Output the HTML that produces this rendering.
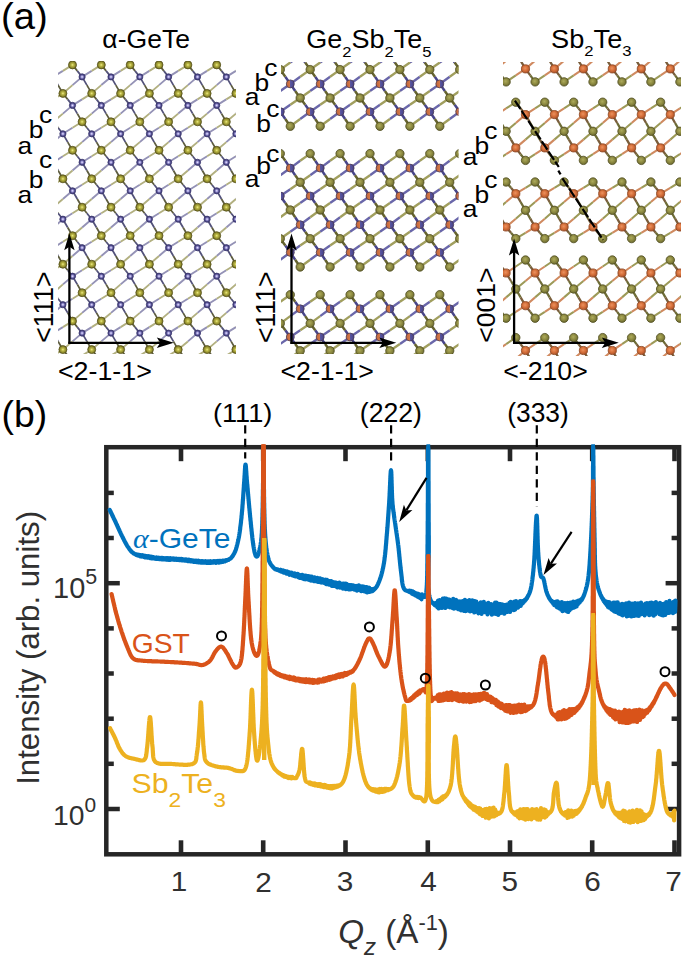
<!DOCTYPE html><html><head><meta charset="utf-8"><style>html,body{margin:0;padding:0;background:#fff;}svg{display:block;}text{font-family:"Liberation Sans",sans-serif;}</style></head><body>
<svg width="685" height="960" viewBox="0 0 685 960">
<defs>
<radialGradient id="gG" cx="0.5" cy="0.5" r="0.55"><stop offset="0" stop-color="#eeec8a"/><stop offset="0.3" stop-color="#bcb846"/><stop offset="0.72" stop-color="#88842a"/><stop offset="1" stop-color="#5a561a"/></radialGradient>
<radialGradient id="gG2" cx="0.45" cy="0.42" r="0.6"><stop offset="0" stop-color="#aeab5c"/><stop offset="0.5" stop-color="#8f8c42"/><stop offset="1" stop-color="#6a6830"/></radialGradient>
<linearGradient id="gM" x1="0" y1="0" x2="1" y2="0"><stop offset="0" stop-color="#c0643a"/><stop offset="0.5" stop-color="#d27848"/><stop offset="0.5" stop-color="#5c57a0"/><stop offset="1" stop-color="#45418a"/></linearGradient>
<radialGradient id="gP" cx="0.5" cy="0.5" r="0.55"><stop offset="0" stop-color="#f0ecff"/><stop offset="0.3" stop-color="#a29cdc"/><stop offset="0.6" stop-color="#55508f"/><stop offset="1" stop-color="#36326c"/></radialGradient>
<radialGradient id="gO" cx="0.45" cy="0.42" r="0.6"><stop offset="0" stop-color="#ec9260"/><stop offset="0.5" stop-color="#d6703a"/><stop offset="1" stop-color="#a8522a"/></radialGradient>
</defs>
<rect width="685" height="960" fill="#fff"/>
<clipPath id="clipA"><rect x="58" y="61" width="178" height="293"/></clipPath>
<g clip-path="url(#clipA)">
<path d="M24.4 76.9L34 70.9M24.4 76.9L14.8 85.1M53.3 76.9L62.9 70.9M53.3 76.9L43.7 85.1M82.1 76.9L91.7 70.9M82.1 76.9L72.5 85.1M111 76.9L120.6 70.9M111 76.9L101.3 85.1M139.8 76.9L149.4 70.9M139.8 76.9L130.2 85.1M168.6 76.9L178.2 70.9M168.6 76.9L159 85.1M197.5 76.9L207.1 70.9M197.5 76.9L187.9 85.1M226.3 76.9L235.9 70.9M226.3 76.9L216.7 85.1M255.2 76.9L264.8 70.9M255.2 76.9L245.5 85.1M14.8 105.4L24.4 99.4M14.8 105.4L5.2 113.6M43.7 105.4L53.3 99.4M43.7 105.4L34 113.6M72.5 105.4L82.1 99.4M72.5 105.4L62.9 113.6M101.3 105.4L111 99.4M101.3 105.4L91.7 113.6M130.2 105.4L139.8 99.4M130.2 105.4L120.6 113.6M159 105.4L168.6 99.4M159 105.4L149.4 113.6M187.9 105.4L197.5 99.4M187.9 105.4L178.2 113.6M216.7 105.4L226.3 99.4M216.7 105.4L207.1 113.6M245.5 105.4L255.2 99.4M245.5 105.4L235.9 113.6M274.4 105.4L284 99.4M274.4 105.4L264.8 113.6M34 133.8L43.7 127.8M34 133.8L24.4 142.1M62.9 133.8L72.5 127.8M62.9 133.8L53.3 142.1M91.7 133.8L101.3 127.8M91.7 133.8L82.1 142.1M120.6 133.8L130.2 127.8M120.6 133.8L111 142.1M149.4 133.8L159 127.8M149.4 133.8L139.8 142.1M178.2 133.8L187.9 127.8M178.2 133.8L168.6 142.1M207.1 133.8L216.7 127.8M207.1 133.8L197.5 142.1M235.9 133.8L245.5 127.8M235.9 133.8L226.3 142.1M264.8 133.8L274.4 127.8M264.8 133.8L255.2 142.1M24.4 162.3L34 156.3M24.4 162.3L14.8 170.5M53.3 162.3L62.9 156.3M53.3 162.3L43.7 170.5M82.1 162.3L91.7 156.3M82.1 162.3L72.5 170.5M111 162.3L120.6 156.3M111 162.3L101.3 170.5M139.8 162.3L149.4 156.3M139.8 162.3L130.2 170.5M168.6 162.3L178.2 156.3M168.6 162.3L159 170.5M197.5 162.3L207.1 156.3M197.5 162.3L187.9 170.5M226.3 162.3L235.9 156.3M226.3 162.3L216.7 170.5M255.2 162.3L264.8 156.3M255.2 162.3L245.5 170.5M14.8 190.8L24.4 184.8M14.8 190.8L5.2 199M43.7 190.8L53.3 184.8M43.7 190.8L34 199M72.5 190.8L82.1 184.8M72.5 190.8L62.9 199M101.3 190.8L111 184.8M101.3 190.8L91.7 199M130.2 190.8L139.8 184.8M130.2 190.8L120.6 199M159 190.8L168.6 184.8M159 190.8L149.4 199M187.9 190.8L197.5 184.8M187.9 190.8L178.2 199M216.7 190.8L226.3 184.8M216.7 190.8L207.1 199M245.5 190.8L255.2 184.8M245.5 190.8L235.9 199M274.4 190.8L284 184.8M274.4 190.8L264.8 199M34 219.2L43.7 213.2M34 219.2L24.4 227.5M62.9 219.2L72.5 213.2M62.9 219.2L53.3 227.5M91.7 219.2L101.3 213.2M91.7 219.2L82.1 227.5M120.6 219.2L130.2 213.2M120.6 219.2L111 227.5M149.4 219.2L159 213.2M149.4 219.2L139.8 227.5M178.2 219.2L187.9 213.2M178.2 219.2L168.6 227.5M207.1 219.2L216.7 213.2M207.1 219.2L197.5 227.5M235.9 219.2L245.5 213.2M235.9 219.2L226.3 227.5M264.8 219.2L274.4 213.2M264.8 219.2L255.2 227.5M24.4 247.7L34 241.7M24.4 247.7L14.8 256M53.3 247.7L62.9 241.7M53.3 247.7L43.7 256M82.1 247.7L91.7 241.7M82.1 247.7L72.5 256M111 247.7L120.6 241.7M111 247.7L101.3 256M139.8 247.7L149.4 241.7M139.8 247.7L130.2 256M168.6 247.7L178.2 241.7M168.6 247.7L159 256M197.5 247.7L207.1 241.7M197.5 247.7L187.9 256M226.3 247.7L235.9 241.7M226.3 247.7L216.7 256M255.2 247.7L264.8 241.7M255.2 247.7L245.5 256M14.8 276.2L24.4 270.2M14.8 276.2L5.2 284.4M43.7 276.2L53.3 270.2M43.7 276.2L34 284.4M72.5 276.2L82.1 270.2M72.5 276.2L62.9 284.4M101.3 276.2L111 270.2M101.3 276.2L91.7 284.4M130.2 276.2L139.8 270.2M130.2 276.2L120.6 284.4M159 276.2L168.6 270.2M159 276.2L149.4 284.4M187.9 276.2L197.5 270.2M187.9 276.2L178.2 284.4M216.7 276.2L226.3 270.2M216.7 276.2L207.1 284.4M245.5 276.2L255.2 270.2M245.5 276.2L235.9 284.4M274.4 276.2L284 270.2M274.4 276.2L264.8 284.4M34 304.7L43.7 298.7M34 304.7L24.4 312.9M62.9 304.7L72.5 298.7M62.9 304.7L53.3 312.9M91.7 304.7L101.3 298.7M91.7 304.7L82.1 312.9M120.6 304.7L130.2 298.7M120.6 304.7L111 312.9M149.4 304.7L159 298.7M149.4 304.7L139.8 312.9M178.2 304.7L187.9 298.7M178.2 304.7L168.6 312.9M207.1 304.7L216.7 298.7M207.1 304.7L197.5 312.9M235.9 304.7L245.5 298.7M235.9 304.7L226.3 312.9M264.8 304.7L274.4 298.7M264.8 304.7L255.2 312.9M24.4 333.1L34 327.1M24.4 333.1L14.8 341.4M53.3 333.1L62.9 327.1M53.3 333.1L43.7 341.4M82.1 333.1L91.7 327.1M82.1 333.1L72.5 341.4M111 333.1L120.6 327.1M111 333.1L101.3 341.4M139.8 333.1L149.4 327.1M139.8 333.1L130.2 341.4M168.6 333.1L178.2 327.1M168.6 333.1L159 341.4M197.5 333.1L207.1 327.1M197.5 333.1L187.9 341.4M226.3 333.1L235.9 327.1M226.3 333.1L216.7 341.4M255.2 333.1L264.8 327.1M255.2 333.1L245.5 341.4M14.8 361.6L24.4 355.6M43.7 361.6L53.3 355.6M72.5 361.6L82.1 355.6M101.3 361.6L111 355.6M130.2 361.6L139.8 355.6M159 361.6L168.6 355.6M187.9 361.6L197.5 355.6M216.7 361.6L226.3 355.6M245.5 361.6L255.2 355.6M274.4 361.6L284 355.6" stroke="#9492b6" stroke-width="1.9" fill="none"/>
<path d="M34 70.9L43.7 64.9M14.8 85.1L5.2 93.4M62.9 70.9L72.5 64.9M43.7 85.1L34 93.4M91.7 70.9L101.3 64.9M72.5 85.1L62.9 93.4M120.6 70.9L130.2 64.9M101.3 85.1L91.7 93.4M149.4 70.9L159 64.9M130.2 85.1L120.6 93.4M178.2 70.9L187.9 64.9M159 85.1L149.4 93.4M207.1 70.9L216.7 64.9M187.9 85.1L178.2 93.4M235.9 70.9L245.5 64.9M216.7 85.1L207.1 93.4M264.8 70.9L274.4 64.9M245.5 85.1L235.9 93.4M24.4 99.4L34 93.4M5.2 113.6L-4.4 121.8M53.3 99.4L62.9 93.4M34 113.6L24.4 121.8M82.1 99.4L91.7 93.4M62.9 113.6L53.3 121.8M111 99.4L120.6 93.4M91.7 113.6L82.1 121.8M139.8 99.4L149.4 93.4M120.6 113.6L111 121.8M168.6 99.4L178.2 93.4M149.4 113.6L139.8 121.8M197.5 99.4L207.1 93.4M178.2 113.6L168.6 121.8M226.3 99.4L235.9 93.4M207.1 113.6L197.5 121.8M255.2 99.4L264.8 93.4M235.9 113.6L226.3 121.8M284 99.4L293.6 93.4M264.8 113.6L255.2 121.8M43.7 127.8L53.3 121.8M24.4 142.1L14.8 150.3M72.5 127.8L82.1 121.8M53.3 142.1L43.7 150.3M101.3 127.8L111 121.8M82.1 142.1L72.5 150.3M130.2 127.8L139.8 121.8M111 142.1L101.3 150.3M159 127.8L168.6 121.8M139.8 142.1L130.2 150.3M187.9 127.8L197.5 121.8M168.6 142.1L159 150.3M216.7 127.8L226.3 121.8M197.5 142.1L187.9 150.3M245.5 127.8L255.2 121.8M226.3 142.1L216.7 150.3M274.4 127.8L284 121.8M255.2 142.1L245.5 150.3M34 156.3L43.7 150.3M14.8 170.5L5.2 178.8M62.9 156.3L72.5 150.3M43.7 170.5L34 178.8M91.7 156.3L101.3 150.3M72.5 170.5L62.9 178.8M120.6 156.3L130.2 150.3M101.3 170.5L91.7 178.8M149.4 156.3L159 150.3M130.2 170.5L120.6 178.8M178.2 156.3L187.9 150.3M159 170.5L149.4 178.8M207.1 156.3L216.7 150.3M187.9 170.5L178.2 178.8M235.9 156.3L245.5 150.3M216.7 170.5L207.1 178.8M264.8 156.3L274.4 150.3M245.5 170.5L235.9 178.8M24.4 184.8L34 178.8M5.2 199L-4.4 207.2M53.3 184.8L62.9 178.8M34 199L24.4 207.2M82.1 184.8L91.7 178.8M62.9 199L53.3 207.2M111 184.8L120.6 178.8M91.7 199L82.1 207.2M139.8 184.8L149.4 178.8M120.6 199L111 207.2M168.6 184.8L178.2 178.8M149.4 199L139.8 207.2M197.5 184.8L207.1 178.8M178.2 199L168.6 207.2M226.3 184.8L235.9 178.8M207.1 199L197.5 207.2M255.2 184.8L264.8 178.8M235.9 199L226.3 207.2M284 184.8L293.6 178.8M264.8 199L255.2 207.2M43.7 213.2L53.3 207.2M24.4 227.5L14.8 235.7M72.5 213.2L82.1 207.2M53.3 227.5L43.7 235.7M101.3 213.2L111 207.2M82.1 227.5L72.5 235.7M130.2 213.2L139.8 207.2M111 227.5L101.3 235.7M159 213.2L168.6 207.2M139.8 227.5L130.2 235.7M187.9 213.2L197.5 207.2M168.6 227.5L159 235.7M216.7 213.2L226.3 207.2M197.5 227.5L187.9 235.7M245.5 213.2L255.2 207.2M226.3 227.5L216.7 235.7M274.4 213.2L284 207.2M255.2 227.5L245.5 235.7M34 241.7L43.7 235.7M14.8 256L5.2 264.2M62.9 241.7L72.5 235.7M43.7 256L34 264.2M91.7 241.7L101.3 235.7M72.5 256L62.9 264.2M120.6 241.7L130.2 235.7M101.3 256L91.7 264.2M149.4 241.7L159 235.7M130.2 256L120.6 264.2M178.2 241.7L187.9 235.7M159 256L149.4 264.2M207.1 241.7L216.7 235.7M187.9 256L178.2 264.2M235.9 241.7L245.5 235.7M216.7 256L207.1 264.2M264.8 241.7L274.4 235.7M245.5 256L235.9 264.2M24.4 270.2L34 264.2M5.2 284.4L-4.4 292.7M53.3 270.2L62.9 264.2M34 284.4L24.4 292.7M82.1 270.2L91.7 264.2M62.9 284.4L53.3 292.7M111 270.2L120.6 264.2M91.7 284.4L82.1 292.7M139.8 270.2L149.4 264.2M120.6 284.4L111 292.7M168.6 270.2L178.2 264.2M149.4 284.4L139.8 292.7M197.5 270.2L207.1 264.2M178.2 284.4L168.6 292.7M226.3 270.2L235.9 264.2M207.1 284.4L197.5 292.7M255.2 270.2L264.8 264.2M235.9 284.4L226.3 292.7M284 270.2L293.6 264.2M264.8 284.4L255.2 292.7M43.7 298.7L53.3 292.7M24.4 312.9L14.8 321.1M72.5 298.7L82.1 292.7M53.3 312.9L43.7 321.1M101.3 298.7L111 292.7M82.1 312.9L72.5 321.1M130.2 298.7L139.8 292.7M111 312.9L101.3 321.1M159 298.7L168.6 292.7M139.8 312.9L130.2 321.1M187.9 298.7L197.5 292.7M168.6 312.9L159 321.1M216.7 298.7L226.3 292.7M197.5 312.9L187.9 321.1M245.5 298.7L255.2 292.7M226.3 312.9L216.7 321.1M274.4 298.7L284 292.7M255.2 312.9L245.5 321.1M34 327.1L43.7 321.1M14.8 341.4L5.2 349.6M62.9 327.1L72.5 321.1M43.7 341.4L34 349.6M91.7 327.1L101.3 321.1M72.5 341.4L62.9 349.6M120.6 327.1L130.2 321.1M101.3 341.4L91.7 349.6M149.4 327.1L159 321.1M130.2 341.4L120.6 349.6M178.2 327.1L187.9 321.1M159 341.4L149.4 349.6M207.1 327.1L216.7 321.1M187.9 341.4L178.2 349.6M235.9 327.1L245.5 321.1M216.7 341.4L207.1 349.6M264.8 327.1L274.4 321.1M245.5 341.4L235.9 349.6M24.4 355.6L34 349.6M53.3 355.6L62.9 349.6M82.1 355.6L91.7 349.6M111 355.6L120.6 349.6M139.8 355.6L149.4 349.6M168.6 355.6L178.2 349.6M197.5 355.6L207.1 349.6M226.3 355.6L235.9 349.6M255.2 355.6L264.8 349.6M284 355.6L293.6 349.6" stroke="#b2b080" stroke-width="1.9" fill="none"/>
<path d="M24.4 76.9L19.6 70.9M24.4 76.9L29.2 85.1M53.3 76.9L48.5 70.9M53.3 76.9L58.1 85.1M82.1 76.9L77.3 70.9M82.1 76.9L86.9 85.1M111 76.9L106.1 70.9M111 76.9L115.8 85.1M139.8 76.9L135 70.9M139.8 76.9L144.6 85.1M168.6 76.9L163.8 70.9M168.6 76.9L173.4 85.1M197.5 76.9L192.7 70.9M197.5 76.9L202.3 85.1M226.3 76.9L221.5 70.9M226.3 76.9L231.1 85.1M255.2 76.9L250.3 70.9M255.2 76.9L260 85.1M14.8 105.4L10 99.4M14.8 105.4L19.6 113.6M43.7 105.4L38.9 99.4M43.7 105.4L48.5 113.6M72.5 105.4L67.7 99.4M72.5 105.4L77.3 113.6M101.3 105.4L96.5 99.4M101.3 105.4L106.1 113.6M130.2 105.4L125.4 99.4M130.2 105.4L135 113.6M159 105.4L154.2 99.4M159 105.4L163.8 113.6M187.9 105.4L183.1 99.4M187.9 105.4L192.7 113.6M216.7 105.4L211.9 99.4M216.7 105.4L221.5 113.6M245.5 105.4L240.7 99.4M245.5 105.4L250.3 113.6M274.4 105.4L269.6 99.4M274.4 105.4L279.2 113.6M34 133.8L29.2 127.8M34 133.8L38.9 142.1M62.9 133.8L58.1 127.8M62.9 133.8L67.7 142.1M91.7 133.8L86.9 127.8M91.7 133.8L96.5 142.1M120.6 133.8L115.8 127.8M120.6 133.8L125.4 142.1M149.4 133.8L144.6 127.8M149.4 133.8L154.2 142.1M178.2 133.8L173.4 127.8M178.2 133.8L183.1 142.1M207.1 133.8L202.3 127.8M207.1 133.8L211.9 142.1M235.9 133.8L231.1 127.8M235.9 133.8L240.7 142.1M264.8 133.8L260 127.8M264.8 133.8L269.6 142.1M24.4 162.3L19.6 156.3M24.4 162.3L29.2 170.5M53.3 162.3L48.5 156.3M53.3 162.3L58.1 170.5M82.1 162.3L77.3 156.3M82.1 162.3L86.9 170.5M111 162.3L106.1 156.3M111 162.3L115.8 170.5M139.8 162.3L135 156.3M139.8 162.3L144.6 170.5M168.6 162.3L163.8 156.3M168.6 162.3L173.4 170.5M197.5 162.3L192.7 156.3M197.5 162.3L202.3 170.5M226.3 162.3L221.5 156.3M226.3 162.3L231.1 170.5M255.2 162.3L250.3 156.3M255.2 162.3L260 170.5M14.8 190.8L10 184.8M14.8 190.8L19.6 199M43.7 190.8L38.9 184.8M43.7 190.8L48.5 199M72.5 190.8L67.7 184.8M72.5 190.8L77.3 199M101.3 190.8L96.5 184.8M101.3 190.8L106.1 199M130.2 190.8L125.4 184.8M130.2 190.8L135 199M159 190.8L154.2 184.8M159 190.8L163.8 199M187.9 190.8L183.1 184.8M187.9 190.8L192.7 199M216.7 190.8L211.9 184.8M216.7 190.8L221.5 199M245.5 190.8L240.7 184.8M245.5 190.8L250.3 199M274.4 190.8L269.6 184.8M274.4 190.8L279.2 199M34 219.2L29.2 213.2M34 219.2L38.9 227.5M62.9 219.2L58.1 213.2M62.9 219.2L67.7 227.5M91.7 219.2L86.9 213.2M91.7 219.2L96.5 227.5M120.6 219.2L115.8 213.2M120.6 219.2L125.4 227.5M149.4 219.2L144.6 213.2M149.4 219.2L154.2 227.5M178.2 219.2L173.4 213.2M178.2 219.2L183.1 227.5M207.1 219.2L202.3 213.2M207.1 219.2L211.9 227.5M235.9 219.2L231.1 213.2M235.9 219.2L240.7 227.5M264.8 219.2L260 213.2M264.8 219.2L269.6 227.5M24.4 247.7L19.6 241.7M24.4 247.7L29.2 256M53.3 247.7L48.5 241.7M53.3 247.7L58.1 256M82.1 247.7L77.3 241.7M82.1 247.7L86.9 256M111 247.7L106.1 241.7M111 247.7L115.8 256M139.8 247.7L135 241.7M139.8 247.7L144.6 256M168.6 247.7L163.8 241.7M168.6 247.7L173.4 256M197.5 247.7L192.7 241.7M197.5 247.7L202.3 256M226.3 247.7L221.5 241.7M226.3 247.7L231.1 256M255.2 247.7L250.3 241.7M255.2 247.7L260 256M14.8 276.2L10 270.2M14.8 276.2L19.6 284.4M43.7 276.2L38.9 270.2M43.7 276.2L48.5 284.4M72.5 276.2L67.7 270.2M72.5 276.2L77.3 284.4M101.3 276.2L96.5 270.2M101.3 276.2L106.1 284.4M130.2 276.2L125.4 270.2M130.2 276.2L135 284.4M159 276.2L154.2 270.2M159 276.2L163.8 284.4M187.9 276.2L183.1 270.2M187.9 276.2L192.7 284.4M216.7 276.2L211.9 270.2M216.7 276.2L221.5 284.4M245.5 276.2L240.7 270.2M245.5 276.2L250.3 284.4M274.4 276.2L269.6 270.2M274.4 276.2L279.2 284.4M34 304.7L29.2 298.7M34 304.7L38.9 312.9M62.9 304.7L58.1 298.7M62.9 304.7L67.7 312.9M91.7 304.7L86.9 298.7M91.7 304.7L96.5 312.9M120.6 304.7L115.8 298.7M120.6 304.7L125.4 312.9M149.4 304.7L144.6 298.7M149.4 304.7L154.2 312.9M178.2 304.7L173.4 298.7M178.2 304.7L183.1 312.9M207.1 304.7L202.3 298.7M207.1 304.7L211.9 312.9M235.9 304.7L231.1 298.7M235.9 304.7L240.7 312.9M264.8 304.7L260 298.7M264.8 304.7L269.6 312.9M24.4 333.1L19.6 327.1M24.4 333.1L29.2 341.4M53.3 333.1L48.5 327.1M53.3 333.1L58.1 341.4M82.1 333.1L77.3 327.1M82.1 333.1L86.9 341.4M111 333.1L106.1 327.1M111 333.1L115.8 341.4M139.8 333.1L135 327.1M139.8 333.1L144.6 341.4M168.6 333.1L163.8 327.1M168.6 333.1L173.4 341.4M197.5 333.1L192.7 327.1M197.5 333.1L202.3 341.4M226.3 333.1L221.5 327.1M226.3 333.1L231.1 341.4M255.2 333.1L250.3 327.1M255.2 333.1L260 341.4M14.8 361.6L10 355.6M43.7 361.6L38.9 355.6M72.5 361.6L67.7 355.6M101.3 361.6L96.5 355.6M130.2 361.6L125.4 355.6M159 361.6L154.2 355.6M187.9 361.6L183.1 355.6M216.7 361.6L211.9 355.6M245.5 361.6L240.7 355.6M274.4 361.6L269.6 355.6" stroke="#53527a" stroke-width="1.75" fill="none"/>
<path d="M19.6 70.9L14.8 64.9M29.2 85.1L34 93.4M48.5 70.9L43.7 64.9M58.1 85.1L62.9 93.4M77.3 70.9L72.5 64.9M86.9 85.1L91.7 93.4M106.1 70.9L101.3 64.9M115.8 85.1L120.6 93.4M135 70.9L130.2 64.9M144.6 85.1L149.4 93.4M163.8 70.9L159 64.9M173.4 85.1L178.2 93.4M192.7 70.9L187.9 64.9M202.3 85.1L207.1 93.4M221.5 70.9L216.7 64.9M231.1 85.1L235.9 93.4M250.3 70.9L245.5 64.9M260 85.1L264.8 93.4M10 99.4L5.2 93.4M19.6 113.6L24.4 121.8M38.9 99.4L34 93.4M48.5 113.6L53.3 121.8M67.7 99.4L62.9 93.4M77.3 113.6L82.1 121.8M96.5 99.4L91.7 93.4M106.1 113.6L111 121.8M125.4 99.4L120.6 93.4M135 113.6L139.8 121.8M154.2 99.4L149.4 93.4M163.8 113.6L168.6 121.8M183.1 99.4L178.2 93.4M192.7 113.6L197.5 121.8M211.9 99.4L207.1 93.4M221.5 113.6L226.3 121.8M240.7 99.4L235.9 93.4M250.3 113.6L255.2 121.8M269.6 99.4L264.8 93.4M279.2 113.6L284 121.8M29.2 127.8L24.4 121.8M38.9 142.1L43.7 150.3M58.1 127.8L53.3 121.8M67.7 142.1L72.5 150.3M86.9 127.8L82.1 121.8M96.5 142.1L101.3 150.3M115.8 127.8L111 121.8M125.4 142.1L130.2 150.3M144.6 127.8L139.8 121.8M154.2 142.1L159 150.3M173.4 127.8L168.6 121.8M183.1 142.1L187.9 150.3M202.3 127.8L197.5 121.8M211.9 142.1L216.7 150.3M231.1 127.8L226.3 121.8M240.7 142.1L245.5 150.3M260 127.8L255.2 121.8M269.6 142.1L274.4 150.3M19.6 156.3L14.8 150.3M29.2 170.5L34 178.8M48.5 156.3L43.7 150.3M58.1 170.5L62.9 178.8M77.3 156.3L72.5 150.3M86.9 170.5L91.7 178.8M106.1 156.3L101.3 150.3M115.8 170.5L120.6 178.8M135 156.3L130.2 150.3M144.6 170.5L149.4 178.8M163.8 156.3L159 150.3M173.4 170.5L178.2 178.8M192.7 156.3L187.9 150.3M202.3 170.5L207.1 178.8M221.5 156.3L216.7 150.3M231.1 170.5L235.9 178.8M250.3 156.3L245.5 150.3M260 170.5L264.8 178.8M10 184.8L5.2 178.8M19.6 199L24.4 207.2M38.9 184.8L34 178.8M48.5 199L53.3 207.2M67.7 184.8L62.9 178.8M77.3 199L82.1 207.2M96.5 184.8L91.7 178.8M106.1 199L111 207.2M125.4 184.8L120.6 178.8M135 199L139.8 207.2M154.2 184.8L149.4 178.8M163.8 199L168.6 207.2M183.1 184.8L178.2 178.8M192.7 199L197.5 207.2M211.9 184.8L207.1 178.8M221.5 199L226.3 207.2M240.7 184.8L235.9 178.8M250.3 199L255.2 207.2M269.6 184.8L264.8 178.8M279.2 199L284 207.2M29.2 213.2L24.4 207.2M38.9 227.5L43.7 235.7M58.1 213.2L53.3 207.2M67.7 227.5L72.5 235.7M86.9 213.2L82.1 207.2M96.5 227.5L101.3 235.7M115.8 213.2L111 207.2M125.4 227.5L130.2 235.7M144.6 213.2L139.8 207.2M154.2 227.5L159 235.7M173.4 213.2L168.6 207.2M183.1 227.5L187.9 235.7M202.3 213.2L197.5 207.2M211.9 227.5L216.7 235.7M231.1 213.2L226.3 207.2M240.7 227.5L245.5 235.7M260 213.2L255.2 207.2M269.6 227.5L274.4 235.7M19.6 241.7L14.8 235.7M29.2 256L34 264.2M48.5 241.7L43.7 235.7M58.1 256L62.9 264.2M77.3 241.7L72.5 235.7M86.9 256L91.7 264.2M106.1 241.7L101.3 235.7M115.8 256L120.6 264.2M135 241.7L130.2 235.7M144.6 256L149.4 264.2M163.8 241.7L159 235.7M173.4 256L178.2 264.2M192.7 241.7L187.9 235.7M202.3 256L207.1 264.2M221.5 241.7L216.7 235.7M231.1 256L235.9 264.2M250.3 241.7L245.5 235.7M260 256L264.8 264.2M10 270.2L5.2 264.2M19.6 284.4L24.4 292.7M38.9 270.2L34 264.2M48.5 284.4L53.3 292.7M67.7 270.2L62.9 264.2M77.3 284.4L82.1 292.7M96.5 270.2L91.7 264.2M106.1 284.4L111 292.7M125.4 270.2L120.6 264.2M135 284.4L139.8 292.7M154.2 270.2L149.4 264.2M163.8 284.4L168.6 292.7M183.1 270.2L178.2 264.2M192.7 284.4L197.5 292.7M211.9 270.2L207.1 264.2M221.5 284.4L226.3 292.7M240.7 270.2L235.9 264.2M250.3 284.4L255.2 292.7M269.6 270.2L264.8 264.2M279.2 284.4L284 292.7M29.2 298.7L24.4 292.7M38.9 312.9L43.7 321.1M58.1 298.7L53.3 292.7M67.7 312.9L72.5 321.1M86.9 298.7L82.1 292.7M96.5 312.9L101.3 321.1M115.8 298.7L111 292.7M125.4 312.9L130.2 321.1M144.6 298.7L139.8 292.7M154.2 312.9L159 321.1M173.4 298.7L168.6 292.7M183.1 312.9L187.9 321.1M202.3 298.7L197.5 292.7M211.9 312.9L216.7 321.1M231.1 298.7L226.3 292.7M240.7 312.9L245.5 321.1M260 298.7L255.2 292.7M269.6 312.9L274.4 321.1M19.6 327.1L14.8 321.1M29.2 341.4L34 349.6M48.5 327.1L43.7 321.1M58.1 341.4L62.9 349.6M77.3 327.1L72.5 321.1M86.9 341.4L91.7 349.6M106.1 327.1L101.3 321.1M115.8 341.4L120.6 349.6M135 327.1L130.2 321.1M144.6 341.4L149.4 349.6M163.8 327.1L159 321.1M173.4 341.4L178.2 349.6M192.7 327.1L187.9 321.1M202.3 341.4L207.1 349.6M221.5 327.1L216.7 321.1M231.1 341.4L235.9 349.6M250.3 327.1L245.5 321.1M260 341.4L264.8 349.6M10 355.6L5.2 349.6M38.9 355.6L34 349.6M67.7 355.6L62.9 349.6M96.5 355.6L91.7 349.6M125.4 355.6L120.6 349.6M154.2 355.6L149.4 349.6M183.1 355.6L178.2 349.6M211.9 355.6L207.1 349.6M240.7 355.6L235.9 349.6M269.6 355.6L264.8 349.6" stroke="#5e5d40" stroke-width="1.75" fill="none"/>
<circle cx="14.8" cy="64.9" r="4" fill="url(#gG)" stroke="#5a561c" stroke-width="0.8"/>
<circle cx="43.7" cy="64.9" r="4" fill="url(#gG)" stroke="#5a561c" stroke-width="0.8"/>
<circle cx="72.5" cy="64.9" r="4" fill="url(#gG)" stroke="#5a561c" stroke-width="0.8"/>
<circle cx="101.3" cy="64.9" r="4" fill="url(#gG)" stroke="#5a561c" stroke-width="0.8"/>
<circle cx="130.2" cy="64.9" r="4" fill="url(#gG)" stroke="#5a561c" stroke-width="0.8"/>
<circle cx="159" cy="64.9" r="4" fill="url(#gG)" stroke="#5a561c" stroke-width="0.8"/>
<circle cx="187.9" cy="64.9" r="4" fill="url(#gG)" stroke="#5a561c" stroke-width="0.8"/>
<circle cx="216.7" cy="64.9" r="4" fill="url(#gG)" stroke="#5a561c" stroke-width="0.8"/>
<circle cx="245.5" cy="64.9" r="4" fill="url(#gG)" stroke="#5a561c" stroke-width="0.8"/>
<circle cx="274.4" cy="64.9" r="4" fill="url(#gG)" stroke="#5a561c" stroke-width="0.8"/>
<circle cx="24.4" cy="76.9" r="3.1" fill="url(#gP)" stroke="#3a3670" stroke-width="0.8"/>
<circle cx="53.3" cy="76.9" r="3.1" fill="url(#gP)" stroke="#3a3670" stroke-width="0.8"/>
<circle cx="82.1" cy="76.9" r="3.1" fill="url(#gP)" stroke="#3a3670" stroke-width="0.8"/>
<circle cx="111" cy="76.9" r="3.1" fill="url(#gP)" stroke="#3a3670" stroke-width="0.8"/>
<circle cx="139.8" cy="76.9" r="3.1" fill="url(#gP)" stroke="#3a3670" stroke-width="0.8"/>
<circle cx="168.6" cy="76.9" r="3.1" fill="url(#gP)" stroke="#3a3670" stroke-width="0.8"/>
<circle cx="197.5" cy="76.9" r="3.1" fill="url(#gP)" stroke="#3a3670" stroke-width="0.8"/>
<circle cx="226.3" cy="76.9" r="3.1" fill="url(#gP)" stroke="#3a3670" stroke-width="0.8"/>
<circle cx="255.2" cy="76.9" r="3.1" fill="url(#gP)" stroke="#3a3670" stroke-width="0.8"/>
<circle cx="34" cy="93.4" r="4" fill="url(#gG)" stroke="#5a561c" stroke-width="0.8"/>
<circle cx="62.9" cy="93.4" r="4" fill="url(#gG)" stroke="#5a561c" stroke-width="0.8"/>
<circle cx="91.7" cy="93.4" r="4" fill="url(#gG)" stroke="#5a561c" stroke-width="0.8"/>
<circle cx="120.6" cy="93.4" r="4" fill="url(#gG)" stroke="#5a561c" stroke-width="0.8"/>
<circle cx="149.4" cy="93.4" r="4" fill="url(#gG)" stroke="#5a561c" stroke-width="0.8"/>
<circle cx="178.2" cy="93.4" r="4" fill="url(#gG)" stroke="#5a561c" stroke-width="0.8"/>
<circle cx="207.1" cy="93.4" r="4" fill="url(#gG)" stroke="#5a561c" stroke-width="0.8"/>
<circle cx="235.9" cy="93.4" r="4" fill="url(#gG)" stroke="#5a561c" stroke-width="0.8"/>
<circle cx="264.8" cy="93.4" r="4" fill="url(#gG)" stroke="#5a561c" stroke-width="0.8"/>
<circle cx="14.8" cy="105.4" r="3.1" fill="url(#gP)" stroke="#3a3670" stroke-width="0.8"/>
<circle cx="43.7" cy="105.4" r="3.1" fill="url(#gP)" stroke="#3a3670" stroke-width="0.8"/>
<circle cx="72.5" cy="105.4" r="3.1" fill="url(#gP)" stroke="#3a3670" stroke-width="0.8"/>
<circle cx="101.3" cy="105.4" r="3.1" fill="url(#gP)" stroke="#3a3670" stroke-width="0.8"/>
<circle cx="130.2" cy="105.4" r="3.1" fill="url(#gP)" stroke="#3a3670" stroke-width="0.8"/>
<circle cx="159" cy="105.4" r="3.1" fill="url(#gP)" stroke="#3a3670" stroke-width="0.8"/>
<circle cx="187.9" cy="105.4" r="3.1" fill="url(#gP)" stroke="#3a3670" stroke-width="0.8"/>
<circle cx="216.7" cy="105.4" r="3.1" fill="url(#gP)" stroke="#3a3670" stroke-width="0.8"/>
<circle cx="245.5" cy="105.4" r="3.1" fill="url(#gP)" stroke="#3a3670" stroke-width="0.8"/>
<circle cx="274.4" cy="105.4" r="3.1" fill="url(#gP)" stroke="#3a3670" stroke-width="0.8"/>
<circle cx="24.4" cy="121.8" r="4" fill="url(#gG)" stroke="#5a561c" stroke-width="0.8"/>
<circle cx="53.3" cy="121.8" r="4" fill="url(#gG)" stroke="#5a561c" stroke-width="0.8"/>
<circle cx="82.1" cy="121.8" r="4" fill="url(#gG)" stroke="#5a561c" stroke-width="0.8"/>
<circle cx="111" cy="121.8" r="4" fill="url(#gG)" stroke="#5a561c" stroke-width="0.8"/>
<circle cx="139.8" cy="121.8" r="4" fill="url(#gG)" stroke="#5a561c" stroke-width="0.8"/>
<circle cx="168.6" cy="121.8" r="4" fill="url(#gG)" stroke="#5a561c" stroke-width="0.8"/>
<circle cx="197.5" cy="121.8" r="4" fill="url(#gG)" stroke="#5a561c" stroke-width="0.8"/>
<circle cx="226.3" cy="121.8" r="4" fill="url(#gG)" stroke="#5a561c" stroke-width="0.8"/>
<circle cx="255.2" cy="121.8" r="4" fill="url(#gG)" stroke="#5a561c" stroke-width="0.8"/>
<circle cx="34" cy="133.8" r="3.1" fill="url(#gP)" stroke="#3a3670" stroke-width="0.8"/>
<circle cx="62.9" cy="133.8" r="3.1" fill="url(#gP)" stroke="#3a3670" stroke-width="0.8"/>
<circle cx="91.7" cy="133.8" r="3.1" fill="url(#gP)" stroke="#3a3670" stroke-width="0.8"/>
<circle cx="120.6" cy="133.8" r="3.1" fill="url(#gP)" stroke="#3a3670" stroke-width="0.8"/>
<circle cx="149.4" cy="133.8" r="3.1" fill="url(#gP)" stroke="#3a3670" stroke-width="0.8"/>
<circle cx="178.2" cy="133.8" r="3.1" fill="url(#gP)" stroke="#3a3670" stroke-width="0.8"/>
<circle cx="207.1" cy="133.8" r="3.1" fill="url(#gP)" stroke="#3a3670" stroke-width="0.8"/>
<circle cx="235.9" cy="133.8" r="3.1" fill="url(#gP)" stroke="#3a3670" stroke-width="0.8"/>
<circle cx="264.8" cy="133.8" r="3.1" fill="url(#gP)" stroke="#3a3670" stroke-width="0.8"/>
<circle cx="14.8" cy="150.3" r="4" fill="url(#gG)" stroke="#5a561c" stroke-width="0.8"/>
<circle cx="43.7" cy="150.3" r="4" fill="url(#gG)" stroke="#5a561c" stroke-width="0.8"/>
<circle cx="72.5" cy="150.3" r="4" fill="url(#gG)" stroke="#5a561c" stroke-width="0.8"/>
<circle cx="101.3" cy="150.3" r="4" fill="url(#gG)" stroke="#5a561c" stroke-width="0.8"/>
<circle cx="130.2" cy="150.3" r="4" fill="url(#gG)" stroke="#5a561c" stroke-width="0.8"/>
<circle cx="159" cy="150.3" r="4" fill="url(#gG)" stroke="#5a561c" stroke-width="0.8"/>
<circle cx="187.9" cy="150.3" r="4" fill="url(#gG)" stroke="#5a561c" stroke-width="0.8"/>
<circle cx="216.7" cy="150.3" r="4" fill="url(#gG)" stroke="#5a561c" stroke-width="0.8"/>
<circle cx="245.5" cy="150.3" r="4" fill="url(#gG)" stroke="#5a561c" stroke-width="0.8"/>
<circle cx="274.4" cy="150.3" r="4" fill="url(#gG)" stroke="#5a561c" stroke-width="0.8"/>
<circle cx="24.4" cy="162.3" r="3.1" fill="url(#gP)" stroke="#3a3670" stroke-width="0.8"/>
<circle cx="53.3" cy="162.3" r="3.1" fill="url(#gP)" stroke="#3a3670" stroke-width="0.8"/>
<circle cx="82.1" cy="162.3" r="3.1" fill="url(#gP)" stroke="#3a3670" stroke-width="0.8"/>
<circle cx="111" cy="162.3" r="3.1" fill="url(#gP)" stroke="#3a3670" stroke-width="0.8"/>
<circle cx="139.8" cy="162.3" r="3.1" fill="url(#gP)" stroke="#3a3670" stroke-width="0.8"/>
<circle cx="168.6" cy="162.3" r="3.1" fill="url(#gP)" stroke="#3a3670" stroke-width="0.8"/>
<circle cx="197.5" cy="162.3" r="3.1" fill="url(#gP)" stroke="#3a3670" stroke-width="0.8"/>
<circle cx="226.3" cy="162.3" r="3.1" fill="url(#gP)" stroke="#3a3670" stroke-width="0.8"/>
<circle cx="255.2" cy="162.3" r="3.1" fill="url(#gP)" stroke="#3a3670" stroke-width="0.8"/>
<circle cx="34" cy="178.8" r="4" fill="url(#gG)" stroke="#5a561c" stroke-width="0.8"/>
<circle cx="62.9" cy="178.8" r="4" fill="url(#gG)" stroke="#5a561c" stroke-width="0.8"/>
<circle cx="91.7" cy="178.8" r="4" fill="url(#gG)" stroke="#5a561c" stroke-width="0.8"/>
<circle cx="120.6" cy="178.8" r="4" fill="url(#gG)" stroke="#5a561c" stroke-width="0.8"/>
<circle cx="149.4" cy="178.8" r="4" fill="url(#gG)" stroke="#5a561c" stroke-width="0.8"/>
<circle cx="178.2" cy="178.8" r="4" fill="url(#gG)" stroke="#5a561c" stroke-width="0.8"/>
<circle cx="207.1" cy="178.8" r="4" fill="url(#gG)" stroke="#5a561c" stroke-width="0.8"/>
<circle cx="235.9" cy="178.8" r="4" fill="url(#gG)" stroke="#5a561c" stroke-width="0.8"/>
<circle cx="264.8" cy="178.8" r="4" fill="url(#gG)" stroke="#5a561c" stroke-width="0.8"/>
<circle cx="14.8" cy="190.8" r="3.1" fill="url(#gP)" stroke="#3a3670" stroke-width="0.8"/>
<circle cx="43.7" cy="190.8" r="3.1" fill="url(#gP)" stroke="#3a3670" stroke-width="0.8"/>
<circle cx="72.5" cy="190.8" r="3.1" fill="url(#gP)" stroke="#3a3670" stroke-width="0.8"/>
<circle cx="101.3" cy="190.8" r="3.1" fill="url(#gP)" stroke="#3a3670" stroke-width="0.8"/>
<circle cx="130.2" cy="190.8" r="3.1" fill="url(#gP)" stroke="#3a3670" stroke-width="0.8"/>
<circle cx="159" cy="190.8" r="3.1" fill="url(#gP)" stroke="#3a3670" stroke-width="0.8"/>
<circle cx="187.9" cy="190.8" r="3.1" fill="url(#gP)" stroke="#3a3670" stroke-width="0.8"/>
<circle cx="216.7" cy="190.8" r="3.1" fill="url(#gP)" stroke="#3a3670" stroke-width="0.8"/>
<circle cx="245.5" cy="190.8" r="3.1" fill="url(#gP)" stroke="#3a3670" stroke-width="0.8"/>
<circle cx="274.4" cy="190.8" r="3.1" fill="url(#gP)" stroke="#3a3670" stroke-width="0.8"/>
<circle cx="24.4" cy="207.2" r="4" fill="url(#gG)" stroke="#5a561c" stroke-width="0.8"/>
<circle cx="53.3" cy="207.2" r="4" fill="url(#gG)" stroke="#5a561c" stroke-width="0.8"/>
<circle cx="82.1" cy="207.2" r="4" fill="url(#gG)" stroke="#5a561c" stroke-width="0.8"/>
<circle cx="111" cy="207.2" r="4" fill="url(#gG)" stroke="#5a561c" stroke-width="0.8"/>
<circle cx="139.8" cy="207.2" r="4" fill="url(#gG)" stroke="#5a561c" stroke-width="0.8"/>
<circle cx="168.6" cy="207.2" r="4" fill="url(#gG)" stroke="#5a561c" stroke-width="0.8"/>
<circle cx="197.5" cy="207.2" r="4" fill="url(#gG)" stroke="#5a561c" stroke-width="0.8"/>
<circle cx="226.3" cy="207.2" r="4" fill="url(#gG)" stroke="#5a561c" stroke-width="0.8"/>
<circle cx="255.2" cy="207.2" r="4" fill="url(#gG)" stroke="#5a561c" stroke-width="0.8"/>
<circle cx="34" cy="219.2" r="3.1" fill="url(#gP)" stroke="#3a3670" stroke-width="0.8"/>
<circle cx="62.9" cy="219.2" r="3.1" fill="url(#gP)" stroke="#3a3670" stroke-width="0.8"/>
<circle cx="91.7" cy="219.2" r="3.1" fill="url(#gP)" stroke="#3a3670" stroke-width="0.8"/>
<circle cx="120.6" cy="219.2" r="3.1" fill="url(#gP)" stroke="#3a3670" stroke-width="0.8"/>
<circle cx="149.4" cy="219.2" r="3.1" fill="url(#gP)" stroke="#3a3670" stroke-width="0.8"/>
<circle cx="178.2" cy="219.2" r="3.1" fill="url(#gP)" stroke="#3a3670" stroke-width="0.8"/>
<circle cx="207.1" cy="219.2" r="3.1" fill="url(#gP)" stroke="#3a3670" stroke-width="0.8"/>
<circle cx="235.9" cy="219.2" r="3.1" fill="url(#gP)" stroke="#3a3670" stroke-width="0.8"/>
<circle cx="264.8" cy="219.2" r="3.1" fill="url(#gP)" stroke="#3a3670" stroke-width="0.8"/>
<circle cx="14.8" cy="235.7" r="4" fill="url(#gG)" stroke="#5a561c" stroke-width="0.8"/>
<circle cx="43.7" cy="235.7" r="4" fill="url(#gG)" stroke="#5a561c" stroke-width="0.8"/>
<circle cx="72.5" cy="235.7" r="4" fill="url(#gG)" stroke="#5a561c" stroke-width="0.8"/>
<circle cx="101.3" cy="235.7" r="4" fill="url(#gG)" stroke="#5a561c" stroke-width="0.8"/>
<circle cx="130.2" cy="235.7" r="4" fill="url(#gG)" stroke="#5a561c" stroke-width="0.8"/>
<circle cx="159" cy="235.7" r="4" fill="url(#gG)" stroke="#5a561c" stroke-width="0.8"/>
<circle cx="187.9" cy="235.7" r="4" fill="url(#gG)" stroke="#5a561c" stroke-width="0.8"/>
<circle cx="216.7" cy="235.7" r="4" fill="url(#gG)" stroke="#5a561c" stroke-width="0.8"/>
<circle cx="245.5" cy="235.7" r="4" fill="url(#gG)" stroke="#5a561c" stroke-width="0.8"/>
<circle cx="274.4" cy="235.7" r="4" fill="url(#gG)" stroke="#5a561c" stroke-width="0.8"/>
<circle cx="24.4" cy="247.7" r="3.1" fill="url(#gP)" stroke="#3a3670" stroke-width="0.8"/>
<circle cx="53.3" cy="247.7" r="3.1" fill="url(#gP)" stroke="#3a3670" stroke-width="0.8"/>
<circle cx="82.1" cy="247.7" r="3.1" fill="url(#gP)" stroke="#3a3670" stroke-width="0.8"/>
<circle cx="111" cy="247.7" r="3.1" fill="url(#gP)" stroke="#3a3670" stroke-width="0.8"/>
<circle cx="139.8" cy="247.7" r="3.1" fill="url(#gP)" stroke="#3a3670" stroke-width="0.8"/>
<circle cx="168.6" cy="247.7" r="3.1" fill="url(#gP)" stroke="#3a3670" stroke-width="0.8"/>
<circle cx="197.5" cy="247.7" r="3.1" fill="url(#gP)" stroke="#3a3670" stroke-width="0.8"/>
<circle cx="226.3" cy="247.7" r="3.1" fill="url(#gP)" stroke="#3a3670" stroke-width="0.8"/>
<circle cx="255.2" cy="247.7" r="3.1" fill="url(#gP)" stroke="#3a3670" stroke-width="0.8"/>
<circle cx="34" cy="264.2" r="4" fill="url(#gG)" stroke="#5a561c" stroke-width="0.8"/>
<circle cx="62.9" cy="264.2" r="4" fill="url(#gG)" stroke="#5a561c" stroke-width="0.8"/>
<circle cx="91.7" cy="264.2" r="4" fill="url(#gG)" stroke="#5a561c" stroke-width="0.8"/>
<circle cx="120.6" cy="264.2" r="4" fill="url(#gG)" stroke="#5a561c" stroke-width="0.8"/>
<circle cx="149.4" cy="264.2" r="4" fill="url(#gG)" stroke="#5a561c" stroke-width="0.8"/>
<circle cx="178.2" cy="264.2" r="4" fill="url(#gG)" stroke="#5a561c" stroke-width="0.8"/>
<circle cx="207.1" cy="264.2" r="4" fill="url(#gG)" stroke="#5a561c" stroke-width="0.8"/>
<circle cx="235.9" cy="264.2" r="4" fill="url(#gG)" stroke="#5a561c" stroke-width="0.8"/>
<circle cx="264.8" cy="264.2" r="4" fill="url(#gG)" stroke="#5a561c" stroke-width="0.8"/>
<circle cx="14.8" cy="276.2" r="3.1" fill="url(#gP)" stroke="#3a3670" stroke-width="0.8"/>
<circle cx="43.7" cy="276.2" r="3.1" fill="url(#gP)" stroke="#3a3670" stroke-width="0.8"/>
<circle cx="72.5" cy="276.2" r="3.1" fill="url(#gP)" stroke="#3a3670" stroke-width="0.8"/>
<circle cx="101.3" cy="276.2" r="3.1" fill="url(#gP)" stroke="#3a3670" stroke-width="0.8"/>
<circle cx="130.2" cy="276.2" r="3.1" fill="url(#gP)" stroke="#3a3670" stroke-width="0.8"/>
<circle cx="159" cy="276.2" r="3.1" fill="url(#gP)" stroke="#3a3670" stroke-width="0.8"/>
<circle cx="187.9" cy="276.2" r="3.1" fill="url(#gP)" stroke="#3a3670" stroke-width="0.8"/>
<circle cx="216.7" cy="276.2" r="3.1" fill="url(#gP)" stroke="#3a3670" stroke-width="0.8"/>
<circle cx="245.5" cy="276.2" r="3.1" fill="url(#gP)" stroke="#3a3670" stroke-width="0.8"/>
<circle cx="274.4" cy="276.2" r="3.1" fill="url(#gP)" stroke="#3a3670" stroke-width="0.8"/>
<circle cx="24.4" cy="292.7" r="4" fill="url(#gG)" stroke="#5a561c" stroke-width="0.8"/>
<circle cx="53.3" cy="292.7" r="4" fill="url(#gG)" stroke="#5a561c" stroke-width="0.8"/>
<circle cx="82.1" cy="292.7" r="4" fill="url(#gG)" stroke="#5a561c" stroke-width="0.8"/>
<circle cx="111" cy="292.7" r="4" fill="url(#gG)" stroke="#5a561c" stroke-width="0.8"/>
<circle cx="139.8" cy="292.7" r="4" fill="url(#gG)" stroke="#5a561c" stroke-width="0.8"/>
<circle cx="168.6" cy="292.7" r="4" fill="url(#gG)" stroke="#5a561c" stroke-width="0.8"/>
<circle cx="197.5" cy="292.7" r="4" fill="url(#gG)" stroke="#5a561c" stroke-width="0.8"/>
<circle cx="226.3" cy="292.7" r="4" fill="url(#gG)" stroke="#5a561c" stroke-width="0.8"/>
<circle cx="255.2" cy="292.7" r="4" fill="url(#gG)" stroke="#5a561c" stroke-width="0.8"/>
<circle cx="34" cy="304.7" r="3.1" fill="url(#gP)" stroke="#3a3670" stroke-width="0.8"/>
<circle cx="62.9" cy="304.7" r="3.1" fill="url(#gP)" stroke="#3a3670" stroke-width="0.8"/>
<circle cx="91.7" cy="304.7" r="3.1" fill="url(#gP)" stroke="#3a3670" stroke-width="0.8"/>
<circle cx="120.6" cy="304.7" r="3.1" fill="url(#gP)" stroke="#3a3670" stroke-width="0.8"/>
<circle cx="149.4" cy="304.7" r="3.1" fill="url(#gP)" stroke="#3a3670" stroke-width="0.8"/>
<circle cx="178.2" cy="304.7" r="3.1" fill="url(#gP)" stroke="#3a3670" stroke-width="0.8"/>
<circle cx="207.1" cy="304.7" r="3.1" fill="url(#gP)" stroke="#3a3670" stroke-width="0.8"/>
<circle cx="235.9" cy="304.7" r="3.1" fill="url(#gP)" stroke="#3a3670" stroke-width="0.8"/>
<circle cx="264.8" cy="304.7" r="3.1" fill="url(#gP)" stroke="#3a3670" stroke-width="0.8"/>
<circle cx="14.8" cy="321.1" r="4" fill="url(#gG)" stroke="#5a561c" stroke-width="0.8"/>
<circle cx="43.7" cy="321.1" r="4" fill="url(#gG)" stroke="#5a561c" stroke-width="0.8"/>
<circle cx="72.5" cy="321.1" r="4" fill="url(#gG)" stroke="#5a561c" stroke-width="0.8"/>
<circle cx="101.3" cy="321.1" r="4" fill="url(#gG)" stroke="#5a561c" stroke-width="0.8"/>
<circle cx="130.2" cy="321.1" r="4" fill="url(#gG)" stroke="#5a561c" stroke-width="0.8"/>
<circle cx="159" cy="321.1" r="4" fill="url(#gG)" stroke="#5a561c" stroke-width="0.8"/>
<circle cx="187.9" cy="321.1" r="4" fill="url(#gG)" stroke="#5a561c" stroke-width="0.8"/>
<circle cx="216.7" cy="321.1" r="4" fill="url(#gG)" stroke="#5a561c" stroke-width="0.8"/>
<circle cx="245.5" cy="321.1" r="4" fill="url(#gG)" stroke="#5a561c" stroke-width="0.8"/>
<circle cx="274.4" cy="321.1" r="4" fill="url(#gG)" stroke="#5a561c" stroke-width="0.8"/>
<circle cx="24.4" cy="333.1" r="3.1" fill="url(#gP)" stroke="#3a3670" stroke-width="0.8"/>
<circle cx="53.3" cy="333.1" r="3.1" fill="url(#gP)" stroke="#3a3670" stroke-width="0.8"/>
<circle cx="82.1" cy="333.1" r="3.1" fill="url(#gP)" stroke="#3a3670" stroke-width="0.8"/>
<circle cx="111" cy="333.1" r="3.1" fill="url(#gP)" stroke="#3a3670" stroke-width="0.8"/>
<circle cx="139.8" cy="333.1" r="3.1" fill="url(#gP)" stroke="#3a3670" stroke-width="0.8"/>
<circle cx="168.6" cy="333.1" r="3.1" fill="url(#gP)" stroke="#3a3670" stroke-width="0.8"/>
<circle cx="197.5" cy="333.1" r="3.1" fill="url(#gP)" stroke="#3a3670" stroke-width="0.8"/>
<circle cx="226.3" cy="333.1" r="3.1" fill="url(#gP)" stroke="#3a3670" stroke-width="0.8"/>
<circle cx="255.2" cy="333.1" r="3.1" fill="url(#gP)" stroke="#3a3670" stroke-width="0.8"/>
<circle cx="34" cy="349.6" r="4" fill="url(#gG)" stroke="#5a561c" stroke-width="0.8"/>
<circle cx="62.9" cy="349.6" r="4" fill="url(#gG)" stroke="#5a561c" stroke-width="0.8"/>
<circle cx="91.7" cy="349.6" r="4" fill="url(#gG)" stroke="#5a561c" stroke-width="0.8"/>
<circle cx="120.6" cy="349.6" r="4" fill="url(#gG)" stroke="#5a561c" stroke-width="0.8"/>
<circle cx="149.4" cy="349.6" r="4" fill="url(#gG)" stroke="#5a561c" stroke-width="0.8"/>
<circle cx="178.2" cy="349.6" r="4" fill="url(#gG)" stroke="#5a561c" stroke-width="0.8"/>
<circle cx="207.1" cy="349.6" r="4" fill="url(#gG)" stroke="#5a561c" stroke-width="0.8"/>
<circle cx="235.9" cy="349.6" r="4" fill="url(#gG)" stroke="#5a561c" stroke-width="0.8"/>
<circle cx="264.8" cy="349.6" r="4" fill="url(#gG)" stroke="#5a561c" stroke-width="0.8"/>
<circle cx="14.8" cy="361.6" r="3.1" fill="url(#gP)" stroke="#3a3670" stroke-width="0.8"/>
<circle cx="43.7" cy="361.6" r="3.1" fill="url(#gP)" stroke="#3a3670" stroke-width="0.8"/>
<circle cx="72.5" cy="361.6" r="3.1" fill="url(#gP)" stroke="#3a3670" stroke-width="0.8"/>
<circle cx="101.3" cy="361.6" r="3.1" fill="url(#gP)" stroke="#3a3670" stroke-width="0.8"/>
<circle cx="130.2" cy="361.6" r="3.1" fill="url(#gP)" stroke="#3a3670" stroke-width="0.8"/>
<circle cx="159" cy="361.6" r="3.1" fill="url(#gP)" stroke="#3a3670" stroke-width="0.8"/>
<circle cx="187.9" cy="361.6" r="3.1" fill="url(#gP)" stroke="#3a3670" stroke-width="0.8"/>
<circle cx="216.7" cy="361.6" r="3.1" fill="url(#gP)" stroke="#3a3670" stroke-width="0.8"/>
<circle cx="245.5" cy="361.6" r="3.1" fill="url(#gP)" stroke="#3a3670" stroke-width="0.8"/>
<circle cx="274.4" cy="361.6" r="3.1" fill="url(#gP)" stroke="#3a3670" stroke-width="0.8"/>
</g>
<clipPath id="clipB"><rect x="281" y="62" width="177.5" height="292"/></clipPath>
<g clip-path="url(#clipB)">
<path d="M240.4 55.5L230.5 62.5M270.3 55.5L260.4 62.5M300.2 55.5L290.3 62.5M330.1 55.5L320.2 62.5M360 55.5L350.1 62.5M389.9 55.5L380 62.5M419.8 55.5L409.9 62.5M449.7 55.5L439.8 62.5M479.6 55.5L469.7 62.5M260.4 83.9L270.3 76.8M260.4 83.9L250.4 91M290.3 83.9L300.2 76.8M290.3 83.9L280.3 91M320.2 83.9L330.1 76.8M320.2 83.9L310.2 91M350.1 83.9L360 76.8M350.1 83.9L340.1 91M380 83.9L389.9 76.8M380 83.9L370 91M409.9 83.9L419.8 76.8M409.9 83.9L399.9 91M439.8 83.9L449.7 76.8M439.8 83.9L429.8 91M469.7 83.9L479.6 76.8M469.7 83.9L459.7 91M499.6 83.9L509.5 76.8M499.6 83.9L489.6 91M250.4 111.7L260.4 104.8M250.4 111.7L240.4 119M280.3 111.7L290.3 104.8M280.3 111.7L270.3 119M310.2 111.7L320.2 104.8M310.2 111.7L300.2 119M340.1 111.7L350.1 104.8M340.1 111.7L330.1 119M370 111.7L380 104.8M370 111.7L360 119M399.9 111.7L409.9 104.8M399.9 111.7L389.9 119M429.8 111.7L439.8 104.8M429.8 111.7L419.8 119M459.7 111.7L469.7 104.8M459.7 111.7L449.7 119M489.6 111.7L499.6 104.8M489.6 111.7L479.6 119M260.4 168.1L270.3 160.8M260.4 168.1L250.4 175.2M290.3 168.1L300.2 160.8M290.3 168.1L280.3 175.2M320.2 168.1L330.1 160.8M320.2 168.1L310.2 175.2M350.1 168.1L360 160.8M350.1 168.1L340.1 175.2M380 168.1L389.9 160.8M380 168.1L370 175.2M409.9 168.1L419.8 160.8M409.9 168.1L399.9 175.2M439.8 168.1L449.7 160.8M439.8 168.1L429.8 175.2M469.7 168.1L479.6 160.8M469.7 168.1L459.7 175.2M499.6 168.1L509.5 160.8M499.6 168.1L489.6 175.2M250.4 196L260.4 189.2M250.4 196L240.4 203M280.3 196L290.3 189.2M280.3 196L270.3 203M310.2 196L320.2 189.2M310.2 196L300.2 203M340.1 196L350.1 189.2M340.1 196L330.1 203M370 196L380 189.2M370 196L360 203M399.9 196L409.9 189.2M399.9 196L389.9 203M429.8 196L439.8 189.2M429.8 196L419.8 203M459.7 196L469.7 189.2M459.7 196L449.7 203M489.6 196L499.6 189.2M489.6 196L479.6 203M240.4 224.7L250.4 217.3M240.4 224.7L230.5 231.7M270.3 224.7L280.3 217.3M270.3 224.7L260.4 231.7M300.2 224.7L310.2 217.3M300.2 224.7L290.3 231.7M330.1 224.7L340.1 217.3M330.1 224.7L320.2 231.7M360 224.7L370 217.3M360 224.7L350.1 231.7M389.9 224.7L399.9 217.3M389.9 224.7L380 231.7M419.8 224.7L429.8 217.3M419.8 224.7L409.9 231.7M449.7 224.7L459.7 217.3M449.7 224.7L439.8 231.7M479.6 224.7L489.6 217.3M479.6 224.7L469.7 231.7M260.4 252.4L270.3 245.6M260.4 252.4L250.4 259.7M290.3 252.4L300.2 245.6M290.3 252.4L280.3 259.7M320.2 252.4L330.1 245.6M320.2 252.4L310.2 259.7M350.1 252.4L360 245.6M350.1 252.4L340.1 259.7M380 252.4L389.9 245.6M380 252.4L370 259.7M409.9 252.4L419.8 245.6M409.9 252.4L399.9 259.7M439.8 252.4L449.7 245.6M439.8 252.4L429.8 259.7M469.7 252.4L479.6 245.6M469.7 252.4L459.7 259.7M499.6 252.4L509.5 245.6M499.6 252.4L489.6 259.7M240.4 308.8L250.4 301.8M240.4 308.8L230.5 316.1M270.3 308.8L280.3 301.8M270.3 308.8L260.4 316.1M300.2 308.8L310.2 301.8M300.2 308.8L290.3 316.1M330.1 308.8L340.1 301.8M330.1 308.8L320.2 316.1M360 308.8L370 301.8M360 308.8L350.1 316.1M389.9 308.8L399.9 301.8M389.9 308.8L380 316.1M419.8 308.8L429.8 301.8M419.8 308.8L409.9 316.1M449.7 308.8L459.7 301.8M449.7 308.8L439.8 316.1M479.6 308.8L489.6 301.8M479.6 308.8L469.7 316.1M260.4 337L270.3 330.2M260.4 337L250.4 343.9M290.3 337L300.2 330.2M290.3 337L280.3 343.9M320.2 337L330.1 330.2M320.2 337L310.2 343.9M350.1 337L360 330.2M350.1 337L340.1 343.9M380 337L389.9 330.2M380 337L370 343.9M409.9 337L419.8 330.2M409.9 337L399.9 343.9M439.8 337L449.7 330.2M439.8 337L429.8 343.9M469.7 337L479.6 330.2M469.7 337L459.7 343.9M499.6 337L509.5 330.2M499.6 337L489.6 343.9M250.4 364.9L260.4 357.9M280.3 364.9L290.3 357.9M310.2 364.9L320.2 357.9M340.1 364.9L350.1 357.9M370 364.9L380 357.9M399.9 364.9L409.9 357.9M429.8 364.9L439.8 357.9M459.7 364.9L469.7 357.9M489.6 364.9L499.6 357.9" stroke="#6a67aa" stroke-width="2.4" fill="none"/>
<path d="M230.5 62.5L220.5 69.6M260.4 62.5L250.4 69.6M290.3 62.5L280.3 69.6M320.2 62.5L310.2 69.6M350.1 62.5L340.1 69.6M380 62.5L370 69.6M409.9 62.5L399.9 69.6M439.8 62.5L429.8 69.6M469.7 62.5L459.7 69.6M270.3 76.8L280.3 69.6M250.4 91L240.4 98M300.2 76.8L310.2 69.6M280.3 91L270.3 98M330.1 76.8L340.1 69.6M310.2 91L300.2 98M360 76.8L370 69.6M340.1 91L330.1 98M389.9 76.8L399.9 69.6M370 91L360 98M419.8 76.8L429.8 69.6M399.9 91L389.9 98M449.7 76.8L459.7 69.6M429.8 91L419.8 98M479.6 76.8L489.6 69.6M459.7 91L449.7 98M509.5 76.8L519.5 69.6M489.6 91L479.6 98M260.4 104.8L270.3 98M240.4 119L230.5 126.3M290.3 104.8L300.2 98M270.3 119L260.4 126.3M320.2 104.8L330.1 98M300.2 119L290.3 126.3M350.1 104.8L360 98M330.1 119L320.2 126.3M380 104.8L389.9 98M360 119L350.1 126.3M409.9 104.8L419.8 98M389.9 119L380 126.3M439.8 104.8L449.7 98M419.8 119L409.9 126.3M469.7 104.8L479.6 98M449.7 119L439.8 126.3M499.6 104.8L509.5 98M479.6 119L469.7 126.3M270.3 160.8L280.3 153.6M250.4 175.2L240.4 182.3M300.2 160.8L310.2 153.6M280.3 175.2L270.3 182.3M330.1 160.8L340.1 153.6M310.2 175.2L300.2 182.3M360 160.8L370 153.6M340.1 175.2L330.1 182.3M389.9 160.8L399.9 153.6M370 175.2L360 182.3M419.8 160.8L429.8 153.6M399.9 175.2L389.9 182.3M449.7 160.8L459.7 153.6M429.8 175.2L419.8 182.3M479.6 160.8L489.6 153.6M459.7 175.2L449.7 182.3M509.5 160.8L519.5 153.6M489.6 175.2L479.6 182.3M260.4 189.2L270.3 182.3M240.4 203L230.5 210M290.3 189.2L300.2 182.3M270.3 203L260.4 210M320.2 189.2L330.1 182.3M300.2 203L290.3 210M350.1 189.2L360 182.3M330.1 203L320.2 210M380 189.2L389.9 182.3M360 203L350.1 210M409.9 189.2L419.8 182.3M389.9 203L380 210M439.8 189.2L449.7 182.3M419.8 203L409.9 210M469.7 189.2L479.6 182.3M449.7 203L439.8 210M499.6 189.2L509.5 182.3M479.6 203L469.7 210M250.4 217.3L260.4 210M230.5 231.7L220.5 238.7M280.3 217.3L290.3 210M260.4 231.7L250.4 238.7M310.2 217.3L320.2 210M290.3 231.7L280.3 238.7M340.1 217.3L350.1 210M320.2 231.7L310.2 238.7M370 217.3L380 210M350.1 231.7L340.1 238.7M399.9 217.3L409.9 210M380 231.7L370 238.7M429.8 217.3L439.8 210M409.9 231.7L399.9 238.7M459.7 217.3L469.7 210M439.8 231.7L429.8 238.7M489.6 217.3L499.6 210M469.7 231.7L459.7 238.7M270.3 245.6L280.3 238.7M250.4 259.7L240.4 267M300.2 245.6L310.2 238.7M280.3 259.7L270.3 267M330.1 245.6L340.1 238.7M310.2 259.7L300.2 267M360 245.6L370 238.7M340.1 259.7L330.1 267M389.9 245.6L399.9 238.7M370 259.7L360 267M419.8 245.6L429.8 238.7M399.9 259.7L389.9 267M449.7 245.6L459.7 238.7M429.8 259.7L419.8 267M479.6 245.6L489.6 238.7M459.7 259.7L449.7 267M509.5 245.6L519.5 238.7M489.6 259.7L479.6 267M250.4 301.8L260.4 294.7M230.5 316.1L220.5 323.4M280.3 301.8L290.3 294.7M260.4 316.1L250.4 323.4M310.2 301.8L320.2 294.7M290.3 316.1L280.3 323.4M340.1 301.8L350.1 294.7M320.2 316.1L310.2 323.4M370 301.8L380 294.7M350.1 316.1L340.1 323.4M399.9 301.8L409.9 294.7M380 316.1L370 323.4M429.8 301.8L439.8 294.7M409.9 316.1L399.9 323.4M459.7 301.8L469.7 294.7M439.8 316.1L429.8 323.4M489.6 301.8L499.6 294.7M469.7 316.1L459.7 323.4M270.3 330.2L280.3 323.4M250.4 343.9L240.4 350.8M300.2 330.2L310.2 323.4M280.3 343.9L270.3 350.8M330.1 330.2L340.1 323.4M310.2 343.9L300.2 350.8M360 330.2L370 323.4M340.1 343.9L330.1 350.8M389.9 330.2L399.9 323.4M370 343.9L360 350.8M419.8 330.2L429.8 323.4M399.9 343.9L389.9 350.8M449.7 330.2L459.7 323.4M429.8 343.9L419.8 350.8M479.6 330.2L489.6 323.4M459.7 343.9L449.7 350.8M509.5 330.2L519.5 323.4M489.6 343.9L479.6 350.8M260.4 357.9L270.3 350.8M290.3 357.9L300.2 350.8M320.2 357.9L330.1 350.8M350.1 357.9L360 350.8M380 357.9L389.9 350.8M409.9 357.9L419.8 350.8M439.8 357.9L449.7 350.8M469.7 357.9L479.6 350.8M499.6 357.9L509.5 350.8" stroke="#a19f5e" stroke-width="2.4" fill="none"/>
<path d="M240.4 55.5L245.4 62.5M270.3 55.5L275.3 62.5M300.2 55.5L305.2 62.5M330.1 55.5L335.1 62.5M360 55.5L365 62.5M389.9 55.5L394.9 62.5M419.8 55.5L424.8 62.5M449.7 55.5L454.7 62.5M479.6 55.5L484.6 62.5M260.4 83.9L255.4 76.8M260.4 83.9L265.3 91M290.3 83.9L285.3 76.8M290.3 83.9L295.2 91M320.2 83.9L315.2 76.8M320.2 83.9L325.1 91M350.1 83.9L345.1 76.8M350.1 83.9L355 91M380 83.9L375 76.8M380 83.9L384.9 91M409.9 83.9L404.9 76.8M409.9 83.9L414.8 91M439.8 83.9L434.8 76.8M439.8 83.9L444.8 91M469.7 83.9L464.7 76.8M469.7 83.9L474.6 91M499.6 83.9L494.6 76.8M499.6 83.9L504.5 91M250.4 111.7L245.4 104.8M250.4 111.7L255.4 119M280.3 111.7L275.3 104.8M280.3 111.7L285.3 119M310.2 111.7L305.2 104.8M310.2 111.7L315.2 119M340.1 111.7L335.1 104.8M340.1 111.7L345.1 119M370 111.7L365 104.8M370 111.7L375 119M399.9 111.7L394.9 104.8M399.9 111.7L404.9 119M429.8 111.7L424.8 104.8M429.8 111.7L434.8 119M459.7 111.7L454.7 104.8M459.7 111.7L464.7 119M489.6 111.7L484.6 104.8M489.6 111.7L494.6 119M260.4 168.1L255.4 160.8M260.4 168.1L265.3 175.2M290.3 168.1L285.3 160.8M290.3 168.1L295.2 175.2M320.2 168.1L315.2 160.8M320.2 168.1L325.1 175.2M350.1 168.1L345.1 160.8M350.1 168.1L355 175.2M380 168.1L375 160.8M380 168.1L384.9 175.2M409.9 168.1L404.9 160.8M409.9 168.1L414.8 175.2M439.8 168.1L434.8 160.8M439.8 168.1L444.8 175.2M469.7 168.1L464.7 160.8M469.7 168.1L474.6 175.2M499.6 168.1L494.6 160.8M499.6 168.1L504.5 175.2M250.4 196L245.4 189.2M250.4 196L255.4 203M280.3 196L275.3 189.2M280.3 196L285.3 203M310.2 196L305.2 189.2M310.2 196L315.2 203M340.1 196L335.1 189.2M340.1 196L345.1 203M370 196L365 189.2M370 196L375 203M399.9 196L394.9 189.2M399.9 196L404.9 203M429.8 196L424.8 189.2M429.8 196L434.8 203M459.7 196L454.7 189.2M459.7 196L464.7 203M489.6 196L484.6 189.2M489.6 196L494.6 203M240.4 224.7L235.4 217.3M240.4 224.7L245.4 231.7M270.3 224.7L265.4 217.3M270.3 224.7L275.3 231.7M300.2 224.7L295.2 217.3M300.2 224.7L305.2 231.7M330.1 224.7L325.1 217.3M330.1 224.7L335.1 231.7M360 224.7L355 217.3M360 224.7L365 231.7M389.9 224.7L385 217.3M389.9 224.7L394.9 231.7M419.8 224.7L414.9 217.3M419.8 224.7L424.8 231.7M449.7 224.7L444.8 217.3M449.7 224.7L454.7 231.7M479.6 224.7L474.6 217.3M479.6 224.7L484.6 231.7M260.4 252.4L255.4 245.6M260.4 252.4L265.3 259.7M290.3 252.4L285.3 245.6M290.3 252.4L295.2 259.7M320.2 252.4L315.2 245.6M320.2 252.4L325.1 259.7M350.1 252.4L345.1 245.6M350.1 252.4L355 259.7M380 252.4L375 245.6M380 252.4L384.9 259.7M409.9 252.4L404.9 245.6M409.9 252.4L414.8 259.7M439.8 252.4L434.8 245.6M439.8 252.4L444.8 259.7M469.7 252.4L464.7 245.6M469.7 252.4L474.6 259.7M499.6 252.4L494.6 245.6M499.6 252.4L504.5 259.7M240.4 308.8L235.4 301.8M240.4 308.8L245.4 316.1M270.3 308.8L265.4 301.8M270.3 308.8L275.3 316.1M300.2 308.8L295.2 301.8M300.2 308.8L305.2 316.1M330.1 308.8L325.1 301.8M330.1 308.8L335.1 316.1M360 308.8L355 301.8M360 308.8L365 316.1M389.9 308.8L385 301.8M389.9 308.8L394.9 316.1M419.8 308.8L414.9 301.8M419.8 308.8L424.8 316.1M449.7 308.8L444.8 301.8M449.7 308.8L454.7 316.1M479.6 308.8L474.6 301.8M479.6 308.8L484.6 316.1M260.4 337L255.4 330.2M260.4 337L265.3 343.9M290.3 337L285.3 330.2M290.3 337L295.2 343.9M320.2 337L315.2 330.2M320.2 337L325.1 343.9M350.1 337L345.1 330.2M350.1 337L355 343.9M380 337L375 330.2M380 337L384.9 343.9M409.9 337L404.9 330.2M409.9 337L414.8 343.9M439.8 337L434.8 330.2M439.8 337L444.8 343.9M469.7 337L464.7 330.2M469.7 337L474.6 343.9M499.6 337L494.6 330.2M499.6 337L504.5 343.9M250.4 364.9L245.4 357.9M280.3 364.9L275.3 357.9M310.2 364.9L305.2 357.9M340.1 364.9L335.1 357.9M370 364.9L365 357.9M399.9 364.9L394.9 357.9M429.8 364.9L424.8 357.9M459.7 364.9L454.7 357.9M489.6 364.9L484.6 357.9" stroke="#48458a" stroke-width="2.5" fill="none"/>
<path d="M245.4 62.5L250.4 69.6M275.3 62.5L280.3 69.6M305.2 62.5L310.2 69.6M335.1 62.5L340.1 69.6M365 62.5L370 69.6M394.9 62.5L399.9 69.6M424.8 62.5L429.8 69.6M454.7 62.5L459.7 69.6M484.6 62.5L489.6 69.6M255.4 76.8L250.4 69.6M265.3 91L270.3 98M285.3 76.8L280.3 69.6M295.2 91L300.2 98M315.2 76.8L310.2 69.6M325.1 91L330.1 98M345.1 76.8L340.1 69.6M355 91L360 98M375 76.8L370 69.6M384.9 91L389.9 98M404.9 76.8L399.9 69.6M414.8 91L419.8 98M434.8 76.8L429.8 69.6M444.8 91L449.7 98M464.7 76.8L459.7 69.6M474.6 91L479.6 98M494.6 76.8L489.6 69.6M504.5 91L509.5 98M245.4 104.8L240.4 98M255.4 119L260.4 126.3M275.3 104.8L270.3 98M285.3 119L290.3 126.3M305.2 104.8L300.2 98M315.2 119L320.2 126.3M335.1 104.8L330.1 98M345.1 119L350.1 126.3M365 104.8L360 98M375 119L380 126.3M394.9 104.8L389.9 98M404.9 119L409.9 126.3M424.8 104.8L419.8 98M434.8 119L439.8 126.3M454.7 104.8L449.7 98M464.7 119L469.7 126.3M484.6 104.8L479.6 98M494.6 119L499.6 126.3M255.4 160.8L250.4 153.6M265.3 175.2L270.3 182.3M285.3 160.8L280.3 153.6M295.2 175.2L300.2 182.3M315.2 160.8L310.2 153.6M325.1 175.2L330.1 182.3M345.1 160.8L340.1 153.6M355 175.2L360 182.3M375 160.8L370 153.6M384.9 175.2L389.9 182.3M404.9 160.8L399.9 153.6M414.8 175.2L419.8 182.3M434.8 160.8L429.8 153.6M444.8 175.2L449.7 182.3M464.7 160.8L459.7 153.6M474.6 175.2L479.6 182.3M494.6 160.8L489.6 153.6M504.5 175.2L509.5 182.3M245.4 189.2L240.4 182.3M255.4 203L260.4 210M275.3 189.2L270.3 182.3M285.3 203L290.3 210M305.2 189.2L300.2 182.3M315.2 203L320.2 210M335.1 189.2L330.1 182.3M345.1 203L350.1 210M365 189.2L360 182.3M375 203L380 210M394.9 189.2L389.9 182.3M404.9 203L409.9 210M424.8 189.2L419.8 182.3M434.8 203L439.8 210M454.7 189.2L449.7 182.3M464.7 203L469.7 210M484.6 189.2L479.6 182.3M494.6 203L499.6 210M235.4 217.3L230.5 210M245.4 231.7L250.4 238.7M265.4 217.3L260.4 210M275.3 231.7L280.3 238.7M295.2 217.3L290.3 210M305.2 231.7L310.2 238.7M325.1 217.3L320.2 210M335.1 231.7L340.1 238.7M355 217.3L350.1 210M365 231.7L370 238.7M385 217.3L380 210M394.9 231.7L399.9 238.7M414.9 217.3L409.9 210M424.8 231.7L429.8 238.7M444.8 217.3L439.8 210M454.7 231.7L459.7 238.7M474.6 217.3L469.7 210M484.6 231.7L489.6 238.7M255.4 245.6L250.4 238.7M265.3 259.7L270.3 267M285.3 245.6L280.3 238.7M295.2 259.7L300.2 267M315.2 245.6L310.2 238.7M325.1 259.7L330.1 267M345.1 245.6L340.1 238.7M355 259.7L360 267M375 245.6L370 238.7M384.9 259.7L389.9 267M404.9 245.6L399.9 238.7M414.8 259.7L419.8 267M434.8 245.6L429.8 238.7M444.8 259.7L449.7 267M464.7 245.6L459.7 238.7M474.6 259.7L479.6 267M494.6 245.6L489.6 238.7M504.5 259.7L509.5 267M235.4 301.8L230.5 294.7M245.4 316.1L250.4 323.4M265.4 301.8L260.4 294.7M275.3 316.1L280.3 323.4M295.2 301.8L290.3 294.7M305.2 316.1L310.2 323.4M325.1 301.8L320.2 294.7M335.1 316.1L340.1 323.4M355 301.8L350.1 294.7M365 316.1L370 323.4M385 301.8L380 294.7M394.9 316.1L399.9 323.4M414.9 301.8L409.9 294.7M424.8 316.1L429.8 323.4M444.8 301.8L439.8 294.7M454.7 316.1L459.7 323.4M474.6 301.8L469.7 294.7M484.6 316.1L489.6 323.4M255.4 330.2L250.4 323.4M265.3 343.9L270.3 350.8M285.3 330.2L280.3 323.4M295.2 343.9L300.2 350.8M315.2 330.2L310.2 323.4M325.1 343.9L330.1 350.8M345.1 330.2L340.1 323.4M355 343.9L360 350.8M375 330.2L370 323.4M384.9 343.9L389.9 350.8M404.9 330.2L399.9 323.4M414.8 343.9L419.8 350.8M434.8 330.2L429.8 323.4M444.8 343.9L449.7 350.8M464.7 330.2L459.7 323.4M474.6 343.9L479.6 350.8M494.6 330.2L489.6 323.4M504.5 343.9L509.5 350.8M245.4 357.9L240.4 350.8M275.3 357.9L270.3 350.8M305.2 357.9L300.2 350.8M335.1 357.9L330.1 350.8M365 357.9L360 350.8M394.9 357.9L389.9 350.8M424.8 357.9L419.8 350.8M454.7 357.9L449.7 350.8M484.6 357.9L479.6 350.8" stroke="#65632f" stroke-width="2.5" fill="none"/>
<circle cx="240.4" cy="55.5" r="4" fill="url(#gM)" stroke="#4a3a50" stroke-width="0.8"/>
<circle cx="270.3" cy="55.5" r="4" fill="url(#gM)" stroke="#4a3a50" stroke-width="0.8"/>
<circle cx="300.2" cy="55.5" r="4" fill="url(#gM)" stroke="#4a3a50" stroke-width="0.8"/>
<circle cx="330.1" cy="55.5" r="4" fill="url(#gM)" stroke="#4a3a50" stroke-width="0.8"/>
<circle cx="360" cy="55.5" r="4" fill="url(#gM)" stroke="#4a3a50" stroke-width="0.8"/>
<circle cx="389.9" cy="55.5" r="4" fill="url(#gM)" stroke="#4a3a50" stroke-width="0.8"/>
<circle cx="419.8" cy="55.5" r="4" fill="url(#gM)" stroke="#4a3a50" stroke-width="0.8"/>
<circle cx="449.7" cy="55.5" r="4" fill="url(#gM)" stroke="#4a3a50" stroke-width="0.8"/>
<circle cx="479.6" cy="55.5" r="4" fill="url(#gM)" stroke="#4a3a50" stroke-width="0.8"/>
<circle cx="250.4" cy="69.6" r="4.2" fill="url(#gG2)" stroke="#4f4d1e" stroke-width="0.8"/>
<circle cx="280.3" cy="69.6" r="4.2" fill="url(#gG2)" stroke="#4f4d1e" stroke-width="0.8"/>
<circle cx="310.2" cy="69.6" r="4.2" fill="url(#gG2)" stroke="#4f4d1e" stroke-width="0.8"/>
<circle cx="340.1" cy="69.6" r="4.2" fill="url(#gG2)" stroke="#4f4d1e" stroke-width="0.8"/>
<circle cx="370" cy="69.6" r="4.2" fill="url(#gG2)" stroke="#4f4d1e" stroke-width="0.8"/>
<circle cx="399.9" cy="69.6" r="4.2" fill="url(#gG2)" stroke="#4f4d1e" stroke-width="0.8"/>
<circle cx="429.8" cy="69.6" r="4.2" fill="url(#gG2)" stroke="#4f4d1e" stroke-width="0.8"/>
<circle cx="459.7" cy="69.6" r="4.2" fill="url(#gG2)" stroke="#4f4d1e" stroke-width="0.8"/>
<circle cx="489.6" cy="69.6" r="4.2" fill="url(#gG2)" stroke="#4f4d1e" stroke-width="0.8"/>
<circle cx="260.4" cy="83.9" r="4" fill="url(#gM)" stroke="#4a3a50" stroke-width="0.8"/>
<circle cx="290.3" cy="83.9" r="4" fill="url(#gM)" stroke="#4a3a50" stroke-width="0.8"/>
<circle cx="320.2" cy="83.9" r="4" fill="url(#gM)" stroke="#4a3a50" stroke-width="0.8"/>
<circle cx="350.1" cy="83.9" r="4" fill="url(#gM)" stroke="#4a3a50" stroke-width="0.8"/>
<circle cx="380" cy="83.9" r="4" fill="url(#gM)" stroke="#4a3a50" stroke-width="0.8"/>
<circle cx="409.9" cy="83.9" r="4" fill="url(#gM)" stroke="#4a3a50" stroke-width="0.8"/>
<circle cx="439.8" cy="83.9" r="4" fill="url(#gM)" stroke="#4a3a50" stroke-width="0.8"/>
<circle cx="469.7" cy="83.9" r="4" fill="url(#gM)" stroke="#4a3a50" stroke-width="0.8"/>
<circle cx="499.6" cy="83.9" r="4" fill="url(#gM)" stroke="#4a3a50" stroke-width="0.8"/>
<circle cx="240.4" cy="98" r="4.2" fill="url(#gG2)" stroke="#4f4d1e" stroke-width="0.8"/>
<circle cx="270.3" cy="98" r="4.2" fill="url(#gG2)" stroke="#4f4d1e" stroke-width="0.8"/>
<circle cx="300.2" cy="98" r="4.2" fill="url(#gG2)" stroke="#4f4d1e" stroke-width="0.8"/>
<circle cx="330.1" cy="98" r="4.2" fill="url(#gG2)" stroke="#4f4d1e" stroke-width="0.8"/>
<circle cx="360" cy="98" r="4.2" fill="url(#gG2)" stroke="#4f4d1e" stroke-width="0.8"/>
<circle cx="389.9" cy="98" r="4.2" fill="url(#gG2)" stroke="#4f4d1e" stroke-width="0.8"/>
<circle cx="419.8" cy="98" r="4.2" fill="url(#gG2)" stroke="#4f4d1e" stroke-width="0.8"/>
<circle cx="449.7" cy="98" r="4.2" fill="url(#gG2)" stroke="#4f4d1e" stroke-width="0.8"/>
<circle cx="479.6" cy="98" r="4.2" fill="url(#gG2)" stroke="#4f4d1e" stroke-width="0.8"/>
<circle cx="250.4" cy="111.7" r="4" fill="url(#gM)" stroke="#4a3a50" stroke-width="0.8"/>
<circle cx="280.3" cy="111.7" r="4" fill="url(#gM)" stroke="#4a3a50" stroke-width="0.8"/>
<circle cx="310.2" cy="111.7" r="4" fill="url(#gM)" stroke="#4a3a50" stroke-width="0.8"/>
<circle cx="340.1" cy="111.7" r="4" fill="url(#gM)" stroke="#4a3a50" stroke-width="0.8"/>
<circle cx="370" cy="111.7" r="4" fill="url(#gM)" stroke="#4a3a50" stroke-width="0.8"/>
<circle cx="399.9" cy="111.7" r="4" fill="url(#gM)" stroke="#4a3a50" stroke-width="0.8"/>
<circle cx="429.8" cy="111.7" r="4" fill="url(#gM)" stroke="#4a3a50" stroke-width="0.8"/>
<circle cx="459.7" cy="111.7" r="4" fill="url(#gM)" stroke="#4a3a50" stroke-width="0.8"/>
<circle cx="489.6" cy="111.7" r="4" fill="url(#gM)" stroke="#4a3a50" stroke-width="0.8"/>
<circle cx="260.4" cy="126.3" r="4.2" fill="url(#gG2)" stroke="#4f4d1e" stroke-width="0.8"/>
<circle cx="290.3" cy="126.3" r="4.2" fill="url(#gG2)" stroke="#4f4d1e" stroke-width="0.8"/>
<circle cx="320.2" cy="126.3" r="4.2" fill="url(#gG2)" stroke="#4f4d1e" stroke-width="0.8"/>
<circle cx="350.1" cy="126.3" r="4.2" fill="url(#gG2)" stroke="#4f4d1e" stroke-width="0.8"/>
<circle cx="380" cy="126.3" r="4.2" fill="url(#gG2)" stroke="#4f4d1e" stroke-width="0.8"/>
<circle cx="409.9" cy="126.3" r="4.2" fill="url(#gG2)" stroke="#4f4d1e" stroke-width="0.8"/>
<circle cx="439.8" cy="126.3" r="4.2" fill="url(#gG2)" stroke="#4f4d1e" stroke-width="0.8"/>
<circle cx="469.7" cy="126.3" r="4.2" fill="url(#gG2)" stroke="#4f4d1e" stroke-width="0.8"/>
<circle cx="499.6" cy="126.3" r="4.2" fill="url(#gG2)" stroke="#4f4d1e" stroke-width="0.8"/>
<circle cx="250.4" cy="153.6" r="4.2" fill="url(#gG2)" stroke="#4f4d1e" stroke-width="0.8"/>
<circle cx="280.3" cy="153.6" r="4.2" fill="url(#gG2)" stroke="#4f4d1e" stroke-width="0.8"/>
<circle cx="310.2" cy="153.6" r="4.2" fill="url(#gG2)" stroke="#4f4d1e" stroke-width="0.8"/>
<circle cx="340.1" cy="153.6" r="4.2" fill="url(#gG2)" stroke="#4f4d1e" stroke-width="0.8"/>
<circle cx="370" cy="153.6" r="4.2" fill="url(#gG2)" stroke="#4f4d1e" stroke-width="0.8"/>
<circle cx="399.9" cy="153.6" r="4.2" fill="url(#gG2)" stroke="#4f4d1e" stroke-width="0.8"/>
<circle cx="429.8" cy="153.6" r="4.2" fill="url(#gG2)" stroke="#4f4d1e" stroke-width="0.8"/>
<circle cx="459.7" cy="153.6" r="4.2" fill="url(#gG2)" stroke="#4f4d1e" stroke-width="0.8"/>
<circle cx="489.6" cy="153.6" r="4.2" fill="url(#gG2)" stroke="#4f4d1e" stroke-width="0.8"/>
<circle cx="260.4" cy="168.1" r="4" fill="url(#gM)" stroke="#4a3a50" stroke-width="0.8"/>
<circle cx="290.3" cy="168.1" r="4" fill="url(#gM)" stroke="#4a3a50" stroke-width="0.8"/>
<circle cx="320.2" cy="168.1" r="4" fill="url(#gM)" stroke="#4a3a50" stroke-width="0.8"/>
<circle cx="350.1" cy="168.1" r="4" fill="url(#gM)" stroke="#4a3a50" stroke-width="0.8"/>
<circle cx="380" cy="168.1" r="4" fill="url(#gM)" stroke="#4a3a50" stroke-width="0.8"/>
<circle cx="409.9" cy="168.1" r="4" fill="url(#gM)" stroke="#4a3a50" stroke-width="0.8"/>
<circle cx="439.8" cy="168.1" r="4" fill="url(#gM)" stroke="#4a3a50" stroke-width="0.8"/>
<circle cx="469.7" cy="168.1" r="4" fill="url(#gM)" stroke="#4a3a50" stroke-width="0.8"/>
<circle cx="499.6" cy="168.1" r="4" fill="url(#gM)" stroke="#4a3a50" stroke-width="0.8"/>
<circle cx="240.4" cy="182.3" r="4.2" fill="url(#gG2)" stroke="#4f4d1e" stroke-width="0.8"/>
<circle cx="270.3" cy="182.3" r="4.2" fill="url(#gG2)" stroke="#4f4d1e" stroke-width="0.8"/>
<circle cx="300.2" cy="182.3" r="4.2" fill="url(#gG2)" stroke="#4f4d1e" stroke-width="0.8"/>
<circle cx="330.1" cy="182.3" r="4.2" fill="url(#gG2)" stroke="#4f4d1e" stroke-width="0.8"/>
<circle cx="360" cy="182.3" r="4.2" fill="url(#gG2)" stroke="#4f4d1e" stroke-width="0.8"/>
<circle cx="389.9" cy="182.3" r="4.2" fill="url(#gG2)" stroke="#4f4d1e" stroke-width="0.8"/>
<circle cx="419.8" cy="182.3" r="4.2" fill="url(#gG2)" stroke="#4f4d1e" stroke-width="0.8"/>
<circle cx="449.7" cy="182.3" r="4.2" fill="url(#gG2)" stroke="#4f4d1e" stroke-width="0.8"/>
<circle cx="479.6" cy="182.3" r="4.2" fill="url(#gG2)" stroke="#4f4d1e" stroke-width="0.8"/>
<circle cx="250.4" cy="196" r="4" fill="url(#gM)" stroke="#4a3a50" stroke-width="0.8"/>
<circle cx="280.3" cy="196" r="4" fill="url(#gM)" stroke="#4a3a50" stroke-width="0.8"/>
<circle cx="310.2" cy="196" r="4" fill="url(#gM)" stroke="#4a3a50" stroke-width="0.8"/>
<circle cx="340.1" cy="196" r="4" fill="url(#gM)" stroke="#4a3a50" stroke-width="0.8"/>
<circle cx="370" cy="196" r="4" fill="url(#gM)" stroke="#4a3a50" stroke-width="0.8"/>
<circle cx="399.9" cy="196" r="4" fill="url(#gM)" stroke="#4a3a50" stroke-width="0.8"/>
<circle cx="429.8" cy="196" r="4" fill="url(#gM)" stroke="#4a3a50" stroke-width="0.8"/>
<circle cx="459.7" cy="196" r="4" fill="url(#gM)" stroke="#4a3a50" stroke-width="0.8"/>
<circle cx="489.6" cy="196" r="4" fill="url(#gM)" stroke="#4a3a50" stroke-width="0.8"/>
<circle cx="260.4" cy="210" r="4.2" fill="url(#gG2)" stroke="#4f4d1e" stroke-width="0.8"/>
<circle cx="290.3" cy="210" r="4.2" fill="url(#gG2)" stroke="#4f4d1e" stroke-width="0.8"/>
<circle cx="320.2" cy="210" r="4.2" fill="url(#gG2)" stroke="#4f4d1e" stroke-width="0.8"/>
<circle cx="350.1" cy="210" r="4.2" fill="url(#gG2)" stroke="#4f4d1e" stroke-width="0.8"/>
<circle cx="380" cy="210" r="4.2" fill="url(#gG2)" stroke="#4f4d1e" stroke-width="0.8"/>
<circle cx="409.9" cy="210" r="4.2" fill="url(#gG2)" stroke="#4f4d1e" stroke-width="0.8"/>
<circle cx="439.8" cy="210" r="4.2" fill="url(#gG2)" stroke="#4f4d1e" stroke-width="0.8"/>
<circle cx="469.7" cy="210" r="4.2" fill="url(#gG2)" stroke="#4f4d1e" stroke-width="0.8"/>
<circle cx="499.6" cy="210" r="4.2" fill="url(#gG2)" stroke="#4f4d1e" stroke-width="0.8"/>
<circle cx="240.4" cy="224.7" r="4" fill="url(#gM)" stroke="#4a3a50" stroke-width="0.8"/>
<circle cx="270.3" cy="224.7" r="4" fill="url(#gM)" stroke="#4a3a50" stroke-width="0.8"/>
<circle cx="300.2" cy="224.7" r="4" fill="url(#gM)" stroke="#4a3a50" stroke-width="0.8"/>
<circle cx="330.1" cy="224.7" r="4" fill="url(#gM)" stroke="#4a3a50" stroke-width="0.8"/>
<circle cx="360" cy="224.7" r="4" fill="url(#gM)" stroke="#4a3a50" stroke-width="0.8"/>
<circle cx="389.9" cy="224.7" r="4" fill="url(#gM)" stroke="#4a3a50" stroke-width="0.8"/>
<circle cx="419.8" cy="224.7" r="4" fill="url(#gM)" stroke="#4a3a50" stroke-width="0.8"/>
<circle cx="449.7" cy="224.7" r="4" fill="url(#gM)" stroke="#4a3a50" stroke-width="0.8"/>
<circle cx="479.6" cy="224.7" r="4" fill="url(#gM)" stroke="#4a3a50" stroke-width="0.8"/>
<circle cx="250.4" cy="238.7" r="4.2" fill="url(#gG2)" stroke="#4f4d1e" stroke-width="0.8"/>
<circle cx="280.3" cy="238.7" r="4.2" fill="url(#gG2)" stroke="#4f4d1e" stroke-width="0.8"/>
<circle cx="310.2" cy="238.7" r="4.2" fill="url(#gG2)" stroke="#4f4d1e" stroke-width="0.8"/>
<circle cx="340.1" cy="238.7" r="4.2" fill="url(#gG2)" stroke="#4f4d1e" stroke-width="0.8"/>
<circle cx="370" cy="238.7" r="4.2" fill="url(#gG2)" stroke="#4f4d1e" stroke-width="0.8"/>
<circle cx="399.9" cy="238.7" r="4.2" fill="url(#gG2)" stroke="#4f4d1e" stroke-width="0.8"/>
<circle cx="429.8" cy="238.7" r="4.2" fill="url(#gG2)" stroke="#4f4d1e" stroke-width="0.8"/>
<circle cx="459.7" cy="238.7" r="4.2" fill="url(#gG2)" stroke="#4f4d1e" stroke-width="0.8"/>
<circle cx="489.6" cy="238.7" r="4.2" fill="url(#gG2)" stroke="#4f4d1e" stroke-width="0.8"/>
<circle cx="260.4" cy="252.4" r="4" fill="url(#gM)" stroke="#4a3a50" stroke-width="0.8"/>
<circle cx="290.3" cy="252.4" r="4" fill="url(#gM)" stroke="#4a3a50" stroke-width="0.8"/>
<circle cx="320.2" cy="252.4" r="4" fill="url(#gM)" stroke="#4a3a50" stroke-width="0.8"/>
<circle cx="350.1" cy="252.4" r="4" fill="url(#gM)" stroke="#4a3a50" stroke-width="0.8"/>
<circle cx="380" cy="252.4" r="4" fill="url(#gM)" stroke="#4a3a50" stroke-width="0.8"/>
<circle cx="409.9" cy="252.4" r="4" fill="url(#gM)" stroke="#4a3a50" stroke-width="0.8"/>
<circle cx="439.8" cy="252.4" r="4" fill="url(#gM)" stroke="#4a3a50" stroke-width="0.8"/>
<circle cx="469.7" cy="252.4" r="4" fill="url(#gM)" stroke="#4a3a50" stroke-width="0.8"/>
<circle cx="499.6" cy="252.4" r="4" fill="url(#gM)" stroke="#4a3a50" stroke-width="0.8"/>
<circle cx="240.4" cy="267" r="4.2" fill="url(#gG2)" stroke="#4f4d1e" stroke-width="0.8"/>
<circle cx="270.3" cy="267" r="4.2" fill="url(#gG2)" stroke="#4f4d1e" stroke-width="0.8"/>
<circle cx="300.2" cy="267" r="4.2" fill="url(#gG2)" stroke="#4f4d1e" stroke-width="0.8"/>
<circle cx="330.1" cy="267" r="4.2" fill="url(#gG2)" stroke="#4f4d1e" stroke-width="0.8"/>
<circle cx="360" cy="267" r="4.2" fill="url(#gG2)" stroke="#4f4d1e" stroke-width="0.8"/>
<circle cx="389.9" cy="267" r="4.2" fill="url(#gG2)" stroke="#4f4d1e" stroke-width="0.8"/>
<circle cx="419.8" cy="267" r="4.2" fill="url(#gG2)" stroke="#4f4d1e" stroke-width="0.8"/>
<circle cx="449.7" cy="267" r="4.2" fill="url(#gG2)" stroke="#4f4d1e" stroke-width="0.8"/>
<circle cx="479.6" cy="267" r="4.2" fill="url(#gG2)" stroke="#4f4d1e" stroke-width="0.8"/>
<circle cx="260.4" cy="294.7" r="4.2" fill="url(#gG2)" stroke="#4f4d1e" stroke-width="0.8"/>
<circle cx="290.3" cy="294.7" r="4.2" fill="url(#gG2)" stroke="#4f4d1e" stroke-width="0.8"/>
<circle cx="320.2" cy="294.7" r="4.2" fill="url(#gG2)" stroke="#4f4d1e" stroke-width="0.8"/>
<circle cx="350.1" cy="294.7" r="4.2" fill="url(#gG2)" stroke="#4f4d1e" stroke-width="0.8"/>
<circle cx="380" cy="294.7" r="4.2" fill="url(#gG2)" stroke="#4f4d1e" stroke-width="0.8"/>
<circle cx="409.9" cy="294.7" r="4.2" fill="url(#gG2)" stroke="#4f4d1e" stroke-width="0.8"/>
<circle cx="439.8" cy="294.7" r="4.2" fill="url(#gG2)" stroke="#4f4d1e" stroke-width="0.8"/>
<circle cx="469.7" cy="294.7" r="4.2" fill="url(#gG2)" stroke="#4f4d1e" stroke-width="0.8"/>
<circle cx="499.6" cy="294.7" r="4.2" fill="url(#gG2)" stroke="#4f4d1e" stroke-width="0.8"/>
<circle cx="240.4" cy="308.8" r="4" fill="url(#gM)" stroke="#4a3a50" stroke-width="0.8"/>
<circle cx="270.3" cy="308.8" r="4" fill="url(#gM)" stroke="#4a3a50" stroke-width="0.8"/>
<circle cx="300.2" cy="308.8" r="4" fill="url(#gM)" stroke="#4a3a50" stroke-width="0.8"/>
<circle cx="330.1" cy="308.8" r="4" fill="url(#gM)" stroke="#4a3a50" stroke-width="0.8"/>
<circle cx="360" cy="308.8" r="4" fill="url(#gM)" stroke="#4a3a50" stroke-width="0.8"/>
<circle cx="389.9" cy="308.8" r="4" fill="url(#gM)" stroke="#4a3a50" stroke-width="0.8"/>
<circle cx="419.8" cy="308.8" r="4" fill="url(#gM)" stroke="#4a3a50" stroke-width="0.8"/>
<circle cx="449.7" cy="308.8" r="4" fill="url(#gM)" stroke="#4a3a50" stroke-width="0.8"/>
<circle cx="479.6" cy="308.8" r="4" fill="url(#gM)" stroke="#4a3a50" stroke-width="0.8"/>
<circle cx="250.4" cy="323.4" r="4.2" fill="url(#gG2)" stroke="#4f4d1e" stroke-width="0.8"/>
<circle cx="280.3" cy="323.4" r="4.2" fill="url(#gG2)" stroke="#4f4d1e" stroke-width="0.8"/>
<circle cx="310.2" cy="323.4" r="4.2" fill="url(#gG2)" stroke="#4f4d1e" stroke-width="0.8"/>
<circle cx="340.1" cy="323.4" r="4.2" fill="url(#gG2)" stroke="#4f4d1e" stroke-width="0.8"/>
<circle cx="370" cy="323.4" r="4.2" fill="url(#gG2)" stroke="#4f4d1e" stroke-width="0.8"/>
<circle cx="399.9" cy="323.4" r="4.2" fill="url(#gG2)" stroke="#4f4d1e" stroke-width="0.8"/>
<circle cx="429.8" cy="323.4" r="4.2" fill="url(#gG2)" stroke="#4f4d1e" stroke-width="0.8"/>
<circle cx="459.7" cy="323.4" r="4.2" fill="url(#gG2)" stroke="#4f4d1e" stroke-width="0.8"/>
<circle cx="489.6" cy="323.4" r="4.2" fill="url(#gG2)" stroke="#4f4d1e" stroke-width="0.8"/>
<circle cx="260.4" cy="337" r="4" fill="url(#gM)" stroke="#4a3a50" stroke-width="0.8"/>
<circle cx="290.3" cy="337" r="4" fill="url(#gM)" stroke="#4a3a50" stroke-width="0.8"/>
<circle cx="320.2" cy="337" r="4" fill="url(#gM)" stroke="#4a3a50" stroke-width="0.8"/>
<circle cx="350.1" cy="337" r="4" fill="url(#gM)" stroke="#4a3a50" stroke-width="0.8"/>
<circle cx="380" cy="337" r="4" fill="url(#gM)" stroke="#4a3a50" stroke-width="0.8"/>
<circle cx="409.9" cy="337" r="4" fill="url(#gM)" stroke="#4a3a50" stroke-width="0.8"/>
<circle cx="439.8" cy="337" r="4" fill="url(#gM)" stroke="#4a3a50" stroke-width="0.8"/>
<circle cx="469.7" cy="337" r="4" fill="url(#gM)" stroke="#4a3a50" stroke-width="0.8"/>
<circle cx="499.6" cy="337" r="4" fill="url(#gM)" stroke="#4a3a50" stroke-width="0.8"/>
<circle cx="240.4" cy="350.8" r="4.2" fill="url(#gG2)" stroke="#4f4d1e" stroke-width="0.8"/>
<circle cx="270.3" cy="350.8" r="4.2" fill="url(#gG2)" stroke="#4f4d1e" stroke-width="0.8"/>
<circle cx="300.2" cy="350.8" r="4.2" fill="url(#gG2)" stroke="#4f4d1e" stroke-width="0.8"/>
<circle cx="330.1" cy="350.8" r="4.2" fill="url(#gG2)" stroke="#4f4d1e" stroke-width="0.8"/>
<circle cx="360" cy="350.8" r="4.2" fill="url(#gG2)" stroke="#4f4d1e" stroke-width="0.8"/>
<circle cx="389.9" cy="350.8" r="4.2" fill="url(#gG2)" stroke="#4f4d1e" stroke-width="0.8"/>
<circle cx="419.8" cy="350.8" r="4.2" fill="url(#gG2)" stroke="#4f4d1e" stroke-width="0.8"/>
<circle cx="449.7" cy="350.8" r="4.2" fill="url(#gG2)" stroke="#4f4d1e" stroke-width="0.8"/>
<circle cx="479.6" cy="350.8" r="4.2" fill="url(#gG2)" stroke="#4f4d1e" stroke-width="0.8"/>
<circle cx="250.4" cy="364.9" r="4" fill="url(#gM)" stroke="#4a3a50" stroke-width="0.8"/>
<circle cx="280.3" cy="364.9" r="4" fill="url(#gM)" stroke="#4a3a50" stroke-width="0.8"/>
<circle cx="310.2" cy="364.9" r="4" fill="url(#gM)" stroke="#4a3a50" stroke-width="0.8"/>
<circle cx="340.1" cy="364.9" r="4" fill="url(#gM)" stroke="#4a3a50" stroke-width="0.8"/>
<circle cx="370" cy="364.9" r="4" fill="url(#gM)" stroke="#4a3a50" stroke-width="0.8"/>
<circle cx="399.9" cy="364.9" r="4" fill="url(#gM)" stroke="#4a3a50" stroke-width="0.8"/>
<circle cx="429.8" cy="364.9" r="4" fill="url(#gM)" stroke="#4a3a50" stroke-width="0.8"/>
<circle cx="459.7" cy="364.9" r="4" fill="url(#gM)" stroke="#4a3a50" stroke-width="0.8"/>
<circle cx="489.6" cy="364.9" r="4" fill="url(#gM)" stroke="#4a3a50" stroke-width="0.8"/>
</g>
<clipPath id="clipC"><rect x="503" y="62" width="178" height="294"/></clipPath>
<g clip-path="url(#clipC)">
<path d="M467.5 68.9L477.2 60.7M467.5 68.9L457.9 75.4M496.5 68.9L506.1 60.7M496.5 68.9L486.8 75.4M525.5 68.9L535.1 60.7M525.5 68.9L515.8 75.4M554.4 68.9L564.1 60.7M554.4 68.9L544.8 75.4M583.4 68.9L593 60.7M583.4 68.9L573.7 75.4M612.3 68.9L622 60.7M612.3 68.9L602.7 75.4M641.3 68.9L650.9 60.7M641.3 68.9L631.6 75.4M670.3 68.9L679.9 60.7M670.3 68.9L660.6 75.4M699.2 68.9L708.9 60.7M699.2 68.9L689.6 75.4M467.5 114.6L477.2 108.4M467.5 114.6L457.9 123M496.5 114.6L506.1 108.4M496.5 114.6L486.8 123M525.5 114.6L535.1 108.4M525.5 114.6L515.8 123M554.4 114.6L564.1 108.4M554.4 114.6L544.8 123M583.4 114.6L593 108.4M583.4 114.6L573.7 123M612.3 114.6L622 108.4M612.3 114.6L602.7 123M641.3 114.6L650.9 108.4M641.3 114.6L631.6 123M670.3 114.6L679.9 108.4M670.3 114.6L660.6 123M699.2 114.6L708.9 108.4M699.2 114.6L689.6 123M486.8 147.9L496.5 139.6M486.8 147.9L477.2 154.2M515.8 147.9L525.5 139.6M515.8 147.9L506.1 154.2M544.8 147.9L554.4 139.6M544.8 147.9L535.1 154.2M573.7 147.9L583.4 139.6M573.7 147.9L564.1 154.2M602.7 147.9L612.3 139.6M602.7 147.9L593 154.2M631.6 147.9L641.3 139.6M631.6 147.9L622 154.2M660.6 147.9L670.3 139.6M660.6 147.9L650.9 154.2M689.6 147.9L699.2 139.6M689.6 147.9L679.9 154.2M718.5 147.9L728.2 139.6M718.5 147.9L708.9 154.2M486.8 193.7L496.5 187.8M486.8 193.7L477.2 202M515.8 193.7L525.5 187.8M515.8 193.7L506.1 202M544.8 193.7L554.4 187.8M544.8 193.7L535.1 202M573.7 193.7L583.4 187.8M573.7 193.7L564.1 202M602.7 193.7L612.3 187.8M602.7 193.7L593 202M631.6 193.7L641.3 187.8M631.6 193.7L622 202M660.6 193.7L670.3 187.8M660.6 193.7L650.9 202M689.6 193.7L699.2 187.8M689.6 193.7L679.9 202M718.5 193.7L728.2 187.8M718.5 193.7L708.9 202M477.2 227L486.8 218.7M477.2 227L467.5 232.8M506.1 227L515.8 218.7M506.1 227L496.5 232.8M535.1 227L544.8 218.7M535.1 227L525.5 232.8M564.1 227L573.7 218.7M564.1 227L554.4 232.8M593 227L602.7 218.7M593 227L583.4 232.8M622 227L631.6 218.7M622 227L612.3 232.8M650.9 227L660.6 218.7M650.9 227L641.3 232.8M679.9 227L689.6 218.7M679.9 227L670.3 232.8M708.9 227L718.5 218.7M708.9 227L699.2 232.8M477.2 273L486.8 266.5M477.2 273L467.5 281M506.1 273L515.8 266.5M506.1 273L496.5 281M535.1 273L544.8 266.5M535.1 273L525.5 281M564.1 273L573.7 266.5M564.1 273L554.4 281M593 273L602.7 266.5M593 273L583.4 281M622 273L631.6 266.5M622 273L612.3 281M650.9 273L660.6 266.5M650.9 273L641.3 281M679.9 273L689.6 266.5M679.9 273L670.3 281M708.9 273L718.5 266.5M708.9 273L699.2 281M467.5 305.7L477.2 297.4M467.5 305.7L457.9 311.9M496.5 305.7L506.1 297.4M496.5 305.7L486.8 311.9M525.5 305.7L535.1 297.4M525.5 305.7L515.8 311.9M554.4 305.7L564.1 297.4M554.4 305.7L544.8 311.9M583.4 305.7L593 297.4M583.4 305.7L573.7 311.9M612.3 305.7L622 297.4M612.3 305.7L602.7 311.9M641.3 305.7L650.9 297.4M641.3 305.7L631.6 311.9M670.3 305.7L679.9 297.4M670.3 305.7L660.6 311.9M699.2 305.7L708.9 297.4M699.2 305.7L689.6 311.9M467.5 350.5L477.2 344.1M467.5 350.5L457.9 358.8M496.5 350.5L506.1 344.1M496.5 350.5L486.8 358.8M525.5 350.5L535.1 344.1M525.5 350.5L515.8 358.8M554.4 350.5L564.1 344.1M554.4 350.5L544.8 358.8M583.4 350.5L593 344.1M583.4 350.5L573.7 358.8M612.3 350.5L622 344.1M612.3 350.5L602.7 358.8M641.3 350.5L650.9 344.1M641.3 350.5L631.6 358.8M670.3 350.5L679.9 344.1M670.3 350.5L660.6 358.8M699.2 350.5L708.9 344.1M699.2 350.5L689.6 358.8" stroke="#d08a60" stroke-width="2.1" fill="none"/>
<path d="M477.2 60.7L486.8 52.5M457.9 75.4L448.2 81.9M506.1 60.7L515.8 52.5M486.8 75.4L477.2 81.9M535.1 60.7L544.8 52.5M515.8 75.4L506.1 81.9M564.1 60.7L573.7 52.5M544.8 75.4L535.1 81.9M593 60.7L602.7 52.5M573.7 75.4L564.1 81.9M622 60.7L631.6 52.5M602.7 75.4L593 81.9M650.9 60.7L660.6 52.5M631.6 75.4L622 81.9M679.9 60.7L689.6 52.5M660.6 75.4L650.9 81.9M708.9 60.7L718.5 52.5M689.6 75.4L679.9 81.9M477.2 108.4L486.8 102.2M457.9 123L448.2 131.3M506.1 108.4L515.8 102.2M486.8 123L477.2 131.3M535.1 108.4L544.8 102.2M515.8 123L506.1 131.3M564.1 108.4L573.7 102.2M544.8 123L535.1 131.3M593 108.4L602.7 102.2M573.7 123L564.1 131.3M622 108.4L631.6 102.2M602.7 123L593 131.3M650.9 108.4L660.6 102.2M631.6 123L622 131.3M679.9 108.4L689.6 102.2M660.6 123L650.9 131.3M708.9 108.4L718.5 102.2M689.6 123L679.9 131.3M496.5 139.6L506.1 131.3M477.2 154.2L467.5 160.4M525.5 139.6L535.1 131.3M506.1 154.2L496.5 160.4M554.4 139.6L564.1 131.3M535.1 154.2L525.5 160.4M583.4 139.6L593 131.3M564.1 154.2L554.4 160.4M612.3 139.6L622 131.3M593 154.2L583.4 160.4M641.3 139.6L650.9 131.3M622 154.2L612.3 160.4M670.3 139.6L679.9 131.3M650.9 154.2L641.3 160.4M699.2 139.6L708.9 131.3M679.9 154.2L670.3 160.4M728.2 139.6L737.8 131.3M708.9 154.2L699.2 160.4M496.5 187.8L506.1 182M477.2 202L467.5 210.3M525.5 187.8L535.1 182M506.1 202L496.5 210.3M554.4 187.8L564.1 182M535.1 202L525.5 210.3M583.4 187.8L593 182M564.1 202L554.4 210.3M612.3 187.8L622 182M593 202L583.4 210.3M641.3 187.8L650.9 182M622 202L612.3 210.3M670.3 187.8L679.9 182M650.9 202L641.3 210.3M699.2 187.8L708.9 182M679.9 202L670.3 210.3M728.2 187.8L737.8 182M708.9 202L699.2 210.3M486.8 218.7L496.5 210.3M467.5 232.8L457.9 238.6M515.8 218.7L525.5 210.3M496.5 232.8L486.8 238.6M544.8 218.7L554.4 210.3M525.5 232.8L515.8 238.6M573.7 218.7L583.4 210.3M554.4 232.8L544.8 238.6M602.7 218.7L612.3 210.3M583.4 232.8L573.7 238.6M631.6 218.7L641.3 210.3M612.3 232.8L602.7 238.6M660.6 218.7L670.3 210.3M641.3 232.8L631.6 238.6M689.6 218.7L699.2 210.3M670.3 232.8L660.6 238.6M718.5 218.7L728.2 210.3M699.2 232.8L689.6 238.6M486.8 266.5L496.5 260M467.5 281L457.9 289M515.8 266.5L525.5 260M496.5 281L486.8 289M544.8 266.5L554.4 260M525.5 281L515.8 289M573.7 266.5L583.4 260M554.4 281L544.8 289M602.7 266.5L612.3 260M583.4 281L573.7 289M631.6 266.5L641.3 260M612.3 281L602.7 289M660.6 266.5L670.3 260M641.3 281L631.6 289M689.6 266.5L699.2 260M670.3 281L660.6 289M718.5 266.5L728.2 260M699.2 281L689.6 289M477.2 297.4L486.8 289M457.9 311.9L448.2 318.2M506.1 297.4L515.8 289M486.8 311.9L477.2 318.2M535.1 297.4L544.8 289M515.8 311.9L506.1 318.2M564.1 297.4L573.7 289M544.8 311.9L535.1 318.2M593 297.4L602.7 289M573.7 311.9L564.1 318.2M622 297.4L631.6 289M602.7 311.9L593 318.2M650.9 297.4L660.6 289M631.6 311.9L622 318.2M679.9 297.4L689.6 289M660.6 311.9L650.9 318.2M708.9 297.4L718.5 289M689.6 311.9L679.9 318.2M477.2 344.1L486.8 337.6M457.9 358.8L448.2 367M506.1 344.1L515.8 337.6M486.8 358.8L477.2 367M535.1 344.1L544.8 337.6M515.8 358.8L506.1 367M564.1 344.1L573.7 337.6M544.8 358.8L535.1 367M593 344.1L602.7 337.6M573.7 358.8L564.1 367M622 344.1L631.6 337.6M602.7 358.8L593 367M650.9 344.1L660.6 337.6M631.6 358.8L622 367M679.9 344.1L689.6 337.6M660.6 358.8L650.9 367M708.9 344.1L718.5 337.6M689.6 358.8L679.9 367" stroke="#9c9a58" stroke-width="2.1" fill="none"/>
<path d="M467.5 68.9L462.7 60.7M467.5 68.9L472.4 75.4M496.5 68.9L491.7 60.7M496.5 68.9L501.3 75.4M525.5 68.9L520.6 60.7M525.5 68.9L530.3 75.4M554.4 68.9L549.6 60.7M554.4 68.9L559.2 75.4M583.4 68.9L578.5 60.7M583.4 68.9L588.2 75.4M612.3 68.9L607.5 60.7M612.3 68.9L617.2 75.4M641.3 68.9L636.5 60.7M641.3 68.9L646.1 75.4M670.3 68.9L665.4 60.7M670.3 68.9L675.1 75.4M699.2 68.9L694.4 60.7M699.2 68.9L704 75.4M467.5 114.6L462.7 108.4M467.5 114.6L472.4 123M496.5 114.6L491.7 108.4M496.5 114.6L501.3 123M525.5 114.6L520.6 108.4M525.5 114.6L530.3 123M554.4 114.6L549.6 108.4M554.4 114.6L559.2 123M583.4 114.6L578.5 108.4M583.4 114.6L588.2 123M612.3 114.6L607.5 108.4M612.3 114.6L617.2 123M641.3 114.6L636.5 108.4M641.3 114.6L646.1 123M670.3 114.6L665.4 108.4M670.3 114.6L675.1 123M699.2 114.6L694.4 108.4M699.2 114.6L704 123M486.8 147.9L482 139.6M486.8 147.9L491.7 154.2M515.8 147.9L511 139.6M515.8 147.9L520.6 154.2M544.8 147.9L539.9 139.6M544.8 147.9L549.6 154.2M573.7 147.9L568.9 139.6M573.7 147.9L578.5 154.2M602.7 147.9L597.9 139.6M602.7 147.9L607.5 154.2M631.6 147.9L626.8 139.6M631.6 147.9L636.5 154.2M660.6 147.9L655.8 139.6M660.6 147.9L665.4 154.2M689.6 147.9L684.7 139.6M689.6 147.9L694.4 154.2M718.5 147.9L713.7 139.6M718.5 147.9L723.3 154.2M486.8 193.7L482 187.8M486.8 193.7L491.7 202M515.8 193.7L511 187.8M515.8 193.7L520.6 202M544.8 193.7L539.9 187.8M544.8 193.7L549.6 202M573.7 193.7L568.9 187.8M573.7 193.7L578.5 202M602.7 193.7L597.9 187.8M602.7 193.7L607.5 202M631.6 193.7L626.8 187.8M631.6 193.7L636.5 202M660.6 193.7L655.8 187.8M660.6 193.7L665.4 202M689.6 193.7L684.7 187.8M689.6 193.7L694.4 202M718.5 193.7L713.7 187.8M718.5 193.7L723.3 202M477.2 227L472.4 218.7M477.2 227L482 232.8M506.1 227L501.3 218.7M506.1 227L511 232.8M535.1 227L530.3 218.7M535.1 227L539.9 232.8M564.1 227L559.2 218.7M564.1 227L568.9 232.8M593 227L588.2 218.7M593 227L597.9 232.8M622 227L617.2 218.7M622 227L626.8 232.8M650.9 227L646.1 218.7M650.9 227L655.8 232.8M679.9 227L675.1 218.7M679.9 227L684.7 232.8M708.9 227L704 218.7M708.9 227L713.7 232.8M477.2 273L472.4 266.5M477.2 273L482 281M506.1 273L501.3 266.5M506.1 273L511 281M535.1 273L530.3 266.5M535.1 273L539.9 281M564.1 273L559.2 266.5M564.1 273L568.9 281M593 273L588.2 266.5M593 273L597.9 281M622 273L617.2 266.5M622 273L626.8 281M650.9 273L646.1 266.5M650.9 273L655.8 281M679.9 273L675.1 266.5M679.9 273L684.7 281M708.9 273L704 266.5M708.9 273L713.7 281M467.5 305.7L462.7 297.4M467.5 305.7L472.4 311.9M496.5 305.7L491.7 297.4M496.5 305.7L501.3 311.9M525.5 305.7L520.6 297.4M525.5 305.7L530.3 311.9M554.4 305.7L549.6 297.4M554.4 305.7L559.2 311.9M583.4 305.7L578.5 297.4M583.4 305.7L588.2 311.9M612.3 305.7L607.5 297.4M612.3 305.7L617.2 311.9M641.3 305.7L636.5 297.4M641.3 305.7L646.1 311.9M670.3 305.7L665.4 297.4M670.3 305.7L675.1 311.9M699.2 305.7L694.4 297.4M699.2 305.7L704 311.9M467.5 350.5L462.7 344.1M467.5 350.5L472.4 358.8M496.5 350.5L491.7 344.1M496.5 350.5L501.3 358.8M525.5 350.5L520.6 344.1M525.5 350.5L530.3 358.8M554.4 350.5L549.6 344.1M554.4 350.5L559.2 358.8M583.4 350.5L578.5 344.1M583.4 350.5L588.2 358.8M612.3 350.5L607.5 344.1M612.3 350.5L617.2 358.8M641.3 350.5L636.5 344.1M641.3 350.5L646.1 358.8M670.3 350.5L665.4 344.1M670.3 350.5L675.1 358.8M699.2 350.5L694.4 344.1M699.2 350.5L704 358.8" stroke="#7a5e3c" stroke-width="2.3" fill="none"/>
<path d="M462.7 60.7L457.9 52.5M472.4 75.4L477.2 81.9M491.7 60.7L486.8 52.5M501.3 75.4L506.1 81.9M520.6 60.7L515.8 52.5M530.3 75.4L535.1 81.9M549.6 60.7L544.8 52.5M559.2 75.4L564.1 81.9M578.5 60.7L573.7 52.5M588.2 75.4L593 81.9M607.5 60.7L602.7 52.5M617.2 75.4L622 81.9M636.5 60.7L631.6 52.5M646.1 75.4L650.9 81.9M665.4 60.7L660.6 52.5M675.1 75.4L679.9 81.9M694.4 60.7L689.6 52.5M704 75.4L708.9 81.9M462.7 108.4L457.9 102.2M472.4 123L477.2 131.3M491.7 108.4L486.8 102.2M501.3 123L506.1 131.3M520.6 108.4L515.8 102.2M530.3 123L535.1 131.3M549.6 108.4L544.8 102.2M559.2 123L564.1 131.3M578.5 108.4L573.7 102.2M588.2 123L593 131.3M607.5 108.4L602.7 102.2M617.2 123L622 131.3M636.5 108.4L631.6 102.2M646.1 123L650.9 131.3M665.4 108.4L660.6 102.2M675.1 123L679.9 131.3M694.4 108.4L689.6 102.2M704 123L708.9 131.3M482 139.6L477.2 131.3M491.7 154.2L496.5 160.4M511 139.6L506.1 131.3M520.6 154.2L525.5 160.4M539.9 139.6L535.1 131.3M549.6 154.2L554.4 160.4M568.9 139.6L564.1 131.3M578.5 154.2L583.4 160.4M597.9 139.6L593 131.3M607.5 154.2L612.3 160.4M626.8 139.6L622 131.3M636.5 154.2L641.3 160.4M655.8 139.6L650.9 131.3M665.4 154.2L670.3 160.4M684.7 139.6L679.9 131.3M694.4 154.2L699.2 160.4M713.7 139.6L708.9 131.3M723.3 154.2L728.2 160.4M482 187.8L477.2 182M491.7 202L496.5 210.3M511 187.8L506.1 182M520.6 202L525.5 210.3M539.9 187.8L535.1 182M549.6 202L554.4 210.3M568.9 187.8L564.1 182M578.5 202L583.4 210.3M597.9 187.8L593 182M607.5 202L612.3 210.3M626.8 187.8L622 182M636.5 202L641.3 210.3M655.8 187.8L650.9 182M665.4 202L670.3 210.3M684.7 187.8L679.9 182M694.4 202L699.2 210.3M713.7 187.8L708.9 182M723.3 202L728.2 210.3M472.4 218.7L467.5 210.3M482 232.8L486.8 238.6M501.3 218.7L496.5 210.3M511 232.8L515.8 238.6M530.3 218.7L525.5 210.3M539.9 232.8L544.8 238.6M559.2 218.7L554.4 210.3M568.9 232.8L573.7 238.6M588.2 218.7L583.4 210.3M597.9 232.8L602.7 238.6M617.2 218.7L612.3 210.3M626.8 232.8L631.6 238.6M646.1 218.7L641.3 210.3M655.8 232.8L660.6 238.6M675.1 218.7L670.3 210.3M684.7 232.8L689.6 238.6M704 218.7L699.2 210.3M713.7 232.8L718.5 238.6M472.4 266.5L467.5 260M482 281L486.8 289M501.3 266.5L496.5 260M511 281L515.8 289M530.3 266.5L525.5 260M539.9 281L544.8 289M559.2 266.5L554.4 260M568.9 281L573.7 289M588.2 266.5L583.4 260M597.9 281L602.7 289M617.2 266.5L612.3 260M626.8 281L631.6 289M646.1 266.5L641.3 260M655.8 281L660.6 289M675.1 266.5L670.3 260M684.7 281L689.6 289M704 266.5L699.2 260M713.7 281L718.5 289M462.7 297.4L457.9 289M472.4 311.9L477.2 318.2M491.7 297.4L486.8 289M501.3 311.9L506.1 318.2M520.6 297.4L515.8 289M530.3 311.9L535.1 318.2M549.6 297.4L544.8 289M559.2 311.9L564.1 318.2M578.5 297.4L573.7 289M588.2 311.9L593 318.2M607.5 297.4L602.7 289M617.2 311.9L622 318.2M636.5 297.4L631.6 289M646.1 311.9L650.9 318.2M665.4 297.4L660.6 289M675.1 311.9L679.9 318.2M694.4 297.4L689.6 289M704 311.9L708.9 318.2M462.7 344.1L457.9 337.6M472.4 358.8L477.2 367M491.7 344.1L486.8 337.6M501.3 358.8L506.1 367M520.6 344.1L515.8 337.6M530.3 358.8L535.1 367M549.6 344.1L544.8 337.6M559.2 358.8L564.1 367M578.5 344.1L573.7 337.6M588.2 358.8L593 367M607.5 344.1L602.7 337.6M617.2 358.8L622 367M636.5 344.1L631.6 337.6M646.1 358.8L650.9 367M665.4 344.1L660.6 337.6M675.1 358.8L679.9 367M694.4 344.1L689.6 337.6M704 358.8L708.9 367" stroke="#6e6c36" stroke-width="2.3" fill="none"/>
<circle cx="486.8" cy="52.5" r="4.2" fill="url(#gG2)" stroke="#4f4d1e" stroke-width="0.8"/>
<circle cx="515.8" cy="52.5" r="4.2" fill="url(#gG2)" stroke="#4f4d1e" stroke-width="0.8"/>
<circle cx="544.8" cy="52.5" r="4.2" fill="url(#gG2)" stroke="#4f4d1e" stroke-width="0.8"/>
<circle cx="573.7" cy="52.5" r="4.2" fill="url(#gG2)" stroke="#4f4d1e" stroke-width="0.8"/>
<circle cx="602.7" cy="52.5" r="4.2" fill="url(#gG2)" stroke="#4f4d1e" stroke-width="0.8"/>
<circle cx="631.6" cy="52.5" r="4.2" fill="url(#gG2)" stroke="#4f4d1e" stroke-width="0.8"/>
<circle cx="660.6" cy="52.5" r="4.2" fill="url(#gG2)" stroke="#4f4d1e" stroke-width="0.8"/>
<circle cx="689.6" cy="52.5" r="4.2" fill="url(#gG2)" stroke="#4f4d1e" stroke-width="0.8"/>
<circle cx="718.5" cy="52.5" r="4.2" fill="url(#gG2)" stroke="#4f4d1e" stroke-width="0.8"/>
<circle cx="467.5" cy="68.9" r="4.1" fill="url(#gO)" stroke="#8a4420" stroke-width="0.8"/>
<circle cx="496.5" cy="68.9" r="4.1" fill="url(#gO)" stroke="#8a4420" stroke-width="0.8"/>
<circle cx="525.5" cy="68.9" r="4.1" fill="url(#gO)" stroke="#8a4420" stroke-width="0.8"/>
<circle cx="554.4" cy="68.9" r="4.1" fill="url(#gO)" stroke="#8a4420" stroke-width="0.8"/>
<circle cx="583.4" cy="68.9" r="4.1" fill="url(#gO)" stroke="#8a4420" stroke-width="0.8"/>
<circle cx="612.3" cy="68.9" r="4.1" fill="url(#gO)" stroke="#8a4420" stroke-width="0.8"/>
<circle cx="641.3" cy="68.9" r="4.1" fill="url(#gO)" stroke="#8a4420" stroke-width="0.8"/>
<circle cx="670.3" cy="68.9" r="4.1" fill="url(#gO)" stroke="#8a4420" stroke-width="0.8"/>
<circle cx="699.2" cy="68.9" r="4.1" fill="url(#gO)" stroke="#8a4420" stroke-width="0.8"/>
<circle cx="477.2" cy="81.9" r="4.2" fill="url(#gG2)" stroke="#4f4d1e" stroke-width="0.8"/>
<circle cx="506.1" cy="81.9" r="4.2" fill="url(#gG2)" stroke="#4f4d1e" stroke-width="0.8"/>
<circle cx="535.1" cy="81.9" r="4.2" fill="url(#gG2)" stroke="#4f4d1e" stroke-width="0.8"/>
<circle cx="564.1" cy="81.9" r="4.2" fill="url(#gG2)" stroke="#4f4d1e" stroke-width="0.8"/>
<circle cx="593" cy="81.9" r="4.2" fill="url(#gG2)" stroke="#4f4d1e" stroke-width="0.8"/>
<circle cx="622" cy="81.9" r="4.2" fill="url(#gG2)" stroke="#4f4d1e" stroke-width="0.8"/>
<circle cx="650.9" cy="81.9" r="4.2" fill="url(#gG2)" stroke="#4f4d1e" stroke-width="0.8"/>
<circle cx="679.9" cy="81.9" r="4.2" fill="url(#gG2)" stroke="#4f4d1e" stroke-width="0.8"/>
<circle cx="708.9" cy="81.9" r="4.2" fill="url(#gG2)" stroke="#4f4d1e" stroke-width="0.8"/>
<circle cx="486.8" cy="102.2" r="4.2" fill="url(#gG2)" stroke="#4f4d1e" stroke-width="0.8"/>
<circle cx="515.8" cy="102.2" r="4.2" fill="url(#gG2)" stroke="#4f4d1e" stroke-width="0.8"/>
<circle cx="544.8" cy="102.2" r="4.2" fill="url(#gG2)" stroke="#4f4d1e" stroke-width="0.8"/>
<circle cx="573.7" cy="102.2" r="4.2" fill="url(#gG2)" stroke="#4f4d1e" stroke-width="0.8"/>
<circle cx="602.7" cy="102.2" r="4.2" fill="url(#gG2)" stroke="#4f4d1e" stroke-width="0.8"/>
<circle cx="631.6" cy="102.2" r="4.2" fill="url(#gG2)" stroke="#4f4d1e" stroke-width="0.8"/>
<circle cx="660.6" cy="102.2" r="4.2" fill="url(#gG2)" stroke="#4f4d1e" stroke-width="0.8"/>
<circle cx="689.6" cy="102.2" r="4.2" fill="url(#gG2)" stroke="#4f4d1e" stroke-width="0.8"/>
<circle cx="718.5" cy="102.2" r="4.2" fill="url(#gG2)" stroke="#4f4d1e" stroke-width="0.8"/>
<circle cx="467.5" cy="114.6" r="4.1" fill="url(#gO)" stroke="#8a4420" stroke-width="0.8"/>
<circle cx="496.5" cy="114.6" r="4.1" fill="url(#gO)" stroke="#8a4420" stroke-width="0.8"/>
<circle cx="525.5" cy="114.6" r="4.1" fill="url(#gO)" stroke="#8a4420" stroke-width="0.8"/>
<circle cx="554.4" cy="114.6" r="4.1" fill="url(#gO)" stroke="#8a4420" stroke-width="0.8"/>
<circle cx="583.4" cy="114.6" r="4.1" fill="url(#gO)" stroke="#8a4420" stroke-width="0.8"/>
<circle cx="612.3" cy="114.6" r="4.1" fill="url(#gO)" stroke="#8a4420" stroke-width="0.8"/>
<circle cx="641.3" cy="114.6" r="4.1" fill="url(#gO)" stroke="#8a4420" stroke-width="0.8"/>
<circle cx="670.3" cy="114.6" r="4.1" fill="url(#gO)" stroke="#8a4420" stroke-width="0.8"/>
<circle cx="699.2" cy="114.6" r="4.1" fill="url(#gO)" stroke="#8a4420" stroke-width="0.8"/>
<circle cx="477.2" cy="131.3" r="4.2" fill="url(#gG2)" stroke="#4f4d1e" stroke-width="0.8"/>
<circle cx="506.1" cy="131.3" r="4.2" fill="url(#gG2)" stroke="#4f4d1e" stroke-width="0.8"/>
<circle cx="535.1" cy="131.3" r="4.2" fill="url(#gG2)" stroke="#4f4d1e" stroke-width="0.8"/>
<circle cx="564.1" cy="131.3" r="4.2" fill="url(#gG2)" stroke="#4f4d1e" stroke-width="0.8"/>
<circle cx="593" cy="131.3" r="4.2" fill="url(#gG2)" stroke="#4f4d1e" stroke-width="0.8"/>
<circle cx="622" cy="131.3" r="4.2" fill="url(#gG2)" stroke="#4f4d1e" stroke-width="0.8"/>
<circle cx="650.9" cy="131.3" r="4.2" fill="url(#gG2)" stroke="#4f4d1e" stroke-width="0.8"/>
<circle cx="679.9" cy="131.3" r="4.2" fill="url(#gG2)" stroke="#4f4d1e" stroke-width="0.8"/>
<circle cx="708.9" cy="131.3" r="4.2" fill="url(#gG2)" stroke="#4f4d1e" stroke-width="0.8"/>
<circle cx="486.8" cy="147.9" r="4.1" fill="url(#gO)" stroke="#8a4420" stroke-width="0.8"/>
<circle cx="515.8" cy="147.9" r="4.1" fill="url(#gO)" stroke="#8a4420" stroke-width="0.8"/>
<circle cx="544.8" cy="147.9" r="4.1" fill="url(#gO)" stroke="#8a4420" stroke-width="0.8"/>
<circle cx="573.7" cy="147.9" r="4.1" fill="url(#gO)" stroke="#8a4420" stroke-width="0.8"/>
<circle cx="602.7" cy="147.9" r="4.1" fill="url(#gO)" stroke="#8a4420" stroke-width="0.8"/>
<circle cx="631.6" cy="147.9" r="4.1" fill="url(#gO)" stroke="#8a4420" stroke-width="0.8"/>
<circle cx="660.6" cy="147.9" r="4.1" fill="url(#gO)" stroke="#8a4420" stroke-width="0.8"/>
<circle cx="689.6" cy="147.9" r="4.1" fill="url(#gO)" stroke="#8a4420" stroke-width="0.8"/>
<circle cx="718.5" cy="147.9" r="4.1" fill="url(#gO)" stroke="#8a4420" stroke-width="0.8"/>
<circle cx="467.5" cy="160.4" r="4.2" fill="url(#gG2)" stroke="#4f4d1e" stroke-width="0.8"/>
<circle cx="496.5" cy="160.4" r="4.2" fill="url(#gG2)" stroke="#4f4d1e" stroke-width="0.8"/>
<circle cx="525.5" cy="160.4" r="4.2" fill="url(#gG2)" stroke="#4f4d1e" stroke-width="0.8"/>
<circle cx="554.4" cy="160.4" r="4.2" fill="url(#gG2)" stroke="#4f4d1e" stroke-width="0.8"/>
<circle cx="583.4" cy="160.4" r="4.2" fill="url(#gG2)" stroke="#4f4d1e" stroke-width="0.8"/>
<circle cx="612.3" cy="160.4" r="4.2" fill="url(#gG2)" stroke="#4f4d1e" stroke-width="0.8"/>
<circle cx="641.3" cy="160.4" r="4.2" fill="url(#gG2)" stroke="#4f4d1e" stroke-width="0.8"/>
<circle cx="670.3" cy="160.4" r="4.2" fill="url(#gG2)" stroke="#4f4d1e" stroke-width="0.8"/>
<circle cx="699.2" cy="160.4" r="4.2" fill="url(#gG2)" stroke="#4f4d1e" stroke-width="0.8"/>
<circle cx="477.2" cy="182" r="4.2" fill="url(#gG2)" stroke="#4f4d1e" stroke-width="0.8"/>
<circle cx="506.1" cy="182" r="4.2" fill="url(#gG2)" stroke="#4f4d1e" stroke-width="0.8"/>
<circle cx="535.1" cy="182" r="4.2" fill="url(#gG2)" stroke="#4f4d1e" stroke-width="0.8"/>
<circle cx="564.1" cy="182" r="4.2" fill="url(#gG2)" stroke="#4f4d1e" stroke-width="0.8"/>
<circle cx="593" cy="182" r="4.2" fill="url(#gG2)" stroke="#4f4d1e" stroke-width="0.8"/>
<circle cx="622" cy="182" r="4.2" fill="url(#gG2)" stroke="#4f4d1e" stroke-width="0.8"/>
<circle cx="650.9" cy="182" r="4.2" fill="url(#gG2)" stroke="#4f4d1e" stroke-width="0.8"/>
<circle cx="679.9" cy="182" r="4.2" fill="url(#gG2)" stroke="#4f4d1e" stroke-width="0.8"/>
<circle cx="708.9" cy="182" r="4.2" fill="url(#gG2)" stroke="#4f4d1e" stroke-width="0.8"/>
<circle cx="486.8" cy="193.7" r="4.1" fill="url(#gO)" stroke="#8a4420" stroke-width="0.8"/>
<circle cx="515.8" cy="193.7" r="4.1" fill="url(#gO)" stroke="#8a4420" stroke-width="0.8"/>
<circle cx="544.8" cy="193.7" r="4.1" fill="url(#gO)" stroke="#8a4420" stroke-width="0.8"/>
<circle cx="573.7" cy="193.7" r="4.1" fill="url(#gO)" stroke="#8a4420" stroke-width="0.8"/>
<circle cx="602.7" cy="193.7" r="4.1" fill="url(#gO)" stroke="#8a4420" stroke-width="0.8"/>
<circle cx="631.6" cy="193.7" r="4.1" fill="url(#gO)" stroke="#8a4420" stroke-width="0.8"/>
<circle cx="660.6" cy="193.7" r="4.1" fill="url(#gO)" stroke="#8a4420" stroke-width="0.8"/>
<circle cx="689.6" cy="193.7" r="4.1" fill="url(#gO)" stroke="#8a4420" stroke-width="0.8"/>
<circle cx="718.5" cy="193.7" r="4.1" fill="url(#gO)" stroke="#8a4420" stroke-width="0.8"/>
<circle cx="467.5" cy="210.3" r="4.2" fill="url(#gG2)" stroke="#4f4d1e" stroke-width="0.8"/>
<circle cx="496.5" cy="210.3" r="4.2" fill="url(#gG2)" stroke="#4f4d1e" stroke-width="0.8"/>
<circle cx="525.5" cy="210.3" r="4.2" fill="url(#gG2)" stroke="#4f4d1e" stroke-width="0.8"/>
<circle cx="554.4" cy="210.3" r="4.2" fill="url(#gG2)" stroke="#4f4d1e" stroke-width="0.8"/>
<circle cx="583.4" cy="210.3" r="4.2" fill="url(#gG2)" stroke="#4f4d1e" stroke-width="0.8"/>
<circle cx="612.3" cy="210.3" r="4.2" fill="url(#gG2)" stroke="#4f4d1e" stroke-width="0.8"/>
<circle cx="641.3" cy="210.3" r="4.2" fill="url(#gG2)" stroke="#4f4d1e" stroke-width="0.8"/>
<circle cx="670.3" cy="210.3" r="4.2" fill="url(#gG2)" stroke="#4f4d1e" stroke-width="0.8"/>
<circle cx="699.2" cy="210.3" r="4.2" fill="url(#gG2)" stroke="#4f4d1e" stroke-width="0.8"/>
<circle cx="477.2" cy="227" r="4.1" fill="url(#gO)" stroke="#8a4420" stroke-width="0.8"/>
<circle cx="506.1" cy="227" r="4.1" fill="url(#gO)" stroke="#8a4420" stroke-width="0.8"/>
<circle cx="535.1" cy="227" r="4.1" fill="url(#gO)" stroke="#8a4420" stroke-width="0.8"/>
<circle cx="564.1" cy="227" r="4.1" fill="url(#gO)" stroke="#8a4420" stroke-width="0.8"/>
<circle cx="593" cy="227" r="4.1" fill="url(#gO)" stroke="#8a4420" stroke-width="0.8"/>
<circle cx="622" cy="227" r="4.1" fill="url(#gO)" stroke="#8a4420" stroke-width="0.8"/>
<circle cx="650.9" cy="227" r="4.1" fill="url(#gO)" stroke="#8a4420" stroke-width="0.8"/>
<circle cx="679.9" cy="227" r="4.1" fill="url(#gO)" stroke="#8a4420" stroke-width="0.8"/>
<circle cx="708.9" cy="227" r="4.1" fill="url(#gO)" stroke="#8a4420" stroke-width="0.8"/>
<circle cx="486.8" cy="238.6" r="4.2" fill="url(#gG2)" stroke="#4f4d1e" stroke-width="0.8"/>
<circle cx="515.8" cy="238.6" r="4.2" fill="url(#gG2)" stroke="#4f4d1e" stroke-width="0.8"/>
<circle cx="544.8" cy="238.6" r="4.2" fill="url(#gG2)" stroke="#4f4d1e" stroke-width="0.8"/>
<circle cx="573.7" cy="238.6" r="4.2" fill="url(#gG2)" stroke="#4f4d1e" stroke-width="0.8"/>
<circle cx="602.7" cy="238.6" r="4.2" fill="url(#gG2)" stroke="#4f4d1e" stroke-width="0.8"/>
<circle cx="631.6" cy="238.6" r="4.2" fill="url(#gG2)" stroke="#4f4d1e" stroke-width="0.8"/>
<circle cx="660.6" cy="238.6" r="4.2" fill="url(#gG2)" stroke="#4f4d1e" stroke-width="0.8"/>
<circle cx="689.6" cy="238.6" r="4.2" fill="url(#gG2)" stroke="#4f4d1e" stroke-width="0.8"/>
<circle cx="718.5" cy="238.6" r="4.2" fill="url(#gG2)" stroke="#4f4d1e" stroke-width="0.8"/>
<circle cx="467.5" cy="260" r="4.2" fill="url(#gG2)" stroke="#4f4d1e" stroke-width="0.8"/>
<circle cx="496.5" cy="260" r="4.2" fill="url(#gG2)" stroke="#4f4d1e" stroke-width="0.8"/>
<circle cx="525.5" cy="260" r="4.2" fill="url(#gG2)" stroke="#4f4d1e" stroke-width="0.8"/>
<circle cx="554.4" cy="260" r="4.2" fill="url(#gG2)" stroke="#4f4d1e" stroke-width="0.8"/>
<circle cx="583.4" cy="260" r="4.2" fill="url(#gG2)" stroke="#4f4d1e" stroke-width="0.8"/>
<circle cx="612.3" cy="260" r="4.2" fill="url(#gG2)" stroke="#4f4d1e" stroke-width="0.8"/>
<circle cx="641.3" cy="260" r="4.2" fill="url(#gG2)" stroke="#4f4d1e" stroke-width="0.8"/>
<circle cx="670.3" cy="260" r="4.2" fill="url(#gG2)" stroke="#4f4d1e" stroke-width="0.8"/>
<circle cx="699.2" cy="260" r="4.2" fill="url(#gG2)" stroke="#4f4d1e" stroke-width="0.8"/>
<circle cx="477.2" cy="273" r="4.1" fill="url(#gO)" stroke="#8a4420" stroke-width="0.8"/>
<circle cx="506.1" cy="273" r="4.1" fill="url(#gO)" stroke="#8a4420" stroke-width="0.8"/>
<circle cx="535.1" cy="273" r="4.1" fill="url(#gO)" stroke="#8a4420" stroke-width="0.8"/>
<circle cx="564.1" cy="273" r="4.1" fill="url(#gO)" stroke="#8a4420" stroke-width="0.8"/>
<circle cx="593" cy="273" r="4.1" fill="url(#gO)" stroke="#8a4420" stroke-width="0.8"/>
<circle cx="622" cy="273" r="4.1" fill="url(#gO)" stroke="#8a4420" stroke-width="0.8"/>
<circle cx="650.9" cy="273" r="4.1" fill="url(#gO)" stroke="#8a4420" stroke-width="0.8"/>
<circle cx="679.9" cy="273" r="4.1" fill="url(#gO)" stroke="#8a4420" stroke-width="0.8"/>
<circle cx="708.9" cy="273" r="4.1" fill="url(#gO)" stroke="#8a4420" stroke-width="0.8"/>
<circle cx="486.8" cy="289" r="4.2" fill="url(#gG2)" stroke="#4f4d1e" stroke-width="0.8"/>
<circle cx="515.8" cy="289" r="4.2" fill="url(#gG2)" stroke="#4f4d1e" stroke-width="0.8"/>
<circle cx="544.8" cy="289" r="4.2" fill="url(#gG2)" stroke="#4f4d1e" stroke-width="0.8"/>
<circle cx="573.7" cy="289" r="4.2" fill="url(#gG2)" stroke="#4f4d1e" stroke-width="0.8"/>
<circle cx="602.7" cy="289" r="4.2" fill="url(#gG2)" stroke="#4f4d1e" stroke-width="0.8"/>
<circle cx="631.6" cy="289" r="4.2" fill="url(#gG2)" stroke="#4f4d1e" stroke-width="0.8"/>
<circle cx="660.6" cy="289" r="4.2" fill="url(#gG2)" stroke="#4f4d1e" stroke-width="0.8"/>
<circle cx="689.6" cy="289" r="4.2" fill="url(#gG2)" stroke="#4f4d1e" stroke-width="0.8"/>
<circle cx="718.5" cy="289" r="4.2" fill="url(#gG2)" stroke="#4f4d1e" stroke-width="0.8"/>
<circle cx="467.5" cy="305.7" r="4.1" fill="url(#gO)" stroke="#8a4420" stroke-width="0.8"/>
<circle cx="496.5" cy="305.7" r="4.1" fill="url(#gO)" stroke="#8a4420" stroke-width="0.8"/>
<circle cx="525.5" cy="305.7" r="4.1" fill="url(#gO)" stroke="#8a4420" stroke-width="0.8"/>
<circle cx="554.4" cy="305.7" r="4.1" fill="url(#gO)" stroke="#8a4420" stroke-width="0.8"/>
<circle cx="583.4" cy="305.7" r="4.1" fill="url(#gO)" stroke="#8a4420" stroke-width="0.8"/>
<circle cx="612.3" cy="305.7" r="4.1" fill="url(#gO)" stroke="#8a4420" stroke-width="0.8"/>
<circle cx="641.3" cy="305.7" r="4.1" fill="url(#gO)" stroke="#8a4420" stroke-width="0.8"/>
<circle cx="670.3" cy="305.7" r="4.1" fill="url(#gO)" stroke="#8a4420" stroke-width="0.8"/>
<circle cx="699.2" cy="305.7" r="4.1" fill="url(#gO)" stroke="#8a4420" stroke-width="0.8"/>
<circle cx="477.2" cy="318.2" r="4.2" fill="url(#gG2)" stroke="#4f4d1e" stroke-width="0.8"/>
<circle cx="506.1" cy="318.2" r="4.2" fill="url(#gG2)" stroke="#4f4d1e" stroke-width="0.8"/>
<circle cx="535.1" cy="318.2" r="4.2" fill="url(#gG2)" stroke="#4f4d1e" stroke-width="0.8"/>
<circle cx="564.1" cy="318.2" r="4.2" fill="url(#gG2)" stroke="#4f4d1e" stroke-width="0.8"/>
<circle cx="593" cy="318.2" r="4.2" fill="url(#gG2)" stroke="#4f4d1e" stroke-width="0.8"/>
<circle cx="622" cy="318.2" r="4.2" fill="url(#gG2)" stroke="#4f4d1e" stroke-width="0.8"/>
<circle cx="650.9" cy="318.2" r="4.2" fill="url(#gG2)" stroke="#4f4d1e" stroke-width="0.8"/>
<circle cx="679.9" cy="318.2" r="4.2" fill="url(#gG2)" stroke="#4f4d1e" stroke-width="0.8"/>
<circle cx="708.9" cy="318.2" r="4.2" fill="url(#gG2)" stroke="#4f4d1e" stroke-width="0.8"/>
<circle cx="486.8" cy="337.6" r="4.2" fill="url(#gG2)" stroke="#4f4d1e" stroke-width="0.8"/>
<circle cx="515.8" cy="337.6" r="4.2" fill="url(#gG2)" stroke="#4f4d1e" stroke-width="0.8"/>
<circle cx="544.8" cy="337.6" r="4.2" fill="url(#gG2)" stroke="#4f4d1e" stroke-width="0.8"/>
<circle cx="573.7" cy="337.6" r="4.2" fill="url(#gG2)" stroke="#4f4d1e" stroke-width="0.8"/>
<circle cx="602.7" cy="337.6" r="4.2" fill="url(#gG2)" stroke="#4f4d1e" stroke-width="0.8"/>
<circle cx="631.6" cy="337.6" r="4.2" fill="url(#gG2)" stroke="#4f4d1e" stroke-width="0.8"/>
<circle cx="660.6" cy="337.6" r="4.2" fill="url(#gG2)" stroke="#4f4d1e" stroke-width="0.8"/>
<circle cx="689.6" cy="337.6" r="4.2" fill="url(#gG2)" stroke="#4f4d1e" stroke-width="0.8"/>
<circle cx="718.5" cy="337.6" r="4.2" fill="url(#gG2)" stroke="#4f4d1e" stroke-width="0.8"/>
<circle cx="467.5" cy="350.5" r="4.1" fill="url(#gO)" stroke="#8a4420" stroke-width="0.8"/>
<circle cx="496.5" cy="350.5" r="4.1" fill="url(#gO)" stroke="#8a4420" stroke-width="0.8"/>
<circle cx="525.5" cy="350.5" r="4.1" fill="url(#gO)" stroke="#8a4420" stroke-width="0.8"/>
<circle cx="554.4" cy="350.5" r="4.1" fill="url(#gO)" stroke="#8a4420" stroke-width="0.8"/>
<circle cx="583.4" cy="350.5" r="4.1" fill="url(#gO)" stroke="#8a4420" stroke-width="0.8"/>
<circle cx="612.3" cy="350.5" r="4.1" fill="url(#gO)" stroke="#8a4420" stroke-width="0.8"/>
<circle cx="641.3" cy="350.5" r="4.1" fill="url(#gO)" stroke="#8a4420" stroke-width="0.8"/>
<circle cx="670.3" cy="350.5" r="4.1" fill="url(#gO)" stroke="#8a4420" stroke-width="0.8"/>
<circle cx="699.2" cy="350.5" r="4.1" fill="url(#gO)" stroke="#8a4420" stroke-width="0.8"/>
<circle cx="477.2" cy="367" r="4.2" fill="url(#gG2)" stroke="#4f4d1e" stroke-width="0.8"/>
<circle cx="506.1" cy="367" r="4.2" fill="url(#gG2)" stroke="#4f4d1e" stroke-width="0.8"/>
<circle cx="535.1" cy="367" r="4.2" fill="url(#gG2)" stroke="#4f4d1e" stroke-width="0.8"/>
<circle cx="564.1" cy="367" r="4.2" fill="url(#gG2)" stroke="#4f4d1e" stroke-width="0.8"/>
<circle cx="593" cy="367" r="4.2" fill="url(#gG2)" stroke="#4f4d1e" stroke-width="0.8"/>
<circle cx="622" cy="367" r="4.2" fill="url(#gG2)" stroke="#4f4d1e" stroke-width="0.8"/>
<circle cx="650.9" cy="367" r="4.2" fill="url(#gG2)" stroke="#4f4d1e" stroke-width="0.8"/>
<circle cx="679.9" cy="367" r="4.2" fill="url(#gG2)" stroke="#4f4d1e" stroke-width="0.8"/>
<circle cx="708.9" cy="367" r="4.2" fill="url(#gG2)" stroke="#4f4d1e" stroke-width="0.8"/>
</g>
<line x1="514.9" y1="100.6" x2="558.8" y2="167" stroke="#000" stroke-width="2.2" stroke-dasharray="10 2.2"/>
<line x1="558.3" y1="170.6" x2="560.6" y2="174.4" stroke="#000" stroke-width="2.2" stroke-dasharray="10 2.2"/>
<line x1="562.4" y1="178.3" x2="603" y2="239.8" stroke="#000" stroke-width="2.2" stroke-dasharray="10 2.2"/>
<line x1="69.4" y1="343.8" x2="69.4" y2="243.2" stroke="#000" stroke-width="2.3"/>
<path d="M69.4 233.2L74.6 250.2L69.4 246.7L64.2 250.2Z" fill="#000"/>
<line x1="68.3" y1="342.8" x2="163.8" y2="342.8" stroke="#000" stroke-width="2.3"/>
<path d="M173.8 342.8L156.8 337.6L160.3 342.8L156.8 348Z" fill="#000"/>
<line x1="291.5" y1="343.8" x2="291.5" y2="243.4" stroke="#000" stroke-width="2.3"/>
<path d="M291.5 233.4L296.7 250.4L291.5 246.9L286.3 250.4Z" fill="#000"/>
<line x1="290.4" y1="342.8" x2="386.3" y2="342.8" stroke="#000" stroke-width="2.3"/>
<path d="M396.3 342.8L379.3 337.6L382.8 342.8L379.3 348Z" fill="#000"/>
<line x1="514.1" y1="343.8" x2="514.1" y2="248.6" stroke="#000" stroke-width="2.3"/>
<path d="M514.1 238.6L519.3 255.6L514.1 252.1L508.9 255.6Z" fill="#000"/>
<line x1="513" y1="342.8" x2="608.8" y2="342.8" stroke="#000" stroke-width="2.3"/>
<path d="M618.8 342.8L601.8 337.6L605.3 342.8L601.8 348Z" fill="#000"/>
<rect x="106.3" y="447.2" width="572.8" height="407.1" fill="none" stroke="#262626" stroke-width="4.5" stroke-linejoin="miter"/>
<line x1="181" y1="854.3" x2="181" y2="840.3" stroke="#262626" stroke-width="4.6"/>
<line x1="181" y1="447.2" x2="181" y2="461.2" stroke="#262626" stroke-width="4.6"/>
<line x1="263.2" y1="854.3" x2="263.2" y2="840.3" stroke="#262626" stroke-width="4.6"/>
<line x1="263.2" y1="447.2" x2="263.2" y2="461.2" stroke="#262626" stroke-width="4.6"/>
<line x1="345.5" y1="854.3" x2="345.5" y2="840.3" stroke="#262626" stroke-width="4.6"/>
<line x1="345.5" y1="447.2" x2="345.5" y2="461.2" stroke="#262626" stroke-width="4.6"/>
<line x1="427.8" y1="854.3" x2="427.8" y2="840.3" stroke="#262626" stroke-width="4.6"/>
<line x1="427.8" y1="447.2" x2="427.8" y2="461.2" stroke="#262626" stroke-width="4.6"/>
<line x1="510" y1="854.3" x2="510" y2="840.3" stroke="#262626" stroke-width="4.6"/>
<line x1="510" y1="447.2" x2="510" y2="461.2" stroke="#262626" stroke-width="4.6"/>
<line x1="592.2" y1="854.3" x2="592.2" y2="840.3" stroke="#262626" stroke-width="4.6"/>
<line x1="592.2" y1="447.2" x2="592.2" y2="461.2" stroke="#262626" stroke-width="4.6"/>
<line x1="674.5" y1="854.3" x2="674.5" y2="840.3" stroke="#262626" stroke-width="4.6"/>
<line x1="674.5" y1="447.2" x2="674.5" y2="461.2" stroke="#262626" stroke-width="4.6"/>
<line x1="106.3" y1="809" x2="119.8" y2="809" stroke="#262626" stroke-width="4.5"/>
<line x1="679.1" y1="809" x2="665.6" y2="809" stroke="#262626" stroke-width="4.5"/>
<line x1="106.3" y1="763.8" x2="113.8" y2="763.8" stroke="#262626" stroke-width="4.5"/>
<line x1="679.1" y1="763.8" x2="671.6" y2="763.8" stroke="#262626" stroke-width="4.5"/>
<line x1="106.3" y1="718.7" x2="113.8" y2="718.7" stroke="#262626" stroke-width="4.5"/>
<line x1="679.1" y1="718.7" x2="671.6" y2="718.7" stroke="#262626" stroke-width="4.5"/>
<line x1="106.3" y1="673.5" x2="113.8" y2="673.5" stroke="#262626" stroke-width="4.5"/>
<line x1="679.1" y1="673.5" x2="671.6" y2="673.5" stroke="#262626" stroke-width="4.5"/>
<line x1="106.3" y1="628.4" x2="113.8" y2="628.4" stroke="#262626" stroke-width="4.5"/>
<line x1="679.1" y1="628.4" x2="671.6" y2="628.4" stroke="#262626" stroke-width="4.5"/>
<line x1="106.3" y1="583.2" x2="119.8" y2="583.2" stroke="#262626" stroke-width="4.5"/>
<line x1="679.1" y1="583.2" x2="665.6" y2="583.2" stroke="#262626" stroke-width="4.5"/>
<line x1="106.3" y1="538" x2="113.8" y2="538" stroke="#262626" stroke-width="4.5"/>
<line x1="679.1" y1="538" x2="671.6" y2="538" stroke="#262626" stroke-width="4.5"/>
<line x1="106.3" y1="492.9" x2="113.8" y2="492.9" stroke="#262626" stroke-width="4.5"/>
<line x1="679.1" y1="492.9" x2="671.6" y2="492.9" stroke="#262626" stroke-width="4.5"/>
<clipPath id="clipAx"><rect x="106.3" y="444.3" width="572.8" height="410"/></clipPath>
<g clip-path="url(#clipAx)">
<path d="M109.7 509.9 L109.9 510.3 L110.1 510.7 L110.3 511.2 L110.6 511.7 L110.8 512.3 L111.1 512.9 L111.5 513.5 L111.8 514.2 L112.1 514.9 L112.5 515.6 L112.8 516.4 L113.2 517.1 L113.6 517.9 L113.9 518.7 L114.3 519.4 L114.7 520.2 L115 520.9 L115.4 521.6 L115.7 522.3 L116 523 L116.3 523.7 L116.6 524.3 L116.9 525 L117.2 525.6 L117.5 526.3 L117.8 527 L118.1 527.6 L118.4 528.3 L118.7 529 L119 529.6 L119.3 530.3 L119.6 530.9 L119.9 531.6 L120.2 532.2 L120.5 532.9 L120.8 533.5 L121.1 534.2 L121.4 534.8 L121.7 535.4 L122 536 L122.4 536.7 L122.7 537.4 L123.1 538.1 L123.4 538.8 L123.8 539.5 L124.1 540.2 L124.5 540.9 L124.8 541.5 L125.2 542.2 L125.5 542.9 L125.9 543.5 L126.2 544.1 L126.6 544.8 L126.9 545.3 L127.3 545.9 L127.6 546.5 L128 547 L128.5 547.6 L128.9 548.3 L129.3 548.9 L129.7 549.5 L130.2 550 L130.6 550.6 L131 551.1 L131.5 551.7 L131.9 552 L132.5 552.6 L133 552.8 L133.6 553.4 L134.2 553.6 L134.8 554.1 L135.4 554.1 L136 554.8 L136.6 554.4 L137.3 555.3 L138 554.8 L138.7 555.6 L139.4 555 L140.2 556.3 L140.9 555.1 L141.7 556.5 L142.5 555.3 L143.3 556.7 L144.1 555.7 L145 557.3 L145.6 556 L146.2 557.3 L146.9 556.3 L147.5 557.6 L148.2 556.2 L148.8 557.6 L149.5 556.5 L150.2 558.1 L150.9 556.7 L151.6 558.3 L152.3 556.9 L153 558.4 L153.7 557.2 L154.5 558.5 L155.2 557.6 L156 558.9 L156.8 557.5 L157.6 558.8 L158.4 557.7 L159.2 559.1 L160 557.9 L160.6 559.1 L161.3 557.9 L161.9 559.3 L162.6 558 L163.2 559.3 L163.9 558.3 L164.5 559.3 L165.2 558.3 L165.9 559.5 L166.6 558.1 L167.3 559.7 L168 558.1 L168.7 559.7 L169.4 558.4 L170.1 559.8 L170.8 558.3 L171.5 559.5 L172.3 558.6 L173 559.5 L173.8 558.4 L174.5 559.7 L175.3 558.7 L176.1 559.9 L176.8 558.7 L177.6 559.8 L178.4 558.9 L179.2 560.1 L180 559 L180.6 560.1 L181.3 558.9 L182 560.3 L182.7 559.2 L183.4 560.4 L184.1 559.5 L184.8 560.6 L185.5 559.4 L186.2 560.6 L186.9 559.7 L187.7 561.1 L188.4 559.7 L189.1 561 L189.9 559.9 L190.6 561.4 L191.4 560.3 L192.1 561.3 L192.9 560.4 L193.6 561.7 L194.4 560.6 L195.1 561.9 L195.9 560.6 L196.6 562 L197.3 560.9 L198.1 562.3 L198.8 560.8 L199.5 562.3 L200.2 561.2 L200.9 562.5 L201.6 561.2 L202.3 562.5 L203 561.3 L203.7 562.6 L204.4 561.5 L205 562.6 L205.8 561.2 L206.6 562.8 L207.4 561.5 L208.2 562.9 L209 561.5 L209.8 562.9 L210.6 561.3 L211.4 562.7 L212.2 561.5 L213 562.5 L213.8 561.2 L214.5 562.4 L215.3 561.2 L216 562.8 L216.8 561.2 L217.5 562.3 L218.2 561 L218.9 562.5 L219.6 561 L220.3 562.2 L220.9 561 L221.6 562 L222.2 560.9 L222.8 561.9 L223.4 560.6 L223.9 561.4 L224.5 560.6 L225 561.3 L226 560.2 L226.8 560.6 L227.6 559.8 L228.3 560 L229 559.2 L229.5 559.2 L230.1 558.7 L230.6 558.4 L231.1 557.9 L231.5 557.5 L232 556.9 L232.4 556.4 L232.8 555.7 L233.3 555 L233.6 554.5 L233.9 554 L234.2 553.5 L234.4 553 L234.7 552.4 L234.9 551.8 L235.2 551.3 L235.4 550.6 L235.7 550 L235.9 549.4 L236.1 548.7 L236.3 548 L236.5 547.3 L236.7 546.6 L236.9 545.8 L237.1 545.1 L237.3 544.3 L237.5 543.5 L237.7 542.6 L237.9 541.8 L238.1 540.9 L238.3 540 L238.4 539.4 L238.5 538.9 L238.6 538.3 L238.8 537.7 L238.9 537.1 L239 536.5 L239.1 535.9 L239.2 535.3 L239.3 534.6 L239.4 534 L239.5 533.4 L239.6 532.7 L239.7 532.1 L239.8 531.4 L239.9 530.7 L240 530 L240.1 529.3 L240.2 528.6 L240.2 527.9 L240.3 527.2 L240.4 526.5 L240.5 525.8 L240.6 525.1 L240.7 524.3 L240.8 523.6 L240.9 522.8 L241 522.1 L241 521.3 L241.1 520.5 L241.2 519.8 L241.3 519 L241.4 518.2 L241.5 517.4 L241.5 516.6 L241.6 515.8 L241.7 515 L241.8 514.4 L241.8 513.7 L241.9 513.1 L241.9 512.4 L242 511.7 L242.1 511 L242.1 510.3 L242.2 509.6 L242.3 508.9 L242.3 508.2 L242.4 507.4 L242.4 506.7 L242.5 505.9 L242.5 505.2 L242.6 504.4 L242.7 503.7 L242.7 502.9 L242.8 502.1 L242.8 501.3 L242.9 500.6 L242.9 499.8 L243 499 L243.1 498.2 L243.1 497.5 L243.2 496.7 L243.2 495.9 L243.3 495.2 L243.3 494.4 L243.4 493.6 L243.4 492.9 L243.5 492.1 L243.5 491.4 L243.6 490.7 L243.6 490 L243.7 489.2 L243.7 488.5 L243.8 487.9 L243.8 487.2 L243.9 486.5 L243.9 485.9 L243.9 485.2 L244 484.6 L244 484 L244.1 483.4 L244.1 482.8 L244.2 482.2 L244.2 481.7 L244.3 480.7 L244.3 479.6 L244.4 478.6 L244.5 477.5 L244.5 476.5 L244.6 475.5 L244.7 474.5 L244.7 473.6 L244.8 472.6 L244.8 471.7 L244.9 470.9 L244.9 470.1 L245 469.3 L245 468.5 L245.1 467.9 L245.1 467.2 L245.1 466.7 L245.2 466.2 L245.2 465.7 L245.3 465.4 L245.3 465.1 L245.4 464.9 L245.4 464.7 L245.5 464.7 L245.6 464.7 L245.6 464.9 L245.7 465.1 L245.7 465.4 L245.8 465.7 L245.8 466.2 L245.9 466.7 L245.9 467.2 L246 467.9 L246 468.5 L246.1 469.3 L246.1 470.1 L246.2 470.9 L246.3 471.7 L246.3 472.6 L246.4 473.6 L246.4 474.5 L246.5 475.5 L246.6 476.5 L246.7 477.5 L246.7 478.6 L246.8 479.6 L246.9 480.7 L247 481.7 L247 482.2 L247.1 482.8 L247.1 483.4 L247.2 484 L247.3 484.6 L247.3 485.2 L247.4 485.8 L247.4 486.5 L247.5 487.1 L247.5 487.8 L247.6 488.4 L247.7 489.1 L247.7 489.8 L247.8 490.5 L247.8 491.2 L247.9 492 L248 492.7 L248 493.4 L248.1 494.2 L248.2 494.9 L248.2 495.6 L248.3 496.4 L248.4 497.2 L248.4 497.9 L248.5 498.7 L248.6 499.4 L248.6 500.2 L248.7 501 L248.8 501.7 L248.8 502.5 L248.9 503.3 L249 504.1 L249 504.8 L249.1 505.6 L249.2 506.3 L249.2 507.1 L249.3 507.8 L249.4 508.6 L249.5 509.3 L249.5 510.1 L249.6 510.8 L249.7 511.5 L249.7 512.2 L249.8 512.9 L249.9 513.6 L249.9 514.3 L250 515 L250.1 515.7 L250.1 516.5 L250.2 517.2 L250.3 518 L250.4 518.7 L250.4 519.5 L250.5 520.3 L250.6 521 L250.7 521.8 L250.8 522.6 L250.8 523.4 L250.9 524.1 L251 524.9 L251.1 525.7 L251.1 526.4 L251.2 527.2 L251.3 528 L251.4 528.7 L251.5 529.5 L251.5 530.2 L251.6 531 L251.7 531.7 L251.8 532.5 L251.8 533.2 L251.9 533.9 L252 534.6 L252.1 535.3 L252.2 536 L252.2 536.7 L252.3 537.4 L252.4 538.1 L252.5 538.7 L252.5 539.4 L252.6 540 L252.7 540.6 L252.8 541.2 L252.9 541.8 L252.9 542.4 L253 542.9 L253.1 543.5 L253.2 544 L253.2 544.5 L253.3 545 L253.5 546.3 L253.7 547.4 L253.9 548.6 L254.1 549.6 L254.3 550.6 L254.4 551.5 L254.6 552.3 L254.8 553 L255 553.7 L255.2 554.3 L255.4 554.9 L255.5 555.3 L255.7 555.7 L255.9 556.1 L256.1 556.3 L256.3 556.5 L256.6 556.6 L256.9 556.6 L257.3 556.3 L257.6 555.8 L257.9 555.2 L258.3 554.4 L258.6 553.5 L258.9 552.5 L259.2 551.3 L259.5 550 L259.6 549.5 L259.7 549.1 L259.8 548.6 L259.9 548.1 L260 547.6 L260.1 547.1 L260.2 546.7 L260.3 546.1 L260.4 545.6 L260.5 545.1 L260.6 544.5 L260.7 543.9 L260.8 543.3 L260.9 542.7 L261 542.1 L261.1 541.4 L261.2 540.7 L261.2 539.9 L261.3 539.1 L261.4 538.3 L261.5 537.4 L261.6 536.5 L261.6 535.6 L261.7 534.5 L261.8 533.5 L261.9 532.4 L261.9 531.2 L262 530 L262 529.5 L262 529 L262.1 528.5 L262.1 527.9 L262.1 527.4 L262.1 526.8 L262.2 526.2 L262.2 525.6 L262.2 525 L262.2 524.4 L262.3 523.7 L262.3 523.1 L262.3 522.4 L262.3 521.8 L262.3 521.1 L262.4 520.4 L262.4 519.7 L262.4 519 L262.4 518.3 L262.4 517.6 L262.5 516.9 L262.5 516.1 L262.5 515.4 L262.5 514.7 L262.5 513.9 L262.5 513.2 L262.6 512.4 L262.6 511.6 L262.6 510.9 L262.6 510.1 L262.6 509.3 L262.6 508.5 L262.7 507.7 L262.7 507 L262.7 506.2 L262.7 505.4 L262.7 504.6 L262.7 503.8 L262.7 503 L262.8 502.2 L262.8 501.4 L262.8 500.7 L262.8 499.9 L262.8 499.1 L262.8 498.3 L262.8 497.5 L262.8 496.7 L262.9 496 L262.9 495.2 L262.9 494.4 L262.9 493.7 L262.9 492.9 L262.9 492.2 L262.9 491.4 L262.9 490.7 L262.9 489.9 L263 489.2 L263 488.5 L263 487.8 L263 487.1 L263 486.4 L263 485.7 L263 485 L263 484.4 L263 483.7 L263.1 483.1 L263.1 482.4 L263.1 481.8 L263.1 481.2 L263.1 480.6 L263.1 480 L263.1 479.1 L263.1 478.2 L263.1 477.3 L263.2 476.3 L263.2 475.4 L263.2 474.4 L263.2 473.5 L263.2 472.5 L263.2 471.5 L263.2 470.6 L263.2 469.6 L263.2 468.6 L263.2 467.7 L263.2 466.7 L263.3 465.8 L263.3 464.8 L263.3 463.9 L263.3 463 L263.3 462.1 L263.3 461.2 L263.3 460.3 L263.3 459.4 L263.3 458.6 L263.3 457.8 L263.3 457 L263.3 456.2 L263.3 455.4 L263.3 454.7 L263.3 454 L263.3 453.3 L263.3 452.7 L263.3 452 L263.3 451.5 L263.3 450.9 L263.3 450.4 L263.3 449.9 L263.3 449.5 L263.4 449.1 L263.4 448.7 L263.4 448.4 L263.4 448.1 L263.4 447.9 L263.4 447.7 L263.4 447.6 L263.4 447.5 L263.4 447.5 L263.4 447.5 L263.4 447.6 L263.4 447.7 L263.4 447.9 L263.4 448.1 L263.4 448.4 L263.4 448.7 L263.5 449.1 L263.5 449.5 L263.5 449.9 L263.5 450.4 L263.5 450.9 L263.5 451.5 L263.5 452 L263.5 452.7 L263.5 453.3 L263.5 454 L263.5 454.7 L263.5 455.4 L263.5 456.2 L263.5 457 L263.5 457.8 L263.5 458.6 L263.6 459.4 L263.6 460.3 L263.6 461.2 L263.6 462.1 L263.6 463 L263.6 463.9 L263.6 464.8 L263.6 465.8 L263.6 466.7 L263.6 467.7 L263.6 468.6 L263.7 469.6 L263.7 470.6 L263.7 471.5 L263.7 472.5 L263.7 473.5 L263.7 474.4 L263.7 475.4 L263.7 476.3 L263.8 477.3 L263.8 478.2 L263.8 479.1 L263.8 480 L263.8 480.6 L263.8 481.2 L263.8 481.8 L263.8 482.4 L263.9 483 L263.9 483.7 L263.9 484.3 L263.9 485 L263.9 485.7 L263.9 486.3 L263.9 487 L263.9 487.7 L263.9 488.4 L263.9 489.1 L264 489.8 L264 490.5 L264 491.3 L264 492 L264 492.7 L264 493.5 L264 494.2 L264 495 L264 495.7 L264 496.5 L264.1 497.2 L264.1 498 L264.1 498.8 L264.1 499.5 L264.1 500.3 L264.1 501.1 L264.1 501.9 L264.1 502.6 L264.2 503.4 L264.2 504.2 L264.2 505 L264.2 505.7 L264.2 506.5 L264.2 507.3 L264.2 508.1 L264.3 508.8 L264.3 509.6 L264.3 510.4 L264.3 511.1 L264.3 511.9 L264.3 512.7 L264.3 513.4 L264.4 514.2 L264.4 514.9 L264.4 515.6 L264.4 516.4 L264.4 517.1 L264.5 517.8 L264.5 518.5 L264.5 519.3 L264.5 520 L264.5 520.7 L264.6 521.3 L264.6 522 L264.6 522.7 L264.6 523.4 L264.6 524 L264.7 524.7 L264.7 525.3 L264.7 525.9 L264.7 526.5 L264.8 527.1 L264.8 527.7 L264.8 528.3 L264.8 528.9 L264.9 529.5 L264.9 530 L265 531 L265 532 L265.1 532.9 L265.1 533.9 L265.2 534.8 L265.2 535.7 L265.3 536.6 L265.4 537.4 L265.4 538.3 L265.5 539.1 L265.6 539.9 L265.6 540.7 L265.7 541.5 L265.8 542.3 L265.8 543 L265.9 543.8 L266 544.5 L266.1 545.2 L266.1 545.9 L266.2 546.5 L266.3 547.2 L266.4 547.9 L266.5 548.5 L266.5 549.1 L266.6 549.7 L266.7 550.3 L266.8 550.9 L266.9 551.5 L267 552.1 L267.1 552.6 L267.2 553.2 L267.3 553.7 L267.4 554.3 L267.5 554.8 L267.6 555.3 L267.7 555.8 L267.8 556.3 L267.9 556.8 L268.2 557.9 L268.4 558.9 L268.7 559.9 L269 560.7 L269.3 561.5 L269.7 562.2 L270 562.9 L270.3 563.5 L270.7 564.1 L271 564.6 L271.4 565.2 L271.7 565.5 L272.1 566.1 L272.4 566.3 L272.8 567 L273.2 567.2 L273.8 568.1 L274.3 568.2 L274.7 568.9 L275.2 568.9 L275.7 569.4 L276.3 569.2 L276.9 569.9 L277.8 569.5 L278.8 570.5 L280 570 L280.5 571.2 L281 570 L281.5 571.7 L282.1 570.5 L282.7 572.1 L283.3 570.5 L283.9 572.6 L284.6 571.3 L285.2 572.8 L285.9 571.3 L286.6 573.6 L287.3 571.4 L288.1 573.8 L288.8 572.1 L289.5 574.8 L290.3 572.7 L291.1 574.7 L291.8 572.7 L292.6 575.3 L293.4 573.5 L294.1 575.8 L294.9 573.4 L295.6 576.4 L296.4 574.3 L297.1 576.4 L297.9 574 L298.6 577.3 L299.3 574.9 L300 577.9 L300.7 575.4 L301.4 577.8 L302.1 574.9 L302.8 578.5 L303.4 575.8 L304.1 579 L304.8 575.7 L305.5 579.3 L306.2 575.7 L306.9 579.2 L307.6 576.2 L308.3 579.6 L309 576.2 L309.7 580.2 L310.3 576.6 L311 580.6 L311.7 576.6 L312.4 580.2 L313.1 577.7 L313.8 581.1 L314.5 577.4 L315.2 581.1 L315.9 578 L316.6 581.3 L317.2 577.8 L317.9 582 L318.6 578.4 L319.3 581.5 L320 578.4 L320.7 582.3 L321.4 579.5 L322.1 582.5 L322.8 579.2 L323.5 582.5 L324.2 580.2 L324.9 583.2 L325.6 579.7 L326.2 584.1 L326.9 579.9 L327.6 584.2 L328.3 580.7 L329 584.6 L329.7 581.1 L330.4 585 L331.1 581.1 L331.8 585.9 L332.5 581.9 L333.2 585.9 L333.9 582.4 L334.6 585.8 L335.3 582.5 L335.9 586.5 L336.6 582.7 L337.3 587.4 L338 583.5 L338.7 587.2 L339.3 582.7 L340 587.7 L340.7 583.5 L341.4 587.5 L342.2 583.9 L342.9 588.6 L343.6 583.5 L344.4 588.5 L345.1 583.7 L345.8 589.1 L346.5 583.9 L347.3 588.6 L348 584.7 L348.7 589.4 L349.4 585 L350.1 589.5 L350.8 585 L351.5 589.2 L352.2 585.2 L352.9 589 L353.6 585.5 L354.3 589.7 L355 586.2 L355.6 589.5 L356.3 586 L356.9 590.6 L357.6 585.8 L358.2 589.9 L358.8 585.4 L359.6 590.1 L360.4 586.3 L361.2 591.1 L362 586.4 L362.8 591 L363.6 586.6 L364.3 591.5 L365.1 587.1 L365.8 591.8 L366.6 587 L367.3 592.5 L368 588.5 L368.6 591.9 L369.3 587.7 L369.9 591.8 L370.6 589.3 L371.1 591.4 L371.7 589.2 L372.3 591.2 L372.8 589.4 L373.4 590.2 L374 589 L374.5 589.2 L375 588.5 L375.5 588.4 L375.9 587.6 L376.3 587.3 L376.7 586.6 L377 586.1 L377.4 585.3 L377.7 584.7 L378.1 583.9 L378.4 583.2 L378.7 582.4 L379.1 581.6 L379.4 580.7 L379.6 580.2 L379.8 579.6 L380 579.1 L380.2 578.5 L380.4 577.9 L380.6 577.4 L380.8 576.8 L381 576.1 L381.2 575.5 L381.4 574.9 L381.5 574.2 L381.7 573.6 L381.9 572.9 L382.1 572.2 L382.2 571.5 L382.4 570.8 L382.6 570 L382.7 569.3 L382.9 568.5 L383.1 567.8 L383.2 567 L383.4 566.2 L383.5 565.4 L383.7 564.5 L383.8 563.7 L384 562.9 L384.1 562 L384.2 561.4 L384.3 560.8 L384.4 560.2 L384.5 559.6 L384.5 559 L384.6 558.3 L384.7 557.7 L384.8 557 L384.9 556.4 L384.9 555.7 L385 555 L385.1 554.4 L385.2 553.7 L385.2 553 L385.3 552.3 L385.4 551.6 L385.4 550.9 L385.5 550.2 L385.6 549.4 L385.7 548.7 L385.7 548 L385.8 547.3 L385.8 546.5 L385.9 545.8 L386 545.1 L386 544.3 L386.1 543.6 L386.2 542.8 L386.2 542.1 L386.3 541.3 L386.3 540.6 L386.4 539.8 L386.5 539.1 L386.5 538.3 L386.6 537.6 L386.6 536.8 L386.7 536.1 L386.8 535.3 L386.8 534.6 L386.9 533.8 L387 533.1 L387 532.5 L387.1 531.8 L387.1 531.1 L387.2 530.4 L387.2 529.7 L387.3 529 L387.3 528.3 L387.4 527.7 L387.5 527 L387.5 526.3 L387.6 525.6 L387.6 524.8 L387.7 524.1 L387.7 523.4 L387.8 522.7 L387.8 522 L387.9 521.3 L387.9 520.6 L388 519.9 L388 519.1 L388.1 518.4 L388.1 517.7 L388.2 517 L388.2 516.3 L388.3 515.5 L388.3 514.8 L388.4 514.1 L388.4 513.4 L388.5 512.6 L388.5 511.9 L388.6 511.2 L388.6 510.5 L388.7 509.8 L388.7 509 L388.8 508.3 L388.8 507.6 L388.9 506.9 L388.9 506.2 L389 505.5 L389 504.7 L389.1 504 L389.1 503.3 L389.2 502.6 L389.2 501.9 L389.2 501.2 L389.3 500.4 L389.3 499.7 L389.4 498.9 L389.4 498 L389.5 497.2 L389.5 496.3 L389.6 495.4 L389.6 494.5 L389.6 493.6 L389.7 492.7 L389.7 491.8 L389.8 490.9 L389.8 489.9 L389.9 489 L389.9 488.1 L389.9 487.1 L390 486.2 L390 485.3 L390.1 484.4 L390.1 483.5 L390.1 482.6 L390.2 481.7 L390.2 480.8 L390.3 480 L390.3 479.2 L390.3 478.4 L390.4 477.6 L390.4 476.9 L390.4 476.1 L390.5 475.5 L390.5 474.8 L390.6 474.2 L390.6 473.6 L390.6 473.1 L390.7 472.6 L390.7 472.1 L390.7 471.7 L390.8 471.3 L390.8 471 L390.9 470.8 L390.9 470.6 L390.9 470.4 L391 470.3 L391 470.3 L391 470.3 L391.1 470.4 L391.1 470.6 L391.1 470.8 L391.2 471.1 L391.2 471.4 L391.2 471.8 L391.3 472.2 L391.3 472.7 L391.3 473.2 L391.3 473.8 L391.4 474.4 L391.4 475.1 L391.4 475.8 L391.4 476.5 L391.5 477.2 L391.5 478 L391.5 478.8 L391.5 479.7 L391.6 480.5 L391.6 481.4 L391.6 482.3 L391.6 483.2 L391.7 484.1 L391.7 485 L391.7 485.9 L391.8 486.9 L391.8 487.8 L391.8 488.8 L391.8 489.7 L391.9 490.6 L391.9 491.6 L391.9 492.5 L392 493.4 L392 494.3 L392 495.2 L392.1 496 L392.1 496.8 L392.1 497.7 L392.2 498.4 L392.2 499.2 L392.3 499.9 L392.3 500.6 L392.4 501.3 L392.4 501.9 L392.5 502.7 L392.5 503.6 L392.6 504.4 L392.7 505.2 L392.8 505.9 L392.9 506.7 L392.9 507.5 L393 508.2 L393.1 508.9 L393.2 509.7 L393.3 510.4 L393.4 511.1 L393.5 511.8 L393.6 512.5 L393.7 513.2 L393.8 513.8 L393.9 514.5 L394 515.2 L394 515.8 L394.1 516.5 L394.2 517.2 L394.3 517.8 L394.4 518.5 L394.5 519.1 L394.6 519.8 L394.7 520.4 L394.8 521.1 L394.9 521.7 L395 522.4 L395.1 523.1 L395.2 523.7 L395.3 524.4 L395.4 525.1 L395.5 525.9 L395.6 526.6 L395.7 527.3 L395.8 528 L395.9 528.7 L396 529.4 L396.1 530.1 L396.2 530.7 L396.3 531.4 L396.4 532.1 L396.5 532.8 L396.6 533.4 L396.7 534.1 L396.8 534.8 L396.9 535.5 L397 536.2 L397.1 536.9 L397.2 537.5 L397.3 538.2 L397.4 539 L397.5 539.7 L397.6 540.4 L397.7 541.1 L397.8 541.9 L397.9 542.6 L398 543.4 L398.1 544.2 L398.2 545 L398.3 545.6 L398.4 546.3 L398.4 547 L398.5 547.6 L398.6 548.3 L398.7 549 L398.7 549.8 L398.8 550.5 L398.9 551.2 L399 551.9 L399 552.7 L399.1 553.4 L399.2 554.2 L399.3 555 L399.3 555.7 L399.4 556.5 L399.5 557.2 L399.6 558 L399.6 558.8 L399.7 559.5 L399.8 560.3 L399.9 561 L399.9 561.8 L400 562.5 L400.1 563.3 L400.2 564 L400.2 564.7 L400.3 565.4 L400.4 566.1 L400.5 566.8 L400.5 567.5 L400.6 568.2 L400.7 568.8 L400.8 569.5 L400.8 570.1 L400.9 570.7 L401 571.3 L401.1 572.2 L401.2 573.1 L401.3 574 L401.4 574.8 L401.5 575.7 L401.6 576.5 L401.7 577.3 L401.8 578.1 L401.8 578.9 L401.9 579.7 L402 580.4 L402.1 581.2 L402.2 581.9 L402.3 582.6 L402.4 583.2 L402.5 583.9 L402.6 584.5 L402.8 585.1 L402.9 585.7 L403.1 586.3 L403.2 586.8 L403.4 587.3 L403.6 587.8 L403.8 588.2 L404.2 589 L404.7 589.6 L405.3 590.1 L405.8 590.4 L406.4 590.7 L407 590.8 L407.7 591.2 L408.4 590.9 L409.1 591.9 L409.8 590.8 L410.5 592.3 L411.3 591 L411.9 593.5 L412.5 591.3 L413.1 594.2 L413.8 591.9 L414.5 594.8 L415.3 593 L416 595.7 L416.7 593.4 L417.5 596.6 L418.2 593.8 L418.9 597.3 L419.6 594.6 L420.3 598.1 L420.9 594.9 L421.5 599.3 L422 594.4 L422.5 597.4 L423.1 596.4 L423.7 596.9 L424.2 596.8 L424.6 597 L425 596.8 L425.3 596.6 L425.6 596.1 L425.8 595.3 L426 594 L426.3 592.3 L426.5 590 L426.5 589.6 L426.6 589.2 L426.6 588.8 L426.6 588.3 L426.7 587.9 L426.7 587.4 L426.7 587 L426.8 586.5 L426.8 586.1 L426.8 585.6 L426.8 585.1 L426.9 584.6 L426.9 584.1 L426.9 583.6 L426.9 583 L427 582.5 L427 582 L427 581.4 L427 580.8 L427 580.3 L427.1 579.7 L427.1 579.1 L427.1 578.5 L427.1 577.9 L427.1 577.3 L427.1 576.7 L427.2 576.1 L427.2 575.4 L427.2 574.8 L427.2 574.1 L427.2 573.5 L427.2 572.8 L427.2 572.1 L427.2 571.4 L427.3 570.7 L427.3 570 L427.3 569.3 L427.3 568.6 L427.3 567.8 L427.3 567.1 L427.3 566.4 L427.3 565.6 L427.3 564.8 L427.3 564.1 L427.4 563.3 L427.4 562.5 L427.4 561.7 L427.4 560.9 L427.4 560.1 L427.4 559.2 L427.4 558.4 L427.4 557.6 L427.4 556.7 L427.4 555.9 L427.4 555 L427.5 554.1 L427.5 553.2 L427.5 552.3 L427.5 551.4 L427.5 550.5 L427.5 549.6 L427.5 548.7 L427.5 547.8 L427.5 546.8 L427.5 545.9 L427.5 544.9 L427.6 543.9 L427.6 543 L427.6 542 L427.6 541 L427.6 540 L427.6 539.5 L427.6 538.9 L427.6 538.3 L427.6 537.7 L427.6 537.1 L427.6 536.5 L427.6 535.9 L427.6 535.2 L427.7 534.6 L427.7 533.9 L427.7 533.2 L427.7 532.5 L427.7 531.8 L427.7 531.1 L427.7 530.3 L427.7 529.6 L427.7 528.8 L427.7 528.1 L427.7 527.3 L427.7 526.5 L427.7 525.7 L427.7 524.9 L427.7 524.1 L427.7 523.3 L427.7 522.4 L427.7 521.6 L427.8 520.8 L427.8 519.9 L427.8 519 L427.8 518.2 L427.8 517.3 L427.8 516.4 L427.8 515.5 L427.8 514.6 L427.8 513.7 L427.8 512.8 L427.8 511.9 L427.8 511 L427.8 510.1 L427.8 509.2 L427.8 508.3 L427.8 507.3 L427.8 506.4 L427.8 505.5 L427.8 504.5 L427.8 503.6 L427.9 502.7 L427.9 501.7 L427.9 500.8 L427.9 499.8 L427.9 498.9 L427.9 497.9 L427.9 497 L427.9 496 L427.9 495.1 L427.9 494.2 L427.9 493.2 L427.9 492.3 L427.9 491.3 L427.9 490.4 L427.9 489.5 L427.9 488.5 L427.9 487.6 L427.9 486.7 L427.9 485.8 L427.9 484.8 L427.9 483.9 L427.9 483 L427.9 482.1 L427.9 481.2 L428 480.3 L428 479.4 L428 478.5 L428 477.7 L428 476.8 L428 475.9 L428 475.1 L428 474.2 L428 473.4 L428 472.6 L428 471.7 L428 470.9 L428 470.1 L428 469.3 L428 468.5 L428 467.7 L428 467 L428 466.2 L428 465.5 L428 464.7 L428 464 L428 463.3 L428 462.6 L428 461.9 L428 461.2 L428 460.5 L428.1 459.9 L428.1 459.2 L428.1 458.6 L428.1 458 L428.1 457.4 L428.1 456.8 L428.1 456.2 L428.1 455.7 L428.1 455.2 L428.1 454.6 L428.1 454.1 L428.1 453.6 L428.1 453.2 L428.1 452.7 L428.1 452.3 L428.1 451.8 L428.1 451.4 L428.1 451 L428.1 450.7 L428.1 450.3 L428.1 450 L428.1 449.7 L428.1 449.4 L428.1 449.1 L428.2 448.9 L428.2 448.6 L428.2 448.4 L428.2 448.2 L428.2 448.1 L428.2 447.9 L428.2 447.8 L428.2 447.7 L428.2 447.6 L428.2 447.5 L428.2 447.5 L428.2 447.5 L428.2 447.5 L428.2 447.5 L428.2 447.6 L428.2 447.7 L428.2 447.8 L428.2 447.9 L428.2 448.1 L428.2 448.2 L428.2 448.4 L428.2 448.6 L428.2 448.8 L428.3 449.1 L428.3 449.4 L428.3 449.6 L428.3 449.9 L428.3 450.3 L428.3 450.6 L428.3 451 L428.3 451.4 L428.3 451.8 L428.3 452.2 L428.3 452.6 L428.3 453.1 L428.3 453.5 L428.3 454 L428.3 454.5 L428.3 455 L428.3 455.5 L428.3 456.1 L428.3 456.6 L428.3 457.2 L428.3 457.8 L428.3 458.4 L428.3 459 L428.3 459.7 L428.3 460.3 L428.4 461 L428.4 461.6 L428.4 462.3 L428.4 463 L428.4 463.7 L428.4 464.4 L428.4 465.2 L428.4 465.9 L428.4 466.6 L428.4 467.4 L428.4 468.2 L428.4 468.9 L428.4 469.7 L428.4 470.5 L428.4 471.3 L428.4 472.2 L428.4 473 L428.4 473.8 L428.4 474.6 L428.4 475.5 L428.4 476.3 L428.4 477.2 L428.4 478.1 L428.4 479 L428.4 479.8 L428.4 480.7 L428.5 481.6 L428.5 482.5 L428.5 483.4 L428.5 484.3 L428.5 485.2 L428.5 486.1 L428.5 487.1 L428.5 488 L428.5 488.9 L428.5 489.8 L428.5 490.8 L428.5 491.7 L428.5 492.6 L428.5 493.6 L428.5 494.5 L428.5 495.4 L428.5 496.4 L428.5 497.3 L428.5 498.3 L428.5 499.2 L428.5 500.1 L428.5 501.1 L428.5 502 L428.5 503 L428.6 503.9 L428.6 504.8 L428.6 505.8 L428.6 506.7 L428.6 507.6 L428.6 508.6 L428.6 509.5 L428.6 510.4 L428.6 511.3 L428.6 512.2 L428.6 513.1 L428.6 514 L428.6 514.9 L428.6 515.8 L428.6 516.7 L428.6 517.6 L428.6 518.5 L428.6 519.3 L428.6 520.2 L428.6 521.1 L428.6 521.9 L428.7 522.7 L428.7 523.6 L428.7 524.4 L428.7 525.2 L428.7 526 L428.7 526.8 L428.7 527.6 L428.7 528.4 L428.7 529.2 L428.7 529.9 L428.7 530.7 L428.7 531.4 L428.7 532.2 L428.7 532.9 L428.7 533.6 L428.7 534.3 L428.7 535 L428.8 535.7 L428.8 536.3 L428.8 537 L428.8 537.6 L428.8 538.2 L428.8 538.8 L428.8 539.4 L428.8 540 L428.8 540.9 L428.8 541.8 L428.8 542.7 L428.8 543.6 L428.8 544.5 L428.8 545.4 L428.8 546.3 L428.8 547.2 L428.8 548.1 L428.8 549 L428.8 549.9 L428.8 550.7 L428.8 551.6 L428.8 552.5 L428.7 553.4 L428.7 554.2 L428.7 555.1 L428.7 555.9 L428.7 556.8 L428.7 557.6 L428.6 558.5 L428.6 559.3 L428.6 560.2 L428.6 561 L428.6 561.8 L428.5 562.7 L428.5 563.5 L428.5 564.3 L428.5 565.1 L428.5 565.9 L428.4 566.7 L428.4 567.5 L428.4 568.3 L428.4 569.1 L428.4 569.8 L428.3 570.6 L428.3 571.4 L428.3 572.1 L428.3 572.9 L428.3 573.6 L428.3 574.4 L428.3 575.1 L428.2 575.8 L428.2 576.6 L428.2 577.3 L428.2 578 L428.2 578.7 L428.2 579.4 L428.2 580.1 L428.2 580.7 L428.2 581.4 L428.2 582.1 L428.2 582.7 L428.3 583.4 L428.3 584 L428.3 584.7 L428.3 585.3 L428.3 585.9 L428.3 586.5 L428.4 587.1 L428.4 587.7 L428.4 588.3 L428.5 588.9 L428.5 589.5 L428.6 590 L428.6 590.6 L428.7 591.1 L428.7 591.7 L428.8 592.2 L428.8 592.7 L428.9 593.2 L429 593.7 L429 594.2 L429.1 594.7 L429.2 595.1 L429.3 595.6 L429.4 596 L429.5 596.5 L429.6 596.9 L429.7 597.4 L429.8 597.7 L429.9 598.2 L430 598.4 L430.4 599.7 L430.8 600.5 L431.3 601.5 L431.8 602 L432.3 602.9 L432.8 602.9 L433.4 603.9 L434 603.4 L434.6 605 L435.3 603.3 L435.9 605.7 L436.6 602.7 L437.4 607.3 L438.1 600.5 L438.8 608.5 L439.6 600.1 L440.4 606.6 L441.2 601 L442 608 L442.8 598.7 L443.7 607.1 L444.5 598.3 L445.4 608 L446.2 598.5 L447.1 606.5 L447.9 599.3 L448.8 606.7 L449.4 599.6 L450 607.3 L450.6 600.8 L451.3 606.6 L451.9 600.6 L452.6 608 L453.2 598.9 L453.9 608.7 L454.6 601 L455.3 608.2 L456 599.9 L456.7 607.6 L457.4 601.6 L458.2 609.2 L458.9 601.3 L459.6 609.5 L460.4 601.6 L461.1 610.4 L461.9 601.4 L462.6 609.4 L463.4 600.9 L464.1 611 L464.9 599.9 L465.6 611.1 L466.4 600.8 L467.1 609 L467.9 602.4 L468.6 610.6 L469.3 600.1 L470.1 611.4 L470.8 602.7 L471.5 610.5 L472.2 600.4 L472.9 611.2 L473.6 600.8 L474.3 612.5 L474.9 601.2 L475.6 611.9 L476.3 601.7 L476.9 611.2 L477.7 603.5 L478.5 613.4 L479.3 604 L480 611.4 L480.8 602.3 L481.6 613.8 L482.3 603.8 L483.1 611.7 L483.8 601.9 L484.6 612.1 L485.3 603.5 L486.1 612.4 L486.8 604.8 L487.5 614.4 L488.3 602.9 L489 611.6 L489.7 604.9 L490.4 612.1 L491.1 604.2 L491.8 614.7 L492.4 605 L493.1 612.7 L493.8 604.5 L494.4 613.7 L495.1 602.7 L495.7 613.8 L496.4 602.7 L497 613.9 L497.6 604.3 L498.2 614.9 L498.8 603.9 L499.4 613.6 L500.3 604.1 L501.1 613 L502 604.3 L502.8 611.9 L503.6 604.9 L504.4 613.7 L505.2 605 L505.9 611.8 L506.6 604.7 L507.4 611.9 L508.1 604.8 L508.8 611.5 L509.4 602.9 L510.1 612 L510.7 601.8 L511.4 609.9 L512 602.3 L512.6 609.7 L513.2 602.9 L513.8 610.1 L514.4 601.6 L515.2 609.6 L516 601 L516.7 607.4 L517.4 602.1 L518.1 607.6 L518.8 602.2 L519.5 606 L520.1 601.1 L520.7 605.9 L521.3 601.4 L521.8 603.9 L522.3 601.1 L522.9 603.2 L523.3 600.8 L523.8 602.1 L524.5 600.2 L525.1 600.7 L525.6 599.4 L526.1 599.5 L526.5 598.4 L526.9 598.3 L527.2 597.3 L527.6 597 L528 595.8 L528.3 595.6 L528.5 594.9 L528.8 594.5 L529 593.9 L529.3 593.5 L529.5 592.9 L529.7 592.4 L530 591.7 L530.2 591 L530.4 590.3 L530.6 589.4 L530.9 588.5 L531.1 587.5 L531.3 586.3 L531.4 585.8 L531.5 585.3 L531.6 584.7 L531.7 584.2 L531.7 583.6 L531.8 583.1 L531.9 582.5 L532 581.9 L532.1 581.3 L532.2 580.6 L532.3 580 L532.4 579.3 L532.5 578.7 L532.5 578 L532.6 577.3 L532.7 576.6 L532.8 575.9 L532.9 575.2 L533 574.4 L533 573.7 L533.1 572.9 L533.2 572.1 L533.3 571.4 L533.4 570.6 L533.4 569.8 L533.5 568.9 L533.6 568.1 L533.7 567.3 L533.7 566.4 L533.8 565.6 L533.9 564.7 L534 563.8 L534 562.9 L534.1 562 L534.1 561.4 L534.2 560.8 L534.2 560.2 L534.3 559.5 L534.3 558.8 L534.4 558.2 L534.4 557.5 L534.4 556.8 L534.5 556 L534.5 555.3 L534.6 554.5 L534.6 553.8 L534.6 553 L534.7 552.2 L534.7 551.4 L534.7 550.7 L534.8 549.9 L534.8 549 L534.9 548.2 L534.9 547.4 L534.9 546.6 L535 545.8 L535 545 L535 544.2 L535.1 543.3 L535.1 542.5 L535.1 541.7 L535.2 540.9 L535.2 540.1 L535.2 539.3 L535.3 538.5 L535.3 537.7 L535.3 536.9 L535.4 536.2 L535.4 535.4 L535.4 534.7 L535.4 533.9 L535.5 533.2 L535.5 532.5 L535.5 531.8 L535.6 531.1 L535.6 530.4 L535.6 529.8 L535.7 529.1 L535.7 528.5 L535.7 527.9 L535.7 527.4 L535.8 526.8 L535.8 526.3 L535.8 525.8 L535.8 525.3 L535.9 524.8 L535.9 524.4 L536 522.1 L536.2 520 L536.3 518.3 L536.4 516.9 L536.5 516 L536.6 515.6 L536.7 515.6 L536.8 516.3 L536.9 517.5 L536.9 517.8 L536.9 518.1 L537 518.5 L537 518.9 L537 519.4 L537 519.8 L537.1 520.3 L537.1 520.9 L537.1 521.4 L537.1 522 L537.1 522.7 L537.2 523.3 L537.2 524 L537.2 524.6 L537.2 525.3 L537.3 526.1 L537.3 526.8 L537.3 527.6 L537.3 528.3 L537.3 529.1 L537.4 529.9 L537.4 530.7 L537.4 531.6 L537.4 532.4 L537.5 533.2 L537.5 534.1 L537.5 534.9 L537.5 535.8 L537.6 536.6 L537.6 537.5 L537.6 538.3 L537.6 539.2 L537.7 540 L537.7 540.8 L537.7 541.7 L537.7 542.5 L537.8 543.3 L537.8 544.1 L537.8 544.9 L537.9 545.7 L537.9 546.5 L537.9 547.2 L538 548 L538 548.7 L538 549.4 L538.1 550.1 L538.1 550.8 L538.1 551.4 L538.2 552 L538.2 552.6 L538.3 553.5 L538.3 554.4 L538.4 555.3 L538.4 556.1 L538.5 557 L538.6 557.9 L538.6 558.7 L538.7 559.5 L538.8 560.4 L538.9 561.2 L538.9 562 L539 562.7 L539.1 563.5 L539.1 564.3 L539.2 565 L539.3 565.8 L539.4 566.5 L539.5 567.2 L539.5 567.9 L539.6 568.5 L539.7 569.2 L539.8 569.8 L539.9 570.4 L539.9 571 L540 571.6 L540.1 572.1 L540.2 572.7 L540.3 573.2 L540.4 573.7 L540.4 574.1 L540.5 574.6 L540.6 575 L541 576.6 L541.5 577.2 L542 577.4 L542.5 577.4 L543 577.7 L543.5 578.8 L543.6 579.3 L543.8 579.8 L543.9 580.3 L544.1 580.9 L544.2 581.6 L544.4 582.2 L544.5 582.9 L544.7 583.7 L544.8 584.4 L545 585.2 L545.1 586 L545.3 586.7 L545.4 587.5 L545.6 588.3 L545.8 589.1 L546 589.8 L546.1 590.5 L546.3 591.3 L546.5 591.9 L546.8 592.6 L547 593.2 L547.2 593.8 L547.5 594.6 L547.8 595.3 L548.2 596 L548.5 596.7 L548.8 597.4 L549.2 597.9 L549.5 598.7 L549.9 599 L550.3 600 L550.7 600.1 L551.2 601.1 L551.6 601 L552.1 602.4 L552.6 601.7 L553.2 603.7 L553.8 601.9 L554.3 605.2 L554.9 602.6 L555.5 605.7 L556.1 601.5 L556.8 606.9 L557.5 601.4 L558.1 607.7 L558.9 602.3 L559.6 608.5 L560.3 603.5 L561.1 609.6 L561.8 602 L562.5 611.2 L563.3 603.2 L564 610.1 L564.8 603.1 L565.5 610.5 L566.2 603.4 L566.9 611.3 L567.6 602.8 L568.2 612 L568.9 603.9 L569.6 610.4 L570.3 602.6 L571.1 608.8 L571.8 602.9 L572.5 608.1 L573.2 601.5 L573.9 607.7 L574.6 602.8 L575.3 606.9 L576 601.7 L576.6 606.4 L577.2 601.1 L577.9 604.3 L578.4 600.7 L579 603 L579.5 600.5 L580 601.9 L580.5 599.9 L581 600.9 L581.4 599.1 L581.8 599.9 L582.2 598.3 L582.5 598.5 L582.9 597.4 L583.2 597.3 L583.5 596.2 L583.7 596.1 L584 595 L584.3 594.7 L584.5 593.7 L584.7 593.2 L585 592.3 L585.2 591.7 L585.5 590.7 L585.7 590.1 L585.9 589.4 L586 589 L586.2 588.3 L586.3 587.8 L586.5 587.2 L586.6 586.7 L586.8 586.1 L586.9 585.6 L587 585 L587.1 584.4 L587.3 583.8 L587.4 583.2 L587.5 582.6 L587.6 582 L587.7 581.3 L587.8 580.6 L588 579.9 L588.1 579.2 L588.2 578.4 L588.3 577.7 L588.4 576.9 L588.5 576 L588.6 575.2 L588.7 574.2 L588.8 573.3 L588.9 572.3 L589 571.3 L589.1 570.8 L589.1 570.2 L589.2 569.7 L589.2 569.1 L589.3 568.5 L589.3 567.9 L589.4 567.3 L589.4 566.7 L589.5 566.1 L589.5 565.5 L589.6 564.8 L589.6 564.2 L589.7 563.6 L589.7 562.9 L589.7 562.2 L589.8 561.6 L589.8 560.9 L589.9 560.2 L589.9 559.5 L590 558.8 L590 558.1 L590.1 557.4 L590.1 556.7 L590.2 555.9 L590.2 555.2 L590.2 554.5 L590.3 553.7 L590.3 553 L590.4 552.3 L590.4 551.5 L590.5 550.8 L590.5 550 L590.5 549.2 L590.6 548.5 L590.6 547.7 L590.7 547 L590.7 546.2 L590.7 545.4 L590.8 544.6 L590.8 543.9 L590.9 543.1 L590.9 542.3 L590.9 541.5 L591 540.8 L591 540 L591 539.2 L591.1 538.4 L591.1 537.7 L591.2 536.9 L591.2 536.1 L591.2 535.3 L591.3 534.6 L591.3 533.8 L591.3 533.1 L591.4 532.5 L591.4 531.8 L591.4 531.1 L591.5 530.5 L591.5 529.8 L591.5 529.1 L591.5 528.4 L591.6 527.8 L591.6 527.1 L591.6 526.4 L591.7 525.7 L591.7 525 L591.7 524.3 L591.7 523.6 L591.8 522.9 L591.8 522.2 L591.8 521.5 L591.9 520.8 L591.9 520.1 L591.9 519.4 L591.9 518.7 L592 518 L592 517.2 L592 516.5 L592 515.8 L592.1 515.1 L592.1 514.4 L592.1 513.7 L592.1 512.9 L592.2 512.2 L592.2 511.5 L592.2 510.8 L592.2 510 L592.3 509.3 L592.3 508.6 L592.3 507.9 L592.3 507.1 L592.4 506.4 L592.4 505.7 L592.4 505 L592.4 504.3 L592.4 503.5 L592.5 502.8 L592.5 502.1 L592.5 501.4 L592.5 500.6 L592.6 499.9 L592.6 499.2 L592.6 498.5 L592.6 497.8 L592.6 497.1 L592.6 496.3 L592.7 495.6 L592.7 494.9 L592.7 494.2 L592.7 493.5 L592.7 492.8 L592.8 492.1 L592.8 491.4 L592.8 490.7 L592.8 490 L592.8 489.3 L592.8 488.5 L592.8 487.7 L592.9 487 L592.9 486.1 L592.9 485.3 L592.9 484.5 L592.9 483.6 L592.9 482.7 L592.9 481.9 L592.9 481 L592.9 480.1 L593 479.1 L593 478.2 L593 477.3 L593 476.4 L593 475.4 L593 474.5 L593 473.5 L593 472.6 L593 471.6 L593 470.7 L593 469.8 L593 468.8 L593 467.9 L593 467 L593 466.1 L593.1 465.1 L593.1 464.2 L593.1 463.4 L593.1 462.5 L593.1 461.6 L593.1 460.8 L593.1 459.9 L593.1 459.1 L593.1 458.3 L593.1 457.5 L593.1 456.8 L593.1 456 L593.1 455.3 L593.1 454.6 L593.1 454 L593.1 453.3 L593.1 452.7 L593.1 452.1 L593.1 451.6 L593.1 451 L593.1 450.5 L593.1 450.1 L593.1 449.6 L593.1 449.3 L593.2 448.9 L593.2 448.6 L593.2 448.3 L593.2 448.1 L593.2 447.9 L593.2 447.7 L593.2 447.6 L593.2 447.5 L593.2 447.5 L593.2 447.5 L593.2 447.6 L593.2 447.7 L593.2 447.8 L593.2 448 L593.2 448.3 L593.3 448.5 L593.3 448.9 L593.3 449.2 L593.3 449.6 L593.3 450 L593.3 450.4 L593.3 450.9 L593.3 451.4 L593.3 452 L593.3 452.5 L593.3 453.1 L593.3 453.8 L593.3 454.4 L593.3 455.1 L593.4 455.8 L593.4 456.5 L593.4 457.3 L593.4 458 L593.4 458.8 L593.4 459.6 L593.4 460.4 L593.4 461.3 L593.4 462.1 L593.4 463 L593.4 463.8 L593.4 464.7 L593.4 465.6 L593.5 466.5 L593.5 467.5 L593.5 468.4 L593.5 469.3 L593.5 470.2 L593.5 471.2 L593.5 472.1 L593.5 473.1 L593.5 474 L593.5 475 L593.5 475.9 L593.5 476.9 L593.6 477.8 L593.6 478.7 L593.6 479.7 L593.6 480.6 L593.6 481.5 L593.6 482.4 L593.6 483.3 L593.6 484.2 L593.6 485.1 L593.6 485.9 L593.7 486.8 L593.7 487.6 L593.7 488.4 L593.7 489.2 L593.7 490 L593.7 490.7 L593.7 491.3 L593.7 492 L593.7 492.7 L593.8 493.3 L593.8 494 L593.8 494.7 L593.8 495.4 L593.8 496.1 L593.8 496.8 L593.8 497.5 L593.8 498.2 L593.8 499 L593.9 499.7 L593.9 500.4 L593.9 501.1 L593.9 501.9 L593.9 502.6 L593.9 503.3 L593.9 504.1 L593.9 504.8 L593.9 505.6 L594 506.3 L594 507.1 L594 507.8 L594 508.6 L594 509.3 L594 510.1 L594 510.8 L594.1 511.6 L594.1 512.3 L594.1 513.1 L594.1 513.8 L594.1 514.6 L594.1 515.3 L594.1 516.1 L594.1 516.8 L594.2 517.6 L594.2 518.3 L594.2 519.1 L594.2 519.8 L594.2 520.5 L594.2 521.3 L594.2 522 L594.3 522.7 L594.3 523.5 L594.3 524.2 L594.3 524.9 L594.3 525.6 L594.3 526.4 L594.3 527.1 L594.3 527.8 L594.4 528.5 L594.4 529.2 L594.4 529.8 L594.4 530.5 L594.4 531.2 L594.4 531.9 L594.4 532.6 L594.5 533.2 L594.5 533.9 L594.5 534.5 L594.5 535.2 L594.5 535.8 L594.5 536.4 L594.5 537 L594.5 537.6 L594.6 538.2 L594.6 538.8 L594.6 539.4 L594.6 540 L594.6 540.9 L594.6 541.8 L594.7 542.7 L594.7 543.6 L594.7 544.5 L594.7 545.3 L594.7 546.2 L594.7 547 L594.7 547.8 L594.8 548.6 L594.8 549.4 L594.8 550.2 L594.8 551 L594.8 551.8 L594.8 552.5 L594.8 553.3 L594.8 554 L594.8 554.8 L594.9 555.5 L594.9 556.2 L594.9 556.9 L594.9 557.6 L594.9 558.3 L594.9 559 L594.9 559.7 L595 560.3 L595 561 L595 561.6 L595 562.3 L595 562.9 L595.1 563.6 L595.1 564.2 L595.1 564.8 L595.1 565.4 L595.2 566 L595.2 566.6 L595.2 567.2 L595.3 567.8 L595.3 568.4 L595.3 569 L595.4 569.6 L595.4 570.2 L595.5 570.7 L595.5 571.3 L595.6 572.2 L595.7 573.1 L595.7 574 L595.8 574.8 L595.9 575.6 L596 576.4 L596.1 577.2 L596.2 577.9 L596.3 578.7 L596.4 579.4 L596.5 580.1 L596.6 580.8 L596.7 581.4 L596.8 582.1 L596.9 582.8 L597 583.4 L597.2 584 L597.3 584.6 L597.4 585.3 L597.6 585.9 L597.7 586.5 L597.9 587.1 L598.1 587.6 L598.2 588.2 L598.4 588.8 L598.6 589.4 L598.8 590 L599.1 590.7 L599.3 591.6 L599.6 592.2 L599.9 593 L600.1 593.6 L600.4 594.5 L600.7 594.9 L601 595.9 L601.4 596.3 L601.7 597.3 L602 597.5 L602.4 598.7 L602.7 598.5 L603.1 599.8 L603.5 599.5 L603.9 601.4 L604.4 600.7 L604.8 602.6 L605.3 601.3 L605.8 603.7 L606.3 601.6 L606.8 605.2 L607.3 602 L607.9 606.8 L608.4 602.1 L609 607.6 L609.6 602.4 L610.2 607.7 L610.8 603.5 L611.4 609.4 L612.1 603.3 L612.7 610.1 L613.4 602.7 L614.1 611.4 L614.8 602.7 L615.5 611.8 L616.2 602.5 L616.9 612.2 L617.7 602.4 L618.4 613.4 L619.2 604.4 L620 614 L620.8 605.4 L621.4 614.6 L622.1 603.9 L622.7 615.3 L623.4 605.7 L624 614.3 L624.7 604 L625.4 613.2 L626.1 603.4 L626.8 616.3 L627.5 603.9 L628.3 615.9 L629 602.7 L629.7 614.9 L630.5 604.3 L631.2 616.5 L632 603.6 L632.7 614.3 L633.5 603.9 L634.3 616 L635 603 L635.8 613.7 L636.5 605.4 L637.3 615.7 L638 603.4 L638.8 615.8 L639.5 604.2 L640.2 614.5 L641 602.5 L641.7 614 L642.4 604.9 L643.2 613.2 L643.9 605.6 L644.6 615.3 L645.4 603.5 L646.1 613.8 L646.9 603.1 L647.7 613.5 L648.4 604.4 L649.2 615.1 L649.9 602.9 L650.7 614.4 L651.5 602.7 L652.2 614.4 L653 603.1 L653.7 615.6 L654.5 603.4 L655.2 614.5 L655.9 602 L656.6 612.6 L657.3 605.2 L658 612.5 L658.7 604 L659.4 614.2 L660 602.9 L660.7 614.6 L661.3 604.9 L661.9 615.2 L662.5 604.1 L663.4 615.5 L664.4 603.6 L665.3 614.9 L666.2 602.2 L667 611.8 L667.9 602.7 L668.7 613 L669.5 600.9 L670.3 612.3 L671 602.9 L671.7 612 L672.4 604.2 L673 613.2 L673.6 601.9 L674.2 611.7 L674.7 601 L675.1 611.9 L675.5 600.6" fill="none" stroke="#0072bd" stroke-width="4.2" stroke-linejoin="round" stroke-linecap="round"/>
<line x1="428.3" y1="444" x2="428.3" y2="585" stroke="#0072bd" stroke-width="3.8"/>
<line x1="593.1" y1="444" x2="593.1" y2="560" stroke="#0072bd" stroke-width="3.8"/>
<path d="M111.6 594.1 L111.7 594.5 L111.8 594.9 L111.9 595.4 L112 595.9 L112.1 596.4 L112.3 597 L112.4 597.7 L112.6 598.3 L112.7 599 L112.9 599.7 L113.1 600.5 L113.2 601.2 L113.4 602 L113.6 602.8 L113.8 603.6 L114 604.4 L114.2 605.2 L114.4 606 L114.6 606.9 L114.8 607.7 L115 608.5 L115.1 609.3 L115.3 610.1 L115.5 610.9 L115.7 611.6 L115.9 612.4 L116.1 613.1 L116.3 613.8 L116.5 614.5 L116.7 615.2 L116.9 615.9 L117.1 616.7 L117.3 617.4 L117.5 618.1 L117.7 618.8 L117.9 619.5 L118.1 620.2 L118.3 621 L118.5 621.7 L118.7 622.4 L118.9 623.1 L119.1 623.8 L119.4 624.5 L119.6 625.2 L119.8 625.9 L120 626.6 L120.2 627.3 L120.4 627.9 L120.6 628.6 L120.9 629.3 L121.1 629.9 L121.3 630.6 L121.5 631.2 L121.7 631.9 L121.9 632.5 L122.2 633.3 L122.4 634 L122.7 634.8 L122.9 635.5 L123.2 636.2 L123.4 637 L123.7 637.7 L123.9 638.4 L124.2 639.1 L124.4 639.8 L124.7 640.5 L125 641.2 L125.2 641.8 L125.5 642.5 L125.7 643.2 L126 643.8 L126.2 644.4 L126.5 645.1 L126.7 645.7 L127 646.3 L127.2 646.9 L127.5 647.5 L127.8 648.3 L128.1 649 L128.4 649.8 L128.7 650.5 L129 651.2 L129.3 652 L129.6 652.7 L129.9 653.4 L130.2 654 L130.5 654.7 L130.8 655.3 L131.2 655.9 L131.5 656.4 L131.9 657 L132.3 657.4 L132.7 657.9 L133.1 658.3 L133.7 658.8 L134.2 659.1 L134.8 659.5 L135.4 659.7 L136 659.9 L136.6 660.1 L137.3 660.2 L138 660.3 L138.8 660.3 L139.6 660.4 L140.5 660.5 L141.5 660.6 L142.5 660.7 L143.1 660.8 L143.6 660.8 L144.2 660.9 L144.9 660.9 L145.5 661 L146.2 661 L146.9 661 L147.6 661.1 L148.3 661.1 L149.1 661.2 L149.8 661.2 L150.6 661.2 L151.3 661.2 L152.1 661.3 L152.9 661.3 L153.6 661.3 L154.4 661.3 L155.2 661.4 L156 661.4 L156.8 661.4 L157.6 661.4 L158.3 661.5 L159.1 661.5 L159.8 661.5 L160.6 661.6 L161.3 661.6 L162 661.6 L162.8 661.7 L163.5 661.7 L164.2 661.7 L165 661.8 L165.7 661.8 L166.4 661.9 L167.2 661.9 L167.9 661.9 L168.7 662 L169.4 662 L170.1 662 L170.9 662.1 L171.6 662.1 L172.4 662.2 L173.1 662.2 L173.8 662.2 L174.5 662.3 L175.2 662.3 L175.9 662.4 L176.6 662.4 L177.3 662.4 L178 662.5 L178.7 662.5 L179.3 662.6 L180 662.6 L180.8 662.7 L181.6 662.7 L182.4 662.8 L183.2 662.8 L184 662.9 L184.8 662.9 L185.6 663 L186.3 663 L187.1 663.1 L187.8 663.2 L188.6 663.2 L189.3 663.3 L190 663.3 L190.7 663.4 L191.4 663.5 L192 663.5 L192.7 663.6 L193.3 663.6 L193.9 663.7 L194.5 663.7 L195 663.8 L196.1 663.9 L197 664.1 L197.8 664.3 L198.5 664.5 L199.2 664.7 L199.9 664.9 L200.5 665 L201.1 665.1 L201.8 665.1 L202.5 665 L203.1 664.9 L203.8 664.7 L204.4 664.4 L205.1 664.2 L205.7 663.9 L206.4 663.5 L207 663.1 L207.6 662.7 L208.3 662.3 L208.9 661.8 L209.4 661.3 L210 660.7 L210.4 660.2 L210.8 659.7 L211.2 659.1 L211.6 658.4 L212 657.8 L212.4 657.1 L212.7 656.4 L213.1 655.7 L213.4 655 L213.8 654.3 L214.1 653.6 L214.5 653 L214.9 652.4 L215.2 651.8 L215.6 651.3 L216.2 650.6 L216.7 649.9 L217.3 649.2 L217.9 648.6 L218.4 647.9 L219 647.5 L219.6 647 L220.2 646.8 L220.7 646.6 L221.3 646.6 L221.8 646.7 L222.2 647 L222.7 647.3 L223.2 647.8 L223.6 648.3 L224.1 649 L224.6 649.6 L225 650.3 L225.5 651 L226 651.7 L226.4 652.5 L226.9 653.2 L227.2 653.7 L227.6 654.3 L227.9 654.9 L228.3 655.6 L228.6 656.3 L228.9 657 L229.3 657.7 L229.6 658.5 L230 659.1 L230.3 659.9 L230.7 660.5 L231 661.2 L231.3 661.9 L231.6 662.5 L231.9 663 L232.2 663.6 L232.5 664 L233.1 665 L233.7 665.8 L234.2 666.6 L234.7 667.1 L235.2 667.5 L235.7 667.6 L236.3 667.5 L236.7 667.3 L237.1 667.1 L237.6 666.8 L238 666.5 L238.5 666.1 L239 665.6 L239.4 664.9 L239.9 664.1 L240.3 663.1 L240.7 662 L241 660.7 L241.1 660.2 L241.2 659.8 L241.3 659.3 L241.4 658.8 L241.5 658.3 L241.6 657.7 L241.6 657.2 L241.7 656.6 L241.8 656 L241.9 655.4 L241.9 654.8 L242 654.1 L242.1 653.5 L242.1 652.8 L242.2 652.2 L242.3 651.5 L242.3 650.8 L242.4 650.1 L242.5 649.3 L242.5 648.6 L242.6 647.8 L242.6 647.1 L242.7 646.3 L242.8 645.5 L242.8 644.7 L242.9 643.9 L242.9 643.1 L243 642.3 L243 641.5 L243.1 640.6 L243.2 639.8 L243.2 638.9 L243.3 638.1 L243.3 637.2 L243.4 636.3 L243.4 635.7 L243.5 635.1 L243.5 634.5 L243.6 633.9 L243.6 633.2 L243.6 632.6 L243.7 631.9 L243.7 631.3 L243.8 630.6 L243.8 629.9 L243.8 629.2 L243.9 628.6 L243.9 627.9 L243.9 627.1 L244 626.4 L244 625.7 L244.1 625 L244.1 624.3 L244.1 623.5 L244.2 622.8 L244.2 622 L244.2 621.3 L244.3 620.6 L244.3 619.8 L244.3 619.1 L244.4 618.3 L244.4 617.5 L244.5 616.8 L244.5 616 L244.5 615.3 L244.6 614.5 L244.6 613.8 L244.6 613 L244.7 612.3 L244.7 611.5 L244.7 610.8 L244.8 610 L244.8 609.3 L244.8 608.5 L244.9 607.8 L244.9 607.1 L244.9 606.3 L245 605.6 L245 604.9 L245 604.2 L245.1 603.5 L245.1 602.8 L245.1 602.1 L245.2 601.4 L245.2 600.8 L245.2 600.1 L245.3 599.4 L245.3 598.8 L245.3 598 L245.4 597.2 L245.4 596.3 L245.5 595.5 L245.5 594.6 L245.5 593.7 L245.6 592.8 L245.6 591.8 L245.7 590.9 L245.7 590 L245.7 589 L245.8 588.1 L245.8 587.1 L245.8 586.2 L245.9 585.2 L245.9 584.3 L246 583.4 L246 582.5 L246 581.5 L246.1 580.7 L246.1 579.8 L246.1 578.9 L246.2 578.1 L246.2 577.2 L246.2 576.4 L246.3 575.7 L246.3 574.9 L246.4 574.2 L246.4 573.5 L246.4 572.9 L246.5 572.3 L246.5 571.7 L246.5 571.2 L246.6 570.7 L246.6 570.2 L246.6 569.8 L246.7 569.5 L246.7 569.2 L246.8 568.9 L246.8 568.7 L246.8 568.6 L246.9 568.5 L246.9 568.5 L246.9 568.5 L247 568.6 L247 568.8 L247 569 L247.1 569.2 L247.1 569.5 L247.1 569.9 L247.2 570.3 L247.2 570.7 L247.2 571.2 L247.3 571.7 L247.3 572.2 L247.3 572.8 L247.4 573.5 L247.4 574.1 L247.4 574.8 L247.5 575.5 L247.5 576.2 L247.5 577 L247.5 577.8 L247.6 578.6 L247.6 579.4 L247.6 580.3 L247.7 581.1 L247.7 582 L247.7 582.9 L247.8 583.8 L247.8 584.7 L247.8 585.7 L247.9 586.6 L247.9 587.5 L248 588.4 L248 589.4 L248 590.3 L248.1 591.2 L248.1 592.2 L248.1 593.1 L248.2 594 L248.2 594.9 L248.3 595.8 L248.3 596.7 L248.4 597.5 L248.4 598.4 L248.5 599.2 L248.5 600 L248.5 600.6 L248.6 601.3 L248.6 601.9 L248.7 602.6 L248.7 603.3 L248.7 604 L248.8 604.7 L248.8 605.4 L248.9 606.1 L248.9 606.8 L248.9 607.6 L249 608.3 L249 609 L249.1 609.8 L249.1 610.5 L249.1 611.3 L249.2 612.1 L249.2 612.8 L249.3 613.6 L249.3 614.4 L249.4 615.2 L249.4 615.9 L249.5 616.7 L249.5 617.5 L249.5 618.3 L249.6 619.1 L249.6 619.8 L249.7 620.6 L249.7 621.4 L249.8 622.2 L249.8 622.9 L249.9 623.7 L249.9 624.5 L250 625.2 L250 626 L250.1 626.7 L250.1 627.4 L250.2 628.2 L250.2 628.9 L250.3 629.6 L250.3 630.3 L250.4 631 L250.5 631.7 L250.5 632.4 L250.6 633 L250.6 633.7 L250.7 634.3 L250.7 635 L250.8 635.6 L250.9 636.2 L250.9 636.8 L251 637.4 L251 637.9 L251.1 638.5 L251.2 639 L251.2 639.5 L251.3 640 L251.5 641.2 L251.6 642.3 L251.8 643.4 L252 644.4 L252.2 645.4 L252.4 646.4 L252.6 647.3 L252.8 648.1 L253 648.9 L253.3 649.7 L253.5 650.4 L253.7 651.1 L253.9 651.7 L254.1 652.3 L254.4 652.8 L254.6 653.3 L254.8 653.7 L255 654.1 L255.2 654.5 L255.4 654.8 L255.6 655 L255.8 655.3 L256 655.4 L256.4 655.8 L256.8 655.8 L257.1 655.7 L257.5 655.3 L257.8 654.8 L258.2 654.1 L258.5 653.2 L258.8 652.1 L259.1 650.9 L259.4 649.5 L259.7 648 L259.8 647.6 L259.8 647.1 L259.9 646.7 L260 646.3 L260.1 645.9 L260.1 645.5 L260.2 645.1 L260.3 644.7 L260.3 644.3 L260.4 643.9 L260.4 643.5 L260.5 643.1 L260.6 642.6 L260.6 642.2 L260.7 641.7 L260.7 641.3 L260.8 640.8 L260.9 640.2 L260.9 639.7 L261 639.2 L261 638.6 L261.1 638 L261.1 637.3 L261.2 636.6 L261.2 635.9 L261.3 635.2 L261.3 634.4 L261.4 633.6 L261.4 632.7 L261.5 631.8 L261.5 630.9 L261.6 629.9 L261.6 628.9 L261.6 627.8 L261.7 626.6 L261.7 625.4 L261.8 624.1 L261.8 622.8 L261.9 621.4 L261.9 620 L261.9 619.5 L261.9 619.1 L261.9 618.6 L261.9 618.1 L262 617.6 L262 617.1 L262 616.6 L262 616.1 L262 615.5 L262 615 L262 614.5 L262 613.9 L262.1 613.4 L262.1 612.8 L262.1 612.2 L262.1 611.7 L262.1 611.1 L262.1 610.5 L262.1 609.9 L262.1 609.3 L262.1 608.7 L262.1 608.1 L262.2 607.5 L262.2 606.9 L262.2 606.3 L262.2 605.6 L262.2 605 L262.2 604.3 L262.2 603.7 L262.2 603 L262.2 602.4 L262.2 601.7 L262.3 601.1 L262.3 600.4 L262.3 599.7 L262.3 599 L262.3 598.3 L262.3 597.6 L262.3 597 L262.3 596.3 L262.3 595.5 L262.3 594.8 L262.3 594.1 L262.3 593.4 L262.4 592.7 L262.4 592 L262.4 591.3 L262.4 590.5 L262.4 589.8 L262.4 589.1 L262.4 588.3 L262.4 587.6 L262.4 586.8 L262.4 586.1 L262.4 585.3 L262.4 584.6 L262.4 583.8 L262.5 583.1 L262.5 582.3 L262.5 581.6 L262.5 580.8 L262.5 580 L262.5 579.3 L262.5 578.5 L262.5 577.7 L262.5 577 L262.5 576.2 L262.5 575.4 L262.5 574.6 L262.5 573.9 L262.5 573.1 L262.6 572.3 L262.6 571.5 L262.6 570.7 L262.6 570 L262.6 569.2 L262.6 568.4 L262.6 567.6 L262.6 566.8 L262.6 566 L262.6 565.3 L262.6 564.5 L262.6 563.7 L262.6 562.9 L262.6 562.1 L262.6 561.3 L262.7 560.5 L262.7 559.8 L262.7 559 L262.7 558.2 L262.7 557.4 L262.7 556.6 L262.7 555.9 L262.7 555.1 L262.7 554.3 L262.7 553.5 L262.7 552.8 L262.7 552 L262.7 551.2 L262.7 550.4 L262.7 549.7 L262.7 548.9 L262.7 548.2 L262.8 547.4 L262.8 546.6 L262.8 545.9 L262.8 545.1 L262.8 544.4 L262.8 543.6 L262.8 542.9 L262.8 542.1 L262.8 541.4 L262.8 540.6 L262.8 539.9 L262.8 539.2 L262.8 538.5 L262.8 537.7 L262.8 537 L262.8 536.3 L262.9 535.6 L262.9 534.9 L262.9 534.2 L262.9 533.5 L262.9 532.8 L262.9 532.1 L262.9 531.4 L262.9 530.7 L262.9 530 L262.9 529.3 L262.9 528.5 L262.9 527.8 L262.9 527 L262.9 526.2 L262.9 525.5 L262.9 524.7 L263 523.9 L263 523.1 L263 522.3 L263 521.4 L263 520.6 L263 519.8 L263 518.9 L263 518.1 L263 517.2 L263 516.3 L263 515.5 L263 514.6 L263 513.7 L263 512.8 L263 511.9 L263 511 L263 510.1 L263.1 509.2 L263.1 508.3 L263.1 507.4 L263.1 506.5 L263.1 505.6 L263.1 504.6 L263.1 503.7 L263.1 502.8 L263.1 501.9 L263.1 500.9 L263.1 500 L263.1 499.1 L263.1 498.1 L263.1 497.2 L263.1 496.3 L263.1 495.3 L263.1 494.4 L263.1 493.5 L263.1 492.5 L263.1 491.6 L263.2 490.7 L263.2 489.8 L263.2 488.8 L263.2 487.9 L263.2 487 L263.2 486.1 L263.2 485.2 L263.2 484.2 L263.2 483.3 L263.2 482.4 L263.2 481.5 L263.2 480.6 L263.2 479.8 L263.2 478.9 L263.2 478 L263.2 477.1 L263.2 476.3 L263.2 475.4 L263.2 474.5 L263.2 473.7 L263.2 472.9 L263.3 472 L263.3 471.2 L263.3 470.4 L263.3 469.6 L263.3 468.8 L263.3 468 L263.3 467.2 L263.3 466.4 L263.3 465.7 L263.3 464.9 L263.3 464.2 L263.3 463.5 L263.3 462.7 L263.3 462 L263.3 461.3 L263.3 460.6 L263.3 460 L263.3 459.3 L263.3 458.7 L263.3 458 L263.3 457.4 L263.3 456.8 L263.4 456.2 L263.4 455.6 L263.4 455 L263.4 454.5 L263.4 454 L263.4 453.4 L263.4 452.9 L263.4 452.4 L263.4 452 L263.4 451.5 L263.4 451 L263.4 450.6 L263.4 450.2 L263.4 449.8 L263.4 449.4 L263.4 449.1 L263.4 448.7 L263.4 448.4 L263.4 448.1 L263.4 447.8 L263.4 447.6 L263.4 447.3 L263.5 447.1 L263.5 446.9 L263.5 446.7 L263.5 446.5 L263.5 446.4 L263.5 446.3 L263.5 446.2 L263.5 446.1 L263.5 446 L263.5 446 L263.5 446 L263.5 446 L263.5 446 L263.5 446.1 L263.5 446.2 L263.5 446.3 L263.5 446.4 L263.5 446.5 L263.5 446.7 L263.5 446.9 L263.5 447.1 L263.6 447.3 L263.6 447.5 L263.6 447.8 L263.6 448.1 L263.6 448.4 L263.6 448.7 L263.6 449 L263.6 449.3 L263.6 449.7 L263.6 450.1 L263.6 450.5 L263.6 450.9 L263.6 451.3 L263.6 451.8 L263.6 452.3 L263.6 452.7 L263.6 453.2 L263.6 453.7 L263.6 454.3 L263.6 454.8 L263.6 455.4 L263.6 455.9 L263.7 456.5 L263.7 457.1 L263.7 457.7 L263.7 458.3 L263.7 459 L263.7 459.6 L263.7 460.3 L263.7 461 L263.7 461.6 L263.7 462.3 L263.7 463 L263.7 463.8 L263.7 464.5 L263.7 465.2 L263.7 466 L263.7 466.7 L263.7 467.5 L263.7 468.3 L263.7 469.1 L263.7 469.9 L263.7 470.7 L263.7 471.5 L263.7 472.3 L263.8 473.1 L263.8 474 L263.8 474.8 L263.8 475.6 L263.8 476.5 L263.8 477.4 L263.8 478.2 L263.8 479.1 L263.8 480 L263.8 480.9 L263.8 481.8 L263.8 482.6 L263.8 483.5 L263.8 484.5 L263.8 485.4 L263.8 486.3 L263.8 487.2 L263.8 488.1 L263.8 489 L263.8 489.9 L263.8 490.9 L263.8 491.8 L263.9 492.7 L263.9 493.7 L263.9 494.6 L263.9 495.5 L263.9 496.5 L263.9 497.4 L263.9 498.3 L263.9 499.3 L263.9 500.2 L263.9 501.1 L263.9 502.1 L263.9 503 L263.9 503.9 L263.9 504.9 L263.9 505.8 L263.9 506.7 L263.9 507.6 L263.9 508.6 L263.9 509.5 L264 510.4 L264 511.3 L264 512.2 L264 513.1 L264 514 L264 514.9 L264 515.8 L264 516.7 L264 517.6 L264 518.5 L264 519.3 L264 520.2 L264 521.1 L264 521.9 L264 522.7 L264 523.6 L264.1 524.4 L264.1 525.2 L264.1 526.1 L264.1 526.9 L264.1 527.7 L264.1 528.4 L264.1 529.2 L264.1 530 L264.1 530.7 L264.1 531.3 L264.1 532 L264.1 532.6 L264.1 533.3 L264.1 534 L264.1 534.6 L264.1 535.3 L264.2 536 L264.2 536.7 L264.2 537.4 L264.2 538.1 L264.2 538.8 L264.2 539.5 L264.2 540.2 L264.2 540.9 L264.2 541.6 L264.2 542.4 L264.2 543.1 L264.2 543.8 L264.2 544.5 L264.2 545.3 L264.2 546 L264.2 546.7 L264.2 547.5 L264.2 548.2 L264.2 549 L264.2 549.7 L264.2 550.5 L264.3 551.2 L264.3 552 L264.3 552.7 L264.3 553.5 L264.3 554.3 L264.3 555 L264.3 555.8 L264.3 556.6 L264.3 557.3 L264.3 558.1 L264.3 558.9 L264.3 559.6 L264.3 560.4 L264.3 561.2 L264.3 562 L264.3 562.8 L264.3 563.5 L264.3 564.3 L264.3 565.1 L264.3 565.9 L264.3 566.7 L264.3 567.4 L264.3 568.2 L264.4 569 L264.4 569.8 L264.4 570.6 L264.4 571.4 L264.4 572.2 L264.4 572.9 L264.4 573.7 L264.4 574.5 L264.4 575.3 L264.4 576.1 L264.4 576.9 L264.4 577.6 L264.4 578.4 L264.4 579.2 L264.4 580 L264.4 580.8 L264.4 581.5 L264.4 582.3 L264.4 583.1 L264.4 583.9 L264.5 584.6 L264.5 585.4 L264.5 586.2 L264.5 587 L264.5 587.7 L264.5 588.5 L264.5 589.3 L264.5 590 L264.5 590.8 L264.5 591.5 L264.5 592.3 L264.5 593.1 L264.5 593.8 L264.5 594.6 L264.5 595.3 L264.6 596 L264.6 596.8 L264.6 597.5 L264.6 598.3 L264.6 599 L264.6 599.7 L264.6 600.5 L264.6 601.2 L264.6 601.9 L264.6 602.6 L264.6 603.3 L264.6 604 L264.7 604.7 L264.7 605.4 L264.7 606.1 L264.7 606.8 L264.7 607.5 L264.7 608.2 L264.7 608.9 L264.7 609.6 L264.7 610.3 L264.7 610.9 L264.8 611.6 L264.8 612.2 L264.8 612.9 L264.8 613.6 L264.8 614.2 L264.8 614.8 L264.8 615.5 L264.8 616.1 L264.8 616.7 L264.9 617.4 L264.9 618 L264.9 618.6 L264.9 619.2 L264.9 619.8 L264.9 620.4 L264.9 621 L264.9 621.6 L265 622.1 L265 622.7 L265 623.3 L265 623.8 L265 624.4 L265 624.9 L265.1 625.5 L265.1 626 L265.1 626.5 L265.1 627 L265.1 627.5 L265.1 628 L265.1 628.5 L265.2 629 L265.2 629.5 L265.2 630 L265.3 631.3 L265.3 632.7 L265.4 633.9 L265.4 635.2 L265.5 636.3 L265.5 637.5 L265.6 638.6 L265.7 639.7 L265.7 640.7 L265.8 641.7 L265.9 642.7 L265.9 643.6 L266 644.5 L266.1 645.4 L266.2 646.3 L266.2 647.1 L266.3 647.9 L266.4 648.6 L266.5 649.4 L266.6 650.1 L266.6 650.8 L266.7 651.4 L266.8 652.1 L266.9 652.7 L267 653.3 L267.1 653.9 L267.1 654.5 L267.2 655 L267.3 655.5 L267.4 656.1 L267.5 656.6 L267.6 657.1 L267.7 657.5 L267.8 658 L267.8 658.5 L267.9 658.9 L268 659.4 L268.1 659.8 L268.2 660.2 L268.3 660.7 L268.4 661.1 L268.5 661.5 L268.6 661.9 L268.7 662.3 L268.7 662.7 L268.8 663.2 L268.9 663.5 L269 664 L269.1 664.4 L269.4 666 L269.8 667.2 L270.1 668.2 L270.4 668.9 L270.8 669.4 L271.1 669.8 L271.5 670.1 L271.9 670.3 L272.3 670.6 L272.7 670.6 L273.2 671.2 L273.8 671.2 L274.3 672.4 L274.8 671.9 L275.3 673 L275.9 672.5 L276.5 673.8 L277.1 673.2 L277.7 674.5 L278.4 673.8 L279 675.1 L279.7 674.3 L280.4 675.8 L281.1 675 L281.8 676.3 L282.5 675.5 L283.2 676.7 L283.8 675.8 L284.5 677.4 L285.2 676 L285.9 677.6 L286.6 676.4 L287.3 678.1 L288 676.9 L288.8 678.5 L289.5 676.8 L290.2 679.1 L291 677.3 L291.7 679.1 L292.4 677.8 L293.1 679.5 L293.7 677.5 L294.4 679.8 L295 677.9 L295.8 680.4 L296.6 678.6 L297.3 680.4 L298 678.6 L298.7 680.6 L299.3 678.8 L300 681.1 L300.7 679.2 L301.4 681.4 L302.1 679.3 L302.9 681.5 L303.8 679.5 L304.4 681.8 L305.1 679.5 L305.7 682 L306.4 679.2 L307.1 682 L307.8 680.1 L308.5 682 L309.2 679.5 L310 682.4 L310.7 679.9 L311.5 682.4 L312.2 679.8 L313 682.9 L313.8 680.1 L314.6 682.7 L315.3 680.5 L316.1 682.1 L316.9 680.4 L317.5 682.6 L318.2 679.7 L318.8 682.4 L319.5 679.5 L320.1 681.6 L320.8 679.9 L321.5 681.5 L322.1 679.6 L322.8 681.4 L323.5 678.6 L324.2 681.3 L324.8 678.9 L325.5 680.8 L326.2 678.1 L326.9 680.4 L327.6 677.9 L328.3 679.7 L329 677.1 L329.7 679.8 L330.5 676.9 L331.2 679.2 L331.9 677 L332.5 678.6 L333.2 676.5 L333.9 678.3 L334.6 676.1 L335.3 678.2 L336.1 675.4 L336.8 677.5 L337.6 674.8 L338.3 676.9 L339.1 674.4 L339.8 677 L340.6 674.2 L341.3 676.3 L342 673.8 L342.8 676.4 L343.5 673.8 L344.2 675.4 L344.8 673 L345.5 675 L346.1 673.1 L346.7 674.8 L347.3 672.8 L347.8 674.1 L348.3 672.6 L348.8 673.4 L349.9 672 L350.8 672.6 L351.5 671.5 L352.1 671.8 L352.5 670.9 L353 671.2 L353.4 670 L353.8 670 L354.4 668.9 L354.7 668.8 L355.1 668 L355.4 667.8 L355.8 666.9 L356.1 666.6 L356.5 665.7 L356.8 665.4 L357.2 664.5 L357.5 664.1 L357.9 663.2 L358.2 662.7 L358.6 661.8 L358.9 661.2 L359.3 660.3 L359.6 659.7 L360 658.7 L360.3 658.3 L360.5 657.5 L360.8 657 L361.1 656.2 L361.3 655.6 L361.6 654.7 L361.9 654.1 L362.1 653.2 L362.4 652.6 L362.7 651.7 L363 651.1 L363.2 650.2 L363.5 649.6 L363.8 648.7 L364 648.1 L364.3 647.3 L364.5 646.7 L364.8 646 L365 645.4 L365.3 644.8 L365.5 644.4 L365.7 643.7 L366.2 642.8 L366.7 641.7 L367.1 640.9 L367.5 640.1 L367.9 639.5 L368.2 638.9 L368.6 638.7 L369 638.3 L369.4 638.4 L369.8 638.3 L370.2 638.7 L370.6 639 L371 639.6 L371.4 640.2 L371.8 641 L372.2 641.8 L372.7 642.8 L373.2 643.8 L373.4 644.3 L373.7 644.8 L373.9 645.4 L374.2 646 L374.5 646.7 L374.7 647.3 L375 648 L375.3 648.7 L375.5 649.4 L375.8 650.1 L376.1 650.9 L376.4 651.6 L376.7 652.4 L377 653.1 L377.3 653.8 L377.6 654.5 L377.9 655.2 L378.2 655.8 L378.5 656.4 L378.8 657 L379.2 657.7 L379.6 658.5 L380 659.4 L380.4 660.2 L380.8 661.1 L381.3 662 L381.7 662.8 L382.1 663.6 L382.5 664.3 L383 665 L383.4 665.6 L383.8 666 L384.2 666.4 L384.6 666.6 L384.9 666.6 L385.3 666.5 L385.5 666.3 L385.8 666.1 L386 665.8 L386.2 665.5 L386.4 665.1 L386.6 664.6 L386.9 664.1 L387.1 663.6 L387.3 663 L387.5 662.3 L387.7 661.7 L387.9 660.9 L388.1 660.2 L388.3 659.4 L388.5 658.6 L388.6 657.7 L388.8 656.9 L389 655.9 L389.2 655 L389.3 654 L389.5 653.1 L389.7 652.1 L389.8 651 L390 650 L390.1 649.5 L390.2 648.9 L390.2 648.4 L390.3 647.8 L390.4 647.2 L390.4 646.6 L390.5 645.9 L390.6 645.3 L390.7 644.6 L390.7 644 L390.8 643.3 L390.9 642.6 L390.9 641.9 L391 641.2 L391 640.5 L391.1 639.8 L391.2 639 L391.2 638.3 L391.3 637.5 L391.3 636.8 L391.4 636 L391.5 635.3 L391.5 634.5 L391.6 633.7 L391.6 633 L391.7 632.2 L391.7 631.4 L391.8 630.7 L391.8 629.9 L391.9 629.1 L392 628.4 L392 627.6 L392.1 626.8 L392.1 626.1 L392.2 625.3 L392.2 624.6 L392.3 623.8 L392.3 623.1 L392.4 622.4 L392.4 621.7 L392.5 621 L392.5 620.3 L392.6 619.6 L392.6 618.9 L392.7 618.2 L392.7 617.6 L392.8 616.9 L392.8 616.3 L392.9 615.5 L392.9 614.6 L393 613.8 L393 612.9 L393.1 612 L393.2 611.1 L393.2 610.1 L393.3 609.2 L393.3 608.3 L393.4 607.3 L393.4 606.4 L393.5 605.4 L393.5 604.5 L393.6 603.6 L393.6 602.7 L393.7 601.8 L393.7 600.9 L393.8 600 L393.8 599.1 L393.9 598.3 L393.9 597.5 L394 596.7 L394 596 L394.1 595.3 L394.1 594.6 L394.2 594 L394.2 593.4 L394.3 592.8 L394.3 592.3 L394.4 591.9 L394.4 591.5 L394.5 591.1 L394.5 590.8 L394.5 590.6 L394.6 590.4 L394.6 590.3 L394.7 590.3 L394.8 590.3 L394.8 590.4 L394.9 590.6 L394.9 590.8 L395 591.1 L395 591.5 L395.1 591.9 L395.1 592.3 L395.2 592.8 L395.2 593.4 L395.3 594 L395.3 594.6 L395.4 595.3 L395.4 596 L395.5 596.7 L395.5 597.5 L395.6 598.3 L395.6 599.1 L395.7 600 L395.7 600.9 L395.8 601.8 L395.8 602.7 L395.9 603.6 L395.9 604.5 L396 605.4 L396 606.4 L396.1 607.3 L396.1 608.3 L396.2 609.2 L396.2 610.1 L396.3 611.1 L396.3 612 L396.4 612.9 L396.4 613.8 L396.5 614.6 L396.5 615.5 L396.6 616.3 L396.6 616.9 L396.7 617.6 L396.7 618.2 L396.8 618.9 L396.8 619.5 L396.8 620.2 L396.9 620.9 L396.9 621.5 L396.9 622.2 L397 622.9 L397 623.6 L397.1 624.3 L397.1 625 L397.1 625.7 L397.2 626.4 L397.2 627.2 L397.2 627.9 L397.3 628.6 L397.3 629.3 L397.3 630.1 L397.4 630.8 L397.4 631.5 L397.5 632.3 L397.5 633 L397.5 633.7 L397.6 634.5 L397.6 635.2 L397.6 636 L397.7 636.7 L397.7 637.4 L397.8 638.2 L397.8 638.9 L397.8 639.6 L397.9 640.3 L397.9 641.1 L398 641.8 L398 642.5 L398 643.2 L398.1 643.9 L398.1 644.6 L398.2 645.3 L398.2 646 L398.3 646.7 L398.3 647.4 L398.4 648 L398.4 648.7 L398.5 649.4 L398.5 650 L398.6 650.8 L398.6 651.5 L398.7 652.3 L398.7 653.1 L398.8 653.9 L398.9 654.6 L398.9 655.4 L399 656.2 L399.1 656.9 L399.1 657.7 L399.2 658.4 L399.2 659.2 L399.3 659.9 L399.4 660.7 L399.4 661.4 L399.5 662.2 L399.6 662.9 L399.6 663.6 L399.7 664.3 L399.8 665.1 L399.9 665.8 L399.9 666.5 L400 667.2 L400.1 667.9 L400.1 668.6 L400.2 669.3 L400.3 670 L400.4 670.6 L400.4 671.3 L400.5 672 L400.6 672.6 L400.7 673.3 L400.7 673.9 L400.8 674.6 L400.9 675.2 L401 675.8 L401.1 676.4 L401.1 677 L401.2 677.6 L401.3 678.2 L401.4 679.1 L401.6 680 L401.7 680.8 L401.8 681.7 L402 682.5 L402.1 683.4 L402.3 684.2 L402.4 685 L402.5 685.8 L402.7 686.6 L402.8 687.4 L403 688.1 L403.1 688.8 L403.3 689.5 L403.5 690.2 L403.6 690.9 L403.8 691.6 L403.9 692.2 L404 692.8 L404.2 693.4 L404.3 694 L404.5 694.5 L404.6 695.1 L404.7 695.6 L404.9 696.1 L405 696.5 L405.4 698 L405.7 699.1 L406 700 L406.2 700.5 L406.6 700.9 L407.1 701 L407.8 701 L408.2 700.9 L408.7 700.8 L409.2 700.1 L409.7 700.5 L410.3 698.8 L410.9 699.9 L411.5 697.8 L412.1 698.8 L412.7 696.9 L413.4 697.8 L414 695.5 L414.6 696.9 L415.2 694.4 L415.8 695.6 L416.3 693.4 L416.9 695.1 L417.6 692.4 L418.2 694 L418.8 691.3 L419.5 693.4 L420.1 690.5 L420.6 692.1 L421.2 690.4 L421.7 690.6 L422.3 689.5 L422.7 689.6 L423.2 689 L423.9 689.1 L424.5 690.1 L425.1 691.4 L425.6 692.3 L426 692 L426.4 689.8 L426.8 685 L426.8 684.6 L426.8 684.2 L426.9 683.8 L426.9 683.4 L426.9 683 L426.9 682.6 L426.9 682.1 L426.9 681.6 L427 681.2 L427 680.7 L427 680.2 L427 679.6 L427 679.1 L427 678.6 L427.1 678 L427.1 677.5 L427.1 676.9 L427.1 676.3 L427.1 675.7 L427.1 675.1 L427.1 674.5 L427.2 673.9 L427.2 673.3 L427.2 672.7 L427.2 672 L427.2 671.4 L427.2 670.7 L427.2 670 L427.3 669.3 L427.3 668.7 L427.3 668 L427.3 667.3 L427.3 666.6 L427.3 665.8 L427.3 665.1 L427.3 664.4 L427.3 663.6 L427.4 662.9 L427.4 662.2 L427.4 661.4 L427.4 660.6 L427.4 659.9 L427.4 659.1 L427.4 658.3 L427.4 657.5 L427.4 656.8 L427.4 656 L427.5 655.2 L427.5 654.4 L427.5 653.6 L427.5 652.8 L427.5 652 L427.5 651.2 L427.5 650.3 L427.5 649.5 L427.5 648.7 L427.5 647.9 L427.5 647.1 L427.5 646.2 L427.5 645.4 L427.6 644.6 L427.6 643.8 L427.6 642.9 L427.6 642.1 L427.6 641.3 L427.6 640.4 L427.6 639.6 L427.6 638.8 L427.6 637.9 L427.6 637.1 L427.6 636.3 L427.6 635.4 L427.6 634.6 L427.6 633.8 L427.6 632.9 L427.7 632.1 L427.7 631.3 L427.7 630.5 L427.7 629.7 L427.7 628.8 L427.7 628 L427.7 627.2 L427.7 626.4 L427.7 625.6 L427.7 624.8 L427.7 624 L427.7 623.2 L427.7 622.4 L427.7 621.6 L427.7 620.8 L427.7 620.1 L427.7 619.3 L427.7 618.5 L427.8 617.8 L427.8 617 L427.8 616.3 L427.8 615.5 L427.8 614.8 L427.8 614.1 L427.8 613.3 L427.8 612.6 L427.8 611.9 L427.8 611.2 L427.8 610.5 L427.8 609.8 L427.8 609.1 L427.8 608.5 L427.8 607.8 L427.8 607.1 L427.8 606.5 L427.8 605.9 L427.8 605.2 L427.9 604.6 L427.9 604 L427.9 603.4 L427.9 602.8 L427.9 602.2 L427.9 601.6 L427.9 601.1 L427.9 600.5 L427.9 600 L427.9 599 L427.9 597.9 L427.9 596.9 L427.9 595.8 L428 594.8 L428 593.8 L428 592.7 L428 591.7 L428 590.6 L428 589.6 L428 588.6 L428 587.6 L428 586.6 L428 585.6 L428 584.6 L428.1 583.6 L428.1 582.6 L428.1 581.6 L428.1 580.6 L428.1 579.7 L428.1 578.7 L428.1 577.8 L428.1 576.9 L428.1 575.9 L428.1 575 L428.1 574.2 L428.1 573.3 L428.1 572.4 L428.1 571.6 L428.1 570.8 L428.1 569.9 L428.1 569.1 L428.1 568.4 L428.2 567.6 L428.2 566.9 L428.2 566.1 L428.2 565.4 L428.2 564.8 L428.2 564.1 L428.2 563.4 L428.2 562.8 L428.2 562.2 L428.2 561.7 L428.2 561.1 L428.2 560.6 L428.2 560.1 L428.2 559.6 L428.2 559.2 L428.2 558.8 L428.2 558.4 L428.2 558 L428.2 557.7 L428.2 557.4 L428.2 557.1 L428.3 556.8 L428.3 556.6 L428.3 556.4 L428.3 556.3 L428.3 556.2 L428.3 556.1 L428.3 556 L428.3 556 L428.3 556 L428.3 556.1 L428.3 556.1 L428.3 556.3 L428.3 556.4 L428.3 556.6 L428.3 556.8 L428.4 557 L428.4 557.3 L428.4 557.6 L428.4 557.9 L428.4 558.3 L428.4 558.6 L428.4 559 L428.4 559.5 L428.4 559.9 L428.4 560.4 L428.4 560.9 L428.4 561.4 L428.4 562 L428.4 562.6 L428.4 563.2 L428.4 563.8 L428.4 564.4 L428.4 565.1 L428.4 565.8 L428.4 566.5 L428.5 567.2 L428.5 568 L428.5 568.7 L428.5 569.5 L428.5 570.3 L428.5 571.1 L428.5 571.9 L428.5 572.8 L428.5 573.7 L428.5 574.5 L428.5 575.4 L428.5 576.3 L428.5 577.3 L428.5 578.2 L428.5 579.2 L428.6 580.1 L428.6 581.1 L428.6 582.1 L428.6 583.1 L428.6 584.1 L428.6 585.1 L428.6 586.1 L428.6 587.1 L428.6 588.2 L428.7 589.2 L428.7 590.3 L428.7 591.3 L428.7 592.4 L428.7 593.5 L428.7 594.6 L428.7 595.6 L428.7 596.7 L428.8 597.8 L428.8 598.9 L428.8 600 L428.8 600.5 L428.8 601.1 L428.8 601.6 L428.8 602.2 L428.8 602.7 L428.9 603.3 L428.9 603.9 L428.9 604.5 L428.9 605.1 L428.9 605.7 L428.9 606.3 L428.9 606.9 L428.9 607.6 L428.9 608.2 L428.9 608.9 L428.9 609.5 L428.9 610.2 L428.9 610.9 L429 611.6 L429 612.3 L429 613 L429 613.7 L429 614.4 L429 615.1 L429 615.8 L429 616.6 L429 617.3 L429 618 L429 618.8 L429.1 619.5 L429.1 620.3 L429.1 621.1 L429.1 621.8 L429.1 622.6 L429.1 623.4 L429.1 624.2 L429.1 625 L429.1 625.7 L429.1 626.5 L429.1 627.3 L429.1 628.1 L429.2 628.9 L429.2 629.8 L429.2 630.6 L429.2 631.4 L429.2 632.2 L429.2 633 L429.2 633.8 L429.2 634.7 L429.2 635.5 L429.2 636.3 L429.3 637.1 L429.3 638 L429.3 638.8 L429.3 639.6 L429.3 640.5 L429.3 641.3 L429.3 642.1 L429.3 643 L429.3 643.8 L429.3 644.6 L429.4 645.5 L429.4 646.3 L429.4 647.1 L429.4 648 L429.4 648.8 L429.4 649.6 L429.4 650.4 L429.4 651.3 L429.5 652.1 L429.5 652.9 L429.5 653.7 L429.5 654.6 L429.5 655.4 L429.5 656.2 L429.5 657 L429.5 657.8 L429.6 658.6 L429.6 659.4 L429.6 660.2 L429.6 661 L429.6 661.8 L429.6 662.6 L429.6 663.4 L429.6 664.1 L429.7 664.9 L429.7 665.7 L429.7 666.4 L429.7 667.2 L429.7 667.9 L429.7 668.7 L429.8 669.4 L429.8 670.2 L429.8 670.9 L429.8 671.6 L429.8 672.3 L429.8 673 L429.8 673.7 L429.9 674.4 L429.9 675.1 L429.9 675.8 L429.9 676.5 L429.9 677.2 L429.9 677.8 L430 678.5 L430 679.1 L430 679.7 L430 680.4 L430 681 L430.1 681.6 L430.1 682.2 L430.1 682.8 L430.1 683.4 L430.1 683.9 L430.2 684.5 L430.2 685 L430.2 685.6 L430.2 686.1 L430.2 686.6 L430.3 687.1 L430.3 687.7 L430.3 688.1 L430.3 688.6 L430.3 689.1 L430.4 689.5 L430.4 690 L430.4 690.4 L430.4 690.8 L430.5 691.2 L430.5 691.6 L430.5 692 L430.8 696.1 L431.1 698.8 L431.3 700.4 L431.6 701 L431.9 700.9 L432.3 700.3 L432.8 699.5 L433.4 698.7 L434.1 698 L435 698.5 L435.5 697.7 L436 698.5 L436.6 697.5 L437.2 699 L437.8 695.1 L438.5 701 L439.2 694.3 L439.9 700.9 L440.7 694.3 L441.5 700.7 L442.2 694.8 L443 700.4 L443.8 693.7 L444.6 699.9 L445.4 693.5 L446.2 699.3 L447 692.5 L447.8 699.9 L448.5 693.6 L449.3 700 L450 692.7 L450.7 698.3 L451.4 692.2 L452.1 700.1 L452.9 693.1 L453.6 699.3 L454.3 693.6 L455 699 L455.7 693.3 L456.4 699.8 L457.2 693.3 L457.9 700.6 L458.6 694.6 L459.3 701.1 L460 694.3 L460.7 700.6 L461.5 695.1 L462.2 701.2 L462.9 694.2 L463.6 701.7 L464.3 694 L465 700.9 L465.7 694.6 L466.5 701.6 L467.3 694.9 L468.1 700.2 L468.9 694.1 L469.7 702.1 L470.5 694.5 L471.3 702 L472.1 695.4 L472.9 701.1 L473.7 694.4 L474.4 701.1 L475.2 694.4 L475.9 701.1 L476.6 694.6 L477.2 699.8 L477.9 694.3 L478.5 699.8 L479.1 694.2 L479.6 700.7 L480.7 693.8 L481.6 699.6 L482.3 694.3 L482.9 698.8 L483.4 693.2 L483.9 698.6 L484.6 693.1 L485.4 698.5 L485.9 694.5 L486.5 699.2 L487 694.2 L487.6 699.9 L488.2 696 L488.8 700.2 L489.4 696.7 L490.1 700.4 L490.7 696.7 L491.4 702.1 L492.1 697.9 L492.8 702.1 L493.5 699 L494.2 702.9 L494.7 700 L495.3 703.5 L495.8 699.9 L496.4 705.1 L496.9 701.6 L497.5 705.8 L498 701.7 L498.6 706.5 L499.2 703.2 L499.8 707.1 L500.4 703.3 L501 708.1 L501.7 703.9 L502.3 708 L503 705.3 L503.7 709.1 L504.4 705.6 L505.1 710.7 L505.9 705 L506.5 711.1 L507.1 705.4 L507.8 711.5 L508.5 705 L509.1 711 L509.9 705.2 L510.6 712.9 L511.3 706.2 L512.1 711.9 L512.8 705.8 L513.6 712.9 L514.4 705.5 L515.1 711.4 L515.9 705.7 L516.6 712.5 L517.4 705.3 L518.1 711 L518.9 704.7 L519.6 711.5 L520.3 706.3 L520.9 712.2 L521.6 704.8 L522.2 712 L522.8 706 L523.4 710.5 L524.3 704.6 L525.2 711.1 L526 706.2 L526.8 710.4 L527.6 706.5 L528.3 709.3 L529 706.3 L529.6 708.2 L530.3 706.6 L530.9 707.5 L531.5 706.2 L532 706.5 L532.6 705.4 L533.1 705.2 L533.6 704 L533.8 703.9 L534.1 703.1 L534.3 702.9 L534.5 702.1 L534.7 701.8 L534.9 701 L535.1 700.5 L535.3 699.7 L535.4 699.1 L535.6 698.3 L535.8 697.7 L535.9 696.9 L536.1 696.2 L536.2 695.4 L536.3 694.7 L536.5 693.8 L536.6 693.1 L536.7 692.2 L536.8 691.5 L536.9 690.7 L537.1 689.9 L537.2 689.1 L537.3 688.3 L537.4 687.5 L537.5 686.8 L537.6 686 L537.8 685.2 L537.9 684.5 L538 683.8 L538.1 683.1 L538.2 682.4 L538.4 681.6 L538.5 680.9 L538.6 680.1 L538.7 679.3 L538.8 678.6 L538.9 677.8 L539 677 L539.1 676.2 L539.2 675.5 L539.3 674.7 L539.4 673.9 L539.5 673.1 L539.6 672.4 L539.7 671.6 L539.8 670.9 L539.9 670.1 L540 669.4 L540.1 668.7 L540.2 668 L540.3 667.4 L540.4 666.7 L540.5 666.1 L540.5 665.5 L540.6 664.9 L540.7 664.4 L540.8 663.9 L540.9 663.4 L541.1 662.1 L541.4 661 L541.6 659.9 L541.8 659 L542 658.3 L542.3 657.7 L542.5 657.2 L542.7 656.9 L542.9 656.7 L543.1 656.6 L543.3 656.6 L543.5 656.8 L543.7 657 L543.9 657.3 L544.2 657.8 L544.4 658.5 L544.6 659.4 L544.8 660.5 L545.1 661.8 L545.3 663.4 L545.4 663.9 L545.4 664.3 L545.5 664.9 L545.6 665.4 L545.6 666 L545.7 666.6 L545.8 667.2 L545.8 667.9 L545.9 668.5 L546 669.2 L546.1 669.9 L546.1 670.6 L546.2 671.4 L546.3 672.1 L546.4 672.9 L546.4 673.7 L546.5 674.4 L546.6 675.2 L546.7 676 L546.7 676.8 L546.8 677.6 L546.9 678.4 L547 679.3 L547.1 680.1 L547.1 680.9 L547.2 681.7 L547.3 682.5 L547.4 683.3 L547.4 684 L547.5 684.8 L547.6 685.6 L547.7 686.3 L547.7 687.1 L547.8 687.8 L547.9 688.5 L548 689.2 L548.1 689.8 L548.1 690.5 L548.2 691.1 L548.3 691.9 L548.4 692.8 L548.5 693.6 L548.6 694.5 L548.7 695.3 L548.8 696.1 L548.9 697 L548.9 697.8 L549 698.6 L549.1 699.4 L549.2 700.2 L549.3 701 L549.4 701.7 L549.5 702.5 L549.6 703.2 L549.6 703.9 L549.7 704.6 L549.8 705.3 L549.9 706 L550.1 706.6 L550.2 707.3 L550.3 707.9 L550.4 708.4 L550.5 709 L550.7 709.5 L550.8 710.1 L550.9 710.5 L551.1 711 L551.5 712 L551.9 713 L552.4 713.5 L552.9 714.3 L553.4 714.6 L553.9 715.3 L554.5 714.9 L555.1 716.2 L555.7 714.9 L556.3 717.5 L557 714.5 L557.6 719.3 L558.2 712.6 L558.9 719.4 L559.6 712.1 L560.3 719.1 L561 712.2 L561.7 719.3 L562.5 711.1 L563.2 717.8 L564 710.2 L564.8 718.8 L565.6 711.4 L566.4 718.3 L567 710.8 L567.6 717.6 L568.2 710.6 L568.9 716.9 L569.5 709 L570.2 715.5 L570.9 709.3 L571.5 715 L572.2 709.2 L572.9 713.3 L573.6 709 L574.2 712.9 L574.9 708.9 L575.5 711.7 L576.1 708.5 L576.7 710.3 L577.3 707.5 L577.8 709 L578.2 706.7 L578.7 708.2 L579.1 706.1 L579.5 706.9 L580 704.9 L580.4 705.7 L580.8 704.2 L581.1 704.6 L581.5 703 L581.9 703.1 L582.3 701.6 L582.6 701.8 L583 700.3 L583.3 700.3 L583.6 699.1 L583.9 698.8 L584.2 697.5 L584.5 697.4 L584.8 696.2 L585.1 695.9 L585.4 694.7 L585.6 694.5 L585.8 693.6 L586 693.4 L586.2 692.5 L586.3 692.2 L586.5 691.5 L586.7 691.1 L586.8 690.4 L587 690 L587.1 689.4 L587.2 688.9 L587.4 688.3 L587.5 687.8 L587.6 687.1 L587.8 686.5 L587.9 685.8 L588 685.2 L588.1 684.4 L588.2 683.7 L588.4 682.9 L588.5 682 L588.6 681.1 L588.7 680.2 L588.8 679.2 L588.9 678.2 L589.1 677.1 L589.2 675.9 L589.3 675.4 L589.3 674.9 L589.4 674.4 L589.4 674 L589.5 673.5 L589.5 673.1 L589.6 672.6 L589.6 672.2 L589.7 671.8 L589.7 671.3 L589.8 670.9 L589.9 670.5 L589.9 670.1 L590 669.7 L590 669.2 L590.1 668.8 L590.1 668.4 L590.2 668 L590.3 667.6 L590.3 667.1 L590.4 666.7 L590.4 666.2 L590.5 665.8 L590.5 665.3 L590.6 664.9 L590.6 664.4 L590.7 663.9 L590.7 663.4 L590.8 662.9 L590.9 662.4 L590.9 661.9 L591 661.3 L591 660.8 L591.1 660.2 L591.1 659.6 L591.2 659 L591.2 658.4 L591.3 657.7 L591.3 657 L591.4 656.4 L591.4 655.6 L591.5 654.9 L591.5 654.2 L591.6 653.4 L591.6 652.6 L591.7 651.7 L591.7 650.9 L591.7 650 L591.8 649.1 L591.8 648.1 L591.9 647.2 L591.9 646.2 L592 645.1 L592 644.1 L592 643 L592.1 641.8 L592.1 640.7 L592.2 639.5 L592.2 638.2 L592.2 637 L592.3 635.7 L592.3 634.3 L592.3 632.9 L592.4 631.5 L592.4 630 L592.4 629.5 L592.4 629.1 L592.4 628.6 L592.4 628.1 L592.4 627.6 L592.5 627.1 L592.5 626.5 L592.5 626 L592.5 625.4 L592.5 624.9 L592.5 624.3 L592.5 623.7 L592.5 623.1 L592.5 622.5 L592.5 621.9 L592.5 621.3 L592.5 620.7 L592.6 620.1 L592.6 619.4 L592.6 618.8 L592.6 618.1 L592.6 617.4 L592.6 616.8 L592.6 616.1 L592.6 615.4 L592.6 614.7 L592.6 614 L592.6 613.2 L592.6 612.5 L592.6 611.8 L592.6 611 L592.7 610.3 L592.7 609.5 L592.7 608.8 L592.7 608 L592.7 607.2 L592.7 606.4 L592.7 605.7 L592.7 604.9 L592.7 604.1 L592.7 603.3 L592.7 602.4 L592.7 601.6 L592.7 600.8 L592.7 600 L592.7 599.1 L592.7 598.3 L592.7 597.4 L592.7 596.6 L592.8 595.7 L592.8 594.9 L592.8 594 L592.8 593.1 L592.8 592.3 L592.8 591.4 L592.8 590.5 L592.8 589.6 L592.8 588.7 L592.8 587.8 L592.8 586.9 L592.8 586 L592.8 585.1 L592.8 584.2 L592.8 583.3 L592.8 582.4 L592.8 581.4 L592.8 580.5 L592.8 579.6 L592.8 578.7 L592.8 577.7 L592.8 576.8 L592.8 575.9 L592.9 574.9 L592.9 574 L592.9 573 L592.9 572.1 L592.9 571.1 L592.9 570.2 L592.9 569.2 L592.9 568.3 L592.9 567.4 L592.9 566.4 L592.9 565.4 L592.9 564.5 L592.9 563.5 L592.9 562.6 L592.9 561.6 L592.9 560.7 L592.9 559.7 L592.9 558.8 L592.9 557.8 L592.9 556.9 L592.9 555.9 L592.9 555 L592.9 554 L592.9 553 L592.9 552.1 L592.9 551.1 L592.9 550.2 L592.9 549.3 L592.9 548.3 L592.9 547.4 L592.9 546.4 L592.9 545.5 L592.9 544.5 L592.9 543.6 L593 542.7 L593 541.7 L593 540.8 L593 539.9 L593 538.9 L593 538 L593 537.1 L593 536.2 L593 535.3 L593 534.4 L593 533.5 L593 532.6 L593 531.7 L593 530.8 L593 529.9 L593 529 L593 528.1 L593 527.2 L593 526.3 L593 525.5 L593 524.6 L593 523.8 L593 522.9 L593 522 L593 521.2 L593 520.4 L593 519.5 L593 518.7 L593 517.9 L593 517.1 L593 516.2 L593 515.4 L593 514.6 L593 513.8 L593 513.1 L593 512.3 L593 511.5 L593 510.7 L593 510 L593 509.2 L593 508.5 L593 507.7 L593 507 L593 506.3 L593 505.6 L593 504.9 L593 504.2 L593 503.5 L593 502.8 L593.1 502.1 L593.1 501.5 L593.1 500.8 L593.1 500.1 L593.1 499.5 L593.1 498.9 L593.1 498.3 L593.1 497.6 L593.1 497 L593.1 496.4 L593.1 495.9 L593.1 495.3 L593.1 494.7 L593.1 494.2 L593.1 493.6 L593.1 493.1 L593.1 492.6 L593.1 492 L593.1 491.5 L593.1 491 L593.1 490.6 L593.1 490.1 L593.1 489.6 L593.1 489.2 L593.1 488.7 L593.1 488.3 L593.1 487.9 L593.1 487.5 L593.1 487.1 L593.1 486.7 L593.1 486.4 L593.1 486 L593.1 485.7 L593.1 485.3 L593.1 485 L593.1 484.7 L593.1 484.4 L593.1 484.2 L593.1 483.9 L593.1 483.6 L593.1 483.4 L593.1 483.2 L593.2 483 L593.2 482.8 L593.2 482.6 L593.2 482.4 L593.2 482.3 L593.2 482.1 L593.2 482 L593.2 481.9 L593.2 481.8 L593.2 481.7 L593.2 481.6 L593.2 481.6 L593.2 481.5 L593.2 481.5 L593.2 481.5 L593.2 481.5 L593.2 481.5 L593.2 481.6 L593.2 481.6 L593.2 481.7 L593.2 481.8 L593.2 481.9 L593.2 482 L593.2 482.1 L593.2 482.3 L593.2 482.4 L593.2 482.6 L593.2 482.8 L593.3 483 L593.3 483.2 L593.3 483.4 L593.3 483.7 L593.3 483.9 L593.3 484.2 L593.3 484.5 L593.3 484.7 L593.3 485.1 L593.3 485.4 L593.3 485.7 L593.3 486.1 L593.3 486.4 L593.3 486.8 L593.3 487.2 L593.3 487.6 L593.3 488 L593.3 488.4 L593.3 488.8 L593.3 489.2 L593.3 489.7 L593.3 490.2 L593.3 490.6 L593.3 491.1 L593.3 491.6 L593.3 492.1 L593.3 492.6 L593.3 493.2 L593.3 493.7 L593.4 494.3 L593.4 494.8 L593.4 495.4 L593.4 496 L593.4 496.6 L593.4 497.2 L593.4 497.8 L593.4 498.4 L593.4 499 L593.4 499.6 L593.4 500.3 L593.4 500.9 L593.4 501.6 L593.4 502.3 L593.4 503 L593.4 503.6 L593.4 504.3 L593.4 505 L593.4 505.8 L593.4 506.5 L593.4 507.2 L593.4 507.9 L593.4 508.7 L593.4 509.4 L593.4 510.2 L593.4 510.9 L593.4 511.7 L593.4 512.5 L593.4 513.3 L593.4 514.1 L593.4 514.9 L593.5 515.7 L593.5 516.5 L593.5 517.3 L593.5 518.1 L593.5 519 L593.5 519.8 L593.5 520.6 L593.5 521.5 L593.5 522.3 L593.5 523.2 L593.5 524 L593.5 524.9 L593.5 525.8 L593.5 526.6 L593.5 527.5 L593.5 528.4 L593.5 529.3 L593.5 530.2 L593.5 531.1 L593.5 532 L593.5 532.9 L593.5 533.8 L593.5 534.7 L593.5 535.6 L593.5 536.5 L593.5 537.5 L593.5 538.4 L593.5 539.3 L593.5 540.2 L593.5 541.2 L593.5 542.1 L593.6 543 L593.6 544 L593.6 544.9 L593.6 545.9 L593.6 546.8 L593.6 547.7 L593.6 548.7 L593.6 549.6 L593.6 550.6 L593.6 551.5 L593.6 552.5 L593.6 553.4 L593.6 554.4 L593.6 555.4 L593.6 556.3 L593.6 557.3 L593.6 558.2 L593.6 559.2 L593.6 560.1 L593.6 561.1 L593.6 562.1 L593.6 563 L593.6 564 L593.6 564.9 L593.6 565.9 L593.6 566.8 L593.6 567.8 L593.6 568.7 L593.7 569.7 L593.7 570.6 L593.7 571.6 L593.7 572.5 L593.7 573.5 L593.7 574.4 L593.7 575.4 L593.7 576.3 L593.7 577.2 L593.7 578.2 L593.7 579.1 L593.7 580 L593.7 580.9 L593.7 581.9 L593.7 582.8 L593.7 583.7 L593.7 584.6 L593.7 585.5 L593.7 586.4 L593.7 587.3 L593.7 588.2 L593.7 589.1 L593.7 590 L593.7 590.9 L593.7 591.8 L593.7 592.7 L593.8 593.5 L593.8 594.4 L593.8 595.3 L593.8 596.1 L593.8 597 L593.8 597.8 L593.8 598.7 L593.8 599.5 L593.8 600.4 L593.8 601.2 L593.8 602 L593.8 602.8 L593.8 603.6 L593.8 604.4 L593.8 605.2 L593.8 606 L593.8 606.8 L593.8 607.6 L593.8 608.3 L593.8 609.1 L593.8 609.9 L593.8 610.6 L593.8 611.4 L593.9 612.1 L593.9 612.8 L593.9 613.5 L593.9 614.2 L593.9 614.9 L593.9 615.6 L593.9 616.3 L593.9 617 L593.9 617.7 L593.9 618.3 L593.9 619 L593.9 619.6 L593.9 620.3 L593.9 620.9 L593.9 621.5 L593.9 622.1 L593.9 622.7 L593.9 623.3 L593.9 623.9 L593.9 624.4 L593.9 625 L594 625.6 L594 626.1 L594 626.6 L594 627.1 L594 627.6 L594 628.1 L594 628.6 L594 629.1 L594 629.5 L594 630 L594 631.6 L594 633.2 L594.1 634.7 L594.1 636.1 L594.1 637.5 L594.1 638.9 L594.1 640.2 L594.2 641.4 L594.2 642.6 L594.2 643.8 L594.2 644.9 L594.2 645.9 L594.3 646.9 L594.3 647.9 L594.3 648.8 L594.3 649.7 L594.3 650.5 L594.4 651.4 L594.4 652.1 L594.4 652.9 L594.4 653.6 L594.5 654.3 L594.5 654.9 L594.5 655.6 L594.5 656.2 L594.5 656.7 L594.6 657.3 L594.6 657.8 L594.6 658.3 L594.6 658.8 L594.7 659.3 L594.7 659.8 L594.7 660.2 L594.7 660.6 L594.8 661 L594.8 661.4 L594.8 661.8 L594.9 662.2 L594.9 662.6 L594.9 663 L594.9 663.4 L595 663.7 L595 664.1 L595 664.5 L595.1 664.8 L595.1 665.2 L595.1 665.6 L595.2 666 L595.2 666.4 L595.2 666.8 L595.3 667.2 L595.3 667.6 L595.3 668.1 L595.4 668.5 L595.4 669 L595.5 669.5 L595.5 670 L595.6 671.1 L595.7 672.1 L595.8 673.1 L595.8 674 L595.9 674.9 L596 675.7 L596.1 676.5 L596.2 677.3 L596.3 678 L596.4 678.7 L596.5 679.4 L596.6 680.1 L596.7 680.7 L596.8 681.3 L597 682 L597.1 682.6 L597.2 683.1 L597.3 683.7 L597.4 684.3 L597.6 684.9 L597.7 685.5 L597.8 686.1 L598 686.7 L598.1 687.3 L598.3 687.9 L598.4 688.5 L598.6 689.2 L598.8 689.9 L598.9 690.6 L599.1 691.4 L599.3 692.1 L599.5 692.9 L599.6 693.6 L599.8 694.4 L600 695 L600.1 695.9 L600.3 696.5 L600.5 697.3 L600.7 698 L600.9 698.8 L601.1 699.4 L601.3 700.2 L601.6 700.7 L601.8 701.6 L602.1 702 L602.3 702.9 L602.6 703.2 L602.9 704.3 L603.2 704.4 L603.6 705.5 L603.9 705.4 L604.3 706.8 L604.7 706.3 L605.2 708.1 L605.6 707.1 L606.1 709.8 L606.6 708 L607.1 711.1 L607.7 708.6 L608.2 712.4 L608.8 709.3 L609.4 713.8 L609.9 709.1 L610.5 714.9 L611.1 709.9 L611.8 714.9 L612.4 710.4 L613 717 L613.7 711.8 L614.3 718.2 L615 710.6 L615.6 719.5 L616.3 711.8 L616.9 718.5 L617.6 712.5 L618.2 718.7 L618.9 711.7 L619.6 722.1 L620.3 712.1 L621 721.2 L621.7 712.7 L622.5 722.5 L623.2 711.8 L624 721.2 L624.7 709.9 L625.5 722.8 L626.3 710.6 L627 722.9 L627.8 712.2 L628.5 722.8 L629.3 710.4 L630 722.3 L630.7 711.2 L631.4 721.5 L632.1 712 L632.8 721.3 L633.5 710.5 L634.1 721.4 L634.7 710.4 L635.5 721.2 L636.3 710.1 L637.1 722 L637.9 711.4 L638.6 720.2 L639.3 709.7 L640 719.9 L640.7 711.4 L641.3 717.4 L642 710.3 L642.6 717.2 L643.2 711.2 L643.8 716.3 L644.4 711 L645 714.3 L645.5 710.7 L646.1 713.2 L646.6 710 L647.2 712.8 L647.7 709.5 L648.1 711.4 L648.6 709.1 L649.1 710.4 L649.5 707.8 L649.9 709.2 L650.3 706.8 L650.8 707.6 L651.2 705.9 L651.6 706.5 L652 704.6 L652.4 705 L652.8 703.3 L653.3 703.7 L653.7 702 L654 702.5 L654.3 701.1 L654.7 701.1 L655 699.8 L655.3 699.8 L655.7 698.6 L656 698.3 L656.3 697.1 L656.7 697 L657 695.7 L657.3 695.5 L657.7 694.3 L658 694 L658.3 692.9 L658.7 692.6 L659 691.6 L659.3 691.2 L659.6 690.3 L659.9 689.9 L660.2 689.1 L660.5 688.8 L660.8 688.1 L661 687.8 L661.3 687.2 L662 686.3 L662.7 685.3 L663.3 684.7 L663.8 684.1 L664.4 683.9 L664.9 683.5 L665.4 683.7 L666 683.5 L666.5 683.9 L667 684 L667.5 684.7 L668 685.1 L668.5 685.9 L669 686.4 L669.4 687.3 L669.9 687.9 L670.4 688.7 L670.8 689.1 L671.3 689.9 L671.8 690.5 L672.3 691.4 L672.7 691.9 L673.2 692.8 L673.6 693.3 L673.9 694.1 L674.3 694.4 L674.5 695" fill="none" stroke="#d95319" stroke-width="4.2" stroke-linejoin="round" stroke-linecap="round"/>
<line x1="263.5" y1="444" x2="263.5" y2="640" stroke="#d95319" stroke-width="4.6"/>
<line x1="428.3" y1="554.6" x2="428.3" y2="688" stroke="#d95319" stroke-width="3.8"/>
<line x1="593.2" y1="479.5" x2="593.2" y2="680" stroke="#d95319" stroke-width="3.8"/>
<path d="M110.1 728.2 L110.3 728.6 L110.5 729 L110.8 729.5 L111 730 L111.3 730.6 L111.7 731.3 L112 732 L112.4 732.7 L112.7 733.4 L113.1 734.1 L113.5 734.9 L113.9 735.6 L114.2 736.3 L114.6 737.1 L114.9 737.7 L115.2 738.4 L115.5 739.1 L115.8 739.8 L116.1 740.5 L116.4 741.2 L116.7 741.9 L116.9 742.6 L117.2 743.3 L117.5 744 L117.8 744.7 L118.1 745.4 L118.3 746.1 L118.6 746.7 L118.9 747.4 L119.3 748 L119.6 748.6 L120 749.3 L120.4 749.9 L120.8 750.6 L121.2 751.2 L121.6 751.8 L122 752.4 L122.4 753 L122.9 753.5 L123.3 754.1 L123.8 754.6 L124.3 755 L124.9 755.5 L125.4 755.9 L126 756.3 L126.6 756.6 L127.2 756.9 L127.8 757.2 L128.5 757.4 L129.2 757.7 L129.9 757.9 L130.6 758 L131.3 758.2 L132 758.4 L132.7 758.5 L133.5 758.7 L134.2 758.8 L134.9 759 L135.6 759.2 L136.4 759.4 L137.2 759.6 L138 759.8 L138.9 760.1 L139.7 760.2 L140.5 760.4 L141.2 760.5 L142 760.5 L142.7 760.4 L143.3 760.3 L143.9 760 L144.4 759.6 L144.7 759.3 L145 758.9 L145.2 758.5 L145.5 758 L145.6 757.5 L145.8 757 L146 756.4 L146.1 755.8 L146.2 755.2 L146.3 754.5 L146.4 753.8 L146.5 753 L146.6 752.2 L146.7 751.4 L146.8 750.6 L146.8 749.7 L146.9 748.7 L147.1 747.8 L147.2 746.7 L147.3 745.7 L147.4 745.2 L147.4 744.6 L147.5 743.9 L147.6 743.2 L147.6 742.5 L147.7 741.8 L147.8 741 L147.8 740.2 L147.9 739.3 L148 738.4 L148 737.6 L148.1 736.6 L148.2 735.7 L148.2 734.8 L148.3 733.9 L148.4 732.9 L148.4 732 L148.5 731 L148.6 730.1 L148.6 729.1 L148.7 728.2 L148.8 727.3 L148.8 726.4 L148.9 725.6 L149 724.7 L149 723.9 L149.1 723.1 L149.2 722.4 L149.2 721.6 L149.3 721 L149.4 720.3 L149.4 719.7 L149.5 719.2 L149.6 718.7 L149.6 718.3 L149.7 717.9 L149.7 717.6 L149.8 717.3 L149.9 717.2 L149.9 717 L150 717 L150.1 717 L150.1 717.1 L150.2 717.3 L150.2 717.6 L150.3 717.9 L150.4 718.3 L150.4 718.7 L150.5 719.2 L150.5 719.7 L150.6 720.3 L150.6 720.9 L150.7 721.6 L150.8 722.3 L150.8 723 L150.9 723.8 L150.9 724.6 L151 725.5 L151 726.3 L151.1 727.2 L151.2 728.1 L151.2 729 L151.3 729.9 L151.3 730.9 L151.4 731.8 L151.4 732.7 L151.5 733.7 L151.5 734.6 L151.6 735.6 L151.7 736.5 L151.7 737.4 L151.8 738.3 L151.8 739.2 L151.9 740 L152 740.8 L152 741.6 L152.1 742.4 L152.1 743.2 L152.2 743.9 L152.3 744.5 L152.3 745.1 L152.4 745.7 L152.5 746.7 L152.6 747.6 L152.7 748.5 L152.7 749.4 L152.8 750.3 L152.8 751.1 L152.9 752 L152.9 752.8 L153 753.6 L153 754.3 L153.1 755.1 L153.1 755.8 L153.2 756.4 L153.3 757.1 L153.4 757.7 L153.6 758.3 L153.7 758.9 L153.9 759.5 L154.1 760 L154.4 760.5 L154.7 761 L155 761.4 L155.4 761.8 L155.8 762.2 L156.3 762.5 L156.8 762.8 L157.3 763.1 L157.9 763.3 L158.5 763.4 L159.1 763.6 L159.8 763.7 L160.5 763.8 L161.2 763.8 L161.9 763.9 L162.6 763.9 L163.4 763.9 L164.1 763.9 L164.9 763.9 L165.7 763.9 L166.5 763.8 L167.4 763.8 L168.2 763.8 L169 763.8 L169.9 763.9 L170.7 763.9 L171.3 763.9 L172 764 L172.6 764 L173.3 764.1 L174 764.1 L174.8 764.2 L175.5 764.3 L176.3 764.3 L177.1 764.4 L177.9 764.4 L178.7 764.5 L179.5 764.6 L180.3 764.6 L181.1 764.7 L181.9 764.7 L182.7 764.7 L183.5 764.8 L184.3 764.8 L185.1 764.8 L185.9 764.8 L186.6 764.8 L187.3 764.8 L188 764.7 L188.7 764.7 L189.4 764.6 L190 764.5 L190.6 764.4 L191.1 764.3 L191.7 764.2 L192.2 764.1 L192.6 763.9 L193.4 763.5 L194 763.2 L194.5 762.8 L195 762.3 L195.3 761.9 L195.6 761.4 L195.8 760.8 L196 760.2 L196.1 759.5 L196.3 758.8 L196.4 758 L196.4 757.2 L196.5 756.3 L196.7 755.3 L196.8 754.2 L197 753 L197.1 752.5 L197.2 752 L197.3 751.4 L197.3 750.9 L197.4 750.3 L197.5 749.7 L197.6 749.1 L197.6 748.4 L197.7 747.7 L197.8 747.1 L197.9 746.4 L197.9 745.7 L198 745 L198.1 744.2 L198.1 743.5 L198.2 742.8 L198.3 742 L198.3 741.3 L198.4 740.5 L198.4 739.7 L198.5 739 L198.6 738.2 L198.6 737.4 L198.7 736.6 L198.7 735.9 L198.8 735.1 L198.8 734.3 L198.9 733.5 L198.9 732.8 L199 732 L199 731.3 L199.1 730.5 L199.2 729.8 L199.2 729.1 L199.3 728.4 L199.3 727.7 L199.4 727 L199.4 726.3 L199.5 725.6 L199.5 725 L199.6 724.2 L199.6 723.4 L199.7 722.5 L199.7 721.6 L199.8 720.7 L199.8 719.8 L199.9 718.9 L199.9 717.9 L200 717 L200 716 L200.1 715.1 L200.1 714.1 L200.2 713.2 L200.2 712.3 L200.2 711.4 L200.3 710.5 L200.3 709.7 L200.4 708.9 L200.4 708.1 L200.4 707.3 L200.5 706.6 L200.5 705.9 L200.5 705.3 L200.6 704.7 L200.6 704.2 L200.7 703.8 L200.7 703.4 L200.7 703 L200.8 702.8 L200.8 702.6 L200.9 702.4 L200.9 702.4 L200.9 702.4 L201 702.6 L201 702.8 L201.1 703 L201.1 703.4 L201.1 703.8 L201.2 704.2 L201.2 704.8 L201.3 705.3 L201.3 706 L201.3 706.7 L201.4 707.4 L201.4 708.1 L201.4 708.9 L201.5 709.7 L201.5 710.6 L201.6 711.5 L201.6 712.4 L201.6 713.3 L201.7 714.2 L201.7 715.2 L201.8 716.1 L201.8 717 L201.8 718 L201.9 718.9 L201.9 719.8 L202 720.8 L202 721.7 L202.1 722.5 L202.1 723.4 L202.2 724.2 L202.2 725 L202.2 725.7 L202.3 726.3 L202.3 727 L202.4 727.7 L202.4 728.5 L202.4 729.2 L202.5 729.9 L202.5 730.7 L202.6 731.5 L202.6 732.2 L202.7 733 L202.7 733.8 L202.7 734.6 L202.8 735.3 L202.8 736.1 L202.9 736.9 L202.9 737.7 L203 738.5 L203 739.3 L203.1 740.1 L203.1 740.8 L203.2 741.6 L203.2 742.3 L203.2 743.1 L203.3 743.8 L203.3 744.6 L203.4 745.3 L203.4 746 L203.5 746.7 L203.6 747.3 L203.6 748 L203.7 748.6 L203.7 749.2 L203.8 749.8 L203.8 750.4 L203.9 751 L203.9 751.5 L204 752 L204.1 753.2 L204.3 754.2 L204.4 755.2 L204.5 756.1 L204.6 756.9 L204.7 757.6 L204.8 758.2 L204.9 758.8 L205 759.3 L205.2 759.9 L205.4 760.3 L205.7 760.8 L206 761.3 L206.3 761.7 L206.7 762.2 L207.2 762.7 L207.7 763.1 L208.2 763.5 L208.8 763.9 L209.5 764.2 L210.2 764.5 L210.9 764.8 L211.6 765.1 L212.4 765.4 L213.1 765.5 L213.9 765.8 L214.6 766 L215.4 766.3 L216.2 766.4 L216.9 766.6 L217.6 766.7 L218.3 767 L219 767 L219.8 767.2 L220.5 767.2 L221.2 767.3 L222 767.3 L222.8 767.5 L223.5 767.4 L224.3 767.6 L225 767.5 L225.7 767.7 L226.5 767.6 L227.2 767.8 L227.9 767.8 L228.6 768.1 L229.3 768.1 L230.1 768.5 L230.8 768.5 L231.5 768.9 L232.2 769.1 L232.9 769.5 L233.6 769.7 L234.3 770.1 L235 770.2 L235.7 770.6 L236.3 770.6 L237 770.9 L237.6 770.9 L238.2 771.1 L238.8 770.9 L239.5 771.1 L240.2 771 L240.9 771.1 L241.6 771.1 L242.2 771.2 L242.9 771.1 L243.5 770.9 L244 770.5 L244.6 769.9 L245.1 769.1 L245.6 768 L246.1 766.6 L246.2 766.2 L246.3 765.8 L246.4 765.3 L246.5 764.9 L246.6 764.4 L246.7 763.9 L246.8 763.3 L246.9 762.8 L247 762.2 L247.1 761.7 L247.2 761.1 L247.3 760.5 L247.4 759.9 L247.5 759.2 L247.5 758.6 L247.6 757.9 L247.7 757.3 L247.8 756.6 L247.9 755.9 L247.9 755.2 L248 754.4 L248.1 753.7 L248.1 753 L248.2 752.2 L248.3 751.5 L248.4 750.7 L248.4 749.9 L248.5 749.2 L248.6 748.4 L248.6 747.6 L248.7 746.8 L248.7 746 L248.8 745.2 L248.9 744.4 L248.9 743.6 L249 742.8 L249 742 L249.1 741.1 L249.2 740.3 L249.2 739.5 L249.3 738.7 L249.3 737.9 L249.4 737 L249.5 736.2 L249.5 735.4 L249.6 734.6 L249.6 733.8 L249.7 733 L249.7 732.4 L249.8 731.7 L249.8 731 L249.9 730.3 L249.9 729.5 L250 728.8 L250 728 L250.1 727.2 L250.1 726.3 L250.1 725.5 L250.2 724.6 L250.2 723.8 L250.3 722.9 L250.3 722 L250.3 721.1 L250.4 720.1 L250.4 719.2 L250.5 718.3 L250.5 717.3 L250.5 716.4 L250.6 715.4 L250.6 714.5 L250.6 713.5 L250.7 712.6 L250.7 711.7 L250.7 710.7 L250.8 709.8 L250.8 708.8 L250.8 707.9 L250.9 707 L250.9 706.1 L250.9 705.2 L251 704.3 L251 703.4 L251 702.6 L251.1 701.7 L251.1 700.9 L251.1 700.1 L251.2 699.3 L251.2 698.6 L251.2 697.8 L251.3 697.1 L251.3 696.4 L251.3 695.8 L251.4 695.1 L251.4 694.5 L251.4 693.9 L251.5 693.4 L251.5 692.9 L251.5 692.4 L251.6 691.9 L251.6 691.5 L251.6 691.2 L251.7 690.8 L251.7 690.5 L251.7 690.3 L251.8 690.1 L251.8 689.9 L251.8 689.8 L251.9 689.7 L251.9 689.7 L251.9 689.7 L252 689.8 L252 689.9 L252 690.1 L252.1 690.3 L252.1 690.6 L252.1 690.9 L252.2 691.2 L252.2 691.6 L252.3 692 L252.3 692.5 L252.3 693 L252.4 693.5 L252.4 694.1 L252.4 694.7 L252.5 695.3 L252.5 695.9 L252.5 696.6 L252.6 697.3 L252.6 698.1 L252.6 698.8 L252.7 699.6 L252.7 700.4 L252.7 701.2 L252.8 702 L252.8 702.9 L252.8 703.8 L252.9 704.7 L252.9 705.6 L252.9 706.5 L253 707.4 L253 708.3 L253 709.3 L253.1 710.2 L253.1 711.1 L253.1 712.1 L253.2 713 L253.2 714 L253.3 714.9 L253.3 715.9 L253.3 716.8 L253.4 717.8 L253.4 718.7 L253.4 719.7 L253.5 720.6 L253.5 721.5 L253.5 722.4 L253.6 723.3 L253.6 724.1 L253.7 725 L253.7 725.8 L253.7 726.7 L253.8 727.5 L253.8 728.2 L253.9 729 L253.9 729.7 L253.9 730.4 L254 731.1 L254 731.8 L254.1 732.4 L254.1 733 L254.2 733.9 L254.2 734.8 L254.3 735.8 L254.4 736.7 L254.4 737.6 L254.5 738.6 L254.6 739.5 L254.6 740.4 L254.7 741.4 L254.8 742.3 L254.8 743.2 L254.9 744.1 L255 745 L255.1 745.9 L255.1 746.8 L255.2 747.7 L255.3 748.5 L255.4 749.4 L255.4 750.2 L255.5 751 L255.6 751.8 L255.7 752.5 L255.7 753.3 L255.8 754 L255.9 754.7 L256 755.3 L256 755.9 L256.1 756.5 L256.2 757.1 L256.3 757.6 L256.4 758.1 L256.4 758.5 L256.5 759 L256.6 759.3 L256.7 759.7 L256.8 759.9 L256.8 760.2 L256.9 760.4 L257 760.5 L257.1 760.6 L257.3 760.7 L257.4 760.6 L257.5 760.4 L257.7 760.2 L257.8 759.9 L257.9 759.4 L258.1 759 L258.2 758.4 L258.4 757.8 L258.5 757.1 L258.6 756.4 L258.8 755.6 L258.9 754.8 L259.1 753.9 L259.2 752.9 L259.4 751.9 L259.5 750.9 L259.6 749.9 L259.8 748.8 L259.9 747.7 L260 746.6 L260.1 745.5 L260.3 744.3 L260.4 743.2 L260.5 742 L260.5 741.5 L260.6 741 L260.6 740.5 L260.7 740 L260.7 739.5 L260.8 739 L260.8 738.5 L260.9 738 L260.9 737.5 L261 737 L261 736.5 L261.1 736 L261.1 735.5 L261.1 735 L261.2 734.5 L261.2 734 L261.3 733.5 L261.3 733 L261.4 732.4 L261.4 731.9 L261.4 731.3 L261.5 730.8 L261.5 730.2 L261.6 729.7 L261.6 729.1 L261.6 728.5 L261.7 727.9 L261.7 727.3 L261.8 726.7 L261.8 726.1 L261.8 725.5 L261.9 724.8 L261.9 724.2 L262 723.5 L262 722.8 L262 722.1 L262.1 721.4 L262.1 720.7 L262.1 719.9 L262.2 719.2 L262.2 718.4 L262.2 717.6 L262.3 716.8 L262.3 716 L262.3 715.1 L262.4 714.3 L262.4 713.4 L262.4 712.5 L262.5 711.6 L262.5 710.6 L262.5 709.7 L262.6 708.7 L262.6 707.7 L262.6 706.7 L262.7 705.6 L262.7 704.5 L262.7 703.4 L262.7 702.3 L262.8 701.2 L262.8 700 L262.8 699.5 L262.8 699 L262.8 698.5 L262.8 697.9 L262.9 697.4 L262.9 696.9 L262.9 696.3 L262.9 695.8 L262.9 695.2 L262.9 694.6 L262.9 694.1 L262.9 693.5 L262.9 692.9 L263 692.3 L263 691.7 L263 691.1 L263 690.5 L263 689.8 L263 689.2 L263 688.6 L263 688 L263 687.3 L263 686.7 L263.1 686 L263.1 685.3 L263.1 684.7 L263.1 684 L263.1 683.3 L263.1 682.7 L263.1 682 L263.1 681.3 L263.1 680.6 L263.1 679.9 L263.1 679.2 L263.1 678.5 L263.2 677.8 L263.2 677.1 L263.2 676.4 L263.2 675.6 L263.2 674.9 L263.2 674.2 L263.2 673.4 L263.2 672.7 L263.2 672 L263.2 671.2 L263.2 670.5 L263.2 669.7 L263.3 669 L263.3 668.2 L263.3 667.5 L263.3 666.7 L263.3 665.9 L263.3 665.2 L263.3 664.4 L263.3 663.6 L263.3 662.9 L263.3 662.1 L263.3 661.3 L263.3 660.5 L263.3 659.8 L263.3 659 L263.4 658.2 L263.4 657.4 L263.4 656.6 L263.4 655.9 L263.4 655.1 L263.4 654.3 L263.4 653.5 L263.4 652.7 L263.4 651.9 L263.4 651.1 L263.4 650.3 L263.4 649.5 L263.4 648.8 L263.4 648 L263.4 647.2 L263.4 646.4 L263.5 645.6 L263.5 644.8 L263.5 644 L263.5 643.2 L263.5 642.4 L263.5 641.6 L263.5 640.8 L263.5 640.1 L263.5 639.3 L263.5 638.5 L263.5 637.7 L263.5 636.9 L263.5 636.1 L263.5 635.4 L263.5 634.6 L263.5 633.8 L263.5 633 L263.6 632.3 L263.6 631.5 L263.6 630.7 L263.6 630 L263.6 629.2 L263.6 628.4 L263.6 627.7 L263.6 626.9 L263.6 626.2 L263.6 625.4 L263.6 624.7 L263.6 623.9 L263.6 623.2 L263.6 622.4 L263.6 621.7 L263.6 621 L263.6 620.2 L263.6 619.5 L263.6 618.8 L263.7 618.1 L263.7 617.4 L263.7 616.7 L263.7 616 L263.7 615.3 L263.7 614.6 L263.7 613.9 L263.7 613.2 L263.7 612.5 L263.7 611.8 L263.7 611.1 L263.7 610.5 L263.7 609.8 L263.7 609.2 L263.7 608.5 L263.7 607.9 L263.7 607.2 L263.7 606.6 L263.7 606 L263.8 605.3 L263.8 604.7 L263.8 604.1 L263.8 603.5 L263.8 602.9 L263.8 602.3 L263.8 601.7 L263.8 601.1 L263.8 600.6 L263.8 600 L263.8 599.1 L263.8 598.1 L263.8 597.2 L263.8 596.2 L263.8 595.2 L263.9 594.3 L263.9 593.3 L263.9 592.3 L263.9 591.4 L263.9 590.4 L263.9 589.4 L263.9 588.4 L263.9 587.4 L263.9 586.5 L263.9 585.5 L263.9 584.5 L263.9 583.5 L263.9 582.5 L263.9 581.6 L264 580.6 L264 579.6 L264 578.6 L264 577.7 L264 576.7 L264 575.8 L264 574.8 L264 573.9 L264 572.9 L264 572 L264 571 L264 570.1 L264 569.2 L264 568.3 L264 567.4 L264 566.5 L264 565.6 L264.1 564.7 L264.1 563.8 L264.1 562.9 L264.1 562.1 L264.1 561.2 L264.1 560.4 L264.1 559.6 L264.1 558.8 L264.1 558 L264.1 557.2 L264.1 556.4 L264.1 555.6 L264.1 554.9 L264.1 554.2 L264.1 553.4 L264.1 552.7 L264.1 552 L264.1 551.4 L264.1 550.7 L264.1 550.1 L264.2 549.4 L264.2 548.8 L264.2 548.2 L264.2 547.6 L264.2 547.1 L264.2 546.5 L264.2 546 L264.2 545.5 L264.2 545 L264.2 544.5 L264.2 544.1 L264.2 543.7 L264.2 543.3 L264.2 542.9 L264.2 542.5 L264.2 542.2 L264.2 541.9 L264.2 541.6 L264.2 541.3 L264.2 541.1 L264.3 540.9 L264.3 540.7 L264.3 540.5 L264.3 540.3 L264.3 540.2 L264.3 540.1 L264.3 540.1 L264.3 540 L264.3 540 L264.3 540 L264.3 540.1 L264.3 540.1 L264.3 540.2 L264.3 540.3 L264.3 540.5 L264.3 540.6 L264.3 540.8 L264.3 541 L264.4 541.3 L264.4 541.6 L264.4 541.8 L264.4 542.1 L264.4 542.5 L264.4 542.8 L264.4 543.2 L264.4 543.6 L264.4 544 L264.4 544.5 L264.4 544.9 L264.4 545.4 L264.4 545.9 L264.4 546.4 L264.4 546.9 L264.4 547.5 L264.4 548 L264.4 548.6 L264.4 549.2 L264.4 549.9 L264.4 550.5 L264.5 551.1 L264.5 551.8 L264.5 552.5 L264.5 553.2 L264.5 553.9 L264.5 554.6 L264.5 555.4 L264.5 556.1 L264.5 556.9 L264.5 557.7 L264.5 558.5 L264.5 559.3 L264.5 560.1 L264.5 560.9 L264.5 561.8 L264.5 562.6 L264.5 563.5 L264.5 564.3 L264.5 565.2 L264.5 566.1 L264.5 567 L264.6 567.9 L264.6 568.8 L264.6 569.7 L264.6 570.7 L264.6 571.6 L264.6 572.5 L264.6 573.5 L264.6 574.4 L264.6 575.4 L264.6 576.4 L264.6 577.3 L264.6 578.3 L264.6 579.3 L264.6 580.2 L264.6 581.2 L264.6 582.2 L264.7 583.2 L264.7 584.2 L264.7 585.2 L264.7 586.2 L264.7 587.2 L264.7 588.2 L264.7 589.2 L264.7 590.1 L264.7 591.1 L264.7 592.1 L264.7 593.1 L264.7 594.1 L264.8 595.1 L264.8 596.1 L264.8 597.1 L264.8 598.1 L264.8 599 L264.8 600 L264.8 600.6 L264.8 601.1 L264.8 601.7 L264.8 602.3 L264.8 602.8 L264.8 603.4 L264.8 604 L264.8 604.6 L264.9 605.2 L264.9 605.8 L264.9 606.4 L264.9 607.1 L264.9 607.7 L264.9 608.3 L264.9 609 L264.9 609.6 L264.9 610.3 L264.9 610.9 L264.9 611.6 L264.9 612.2 L264.9 612.9 L264.9 613.6 L264.9 614.3 L264.9 615 L264.9 615.6 L265 616.3 L265 617 L265 617.7 L265 618.4 L265 619.2 L265 619.9 L265 620.6 L265 621.3 L265 622 L265 622.8 L265 623.5 L265 624.2 L265 625 L265 625.7 L265 626.5 L265 627.2 L265.1 628 L265.1 628.7 L265.1 629.5 L265.1 630.2 L265.1 631 L265.1 631.8 L265.1 632.5 L265.1 633.3 L265.1 634.1 L265.1 634.8 L265.1 635.6 L265.1 636.4 L265.1 637.2 L265.1 638 L265.1 638.7 L265.2 639.5 L265.2 640.3 L265.2 641.1 L265.2 641.9 L265.2 642.7 L265.2 643.5 L265.2 644.2 L265.2 645 L265.2 645.8 L265.2 646.6 L265.2 647.4 L265.2 648.2 L265.2 649 L265.2 649.8 L265.3 650.6 L265.3 651.4 L265.3 652.2 L265.3 653 L265.3 653.7 L265.3 654.5 L265.3 655.3 L265.3 656.1 L265.3 656.9 L265.3 657.7 L265.3 658.5 L265.3 659.3 L265.4 660.1 L265.4 660.8 L265.4 661.6 L265.4 662.4 L265.4 663.2 L265.4 664 L265.4 664.7 L265.4 665.5 L265.4 666.3 L265.4 667.1 L265.4 667.8 L265.4 668.6 L265.4 669.4 L265.5 670.1 L265.5 670.9 L265.5 671.6 L265.5 672.4 L265.5 673.1 L265.5 673.9 L265.5 674.6 L265.5 675.4 L265.5 676.1 L265.5 676.9 L265.5 677.6 L265.6 678.3 L265.6 679 L265.6 679.8 L265.6 680.5 L265.6 681.2 L265.6 681.9 L265.6 682.6 L265.6 683.3 L265.6 684 L265.6 684.7 L265.6 685.4 L265.7 686.1 L265.7 686.8 L265.7 687.4 L265.7 688.1 L265.7 688.8 L265.7 689.4 L265.7 690.1 L265.7 690.7 L265.7 691.4 L265.7 692 L265.8 692.7 L265.8 693.3 L265.8 693.9 L265.8 694.5 L265.8 695.1 L265.8 695.7 L265.8 696.3 L265.8 696.9 L265.8 697.5 L265.9 698.1 L265.9 698.7 L265.9 699.2 L265.9 699.8 L265.9 700.3 L265.9 700.9 L265.9 701.4 L265.9 702 L265.9 702.5 L266 703 L266 703.5 L266 704 L266 704.5 L266 705 L266 706.3 L266.1 707.5 L266.1 708.7 L266.1 709.8 L266.2 711 L266.2 712 L266.2 713.1 L266.3 714.2 L266.3 715.2 L266.3 716.1 L266.3 717.1 L266.4 718 L266.4 718.9 L266.4 719.8 L266.5 720.7 L266.5 721.5 L266.5 722.3 L266.6 723.1 L266.6 723.9 L266.7 724.6 L266.7 725.4 L266.7 726.1 L266.8 726.8 L266.8 727.5 L266.8 728.1 L266.9 728.8 L266.9 729.4 L266.9 730 L267 730.6 L267 731.2 L267.1 731.8 L267.1 732.3 L267.1 732.9 L267.2 733.4 L267.2 734 L267.3 734.5 L267.3 735 L267.4 735.5 L267.4 736.1 L267.4 736.6 L267.5 737.1 L267.5 737.6 L267.6 738 L267.6 738.5 L267.7 739 L267.7 739.5 L267.8 740 L267.8 740.5 L267.9 741 L267.9 741.5 L268 741.9 L268 742.4 L268.1 742.9 L268.1 743.5 L268.2 744 L268.2 744.5 L268.3 745 L268.4 746 L268.5 747 L268.6 748 L268.7 748.9 L268.8 749.8 L268.9 750.6 L269 751.5 L269.1 752.3 L269.2 753 L269.3 753.8 L269.5 754.5 L269.6 755.2 L269.7 755.9 L269.8 756.6 L269.9 757.2 L270 757.9 L270.2 758.5 L270.3 759.1 L270.5 759.7 L270.6 760.2 L270.8 760.8 L270.9 761.4 L271.1 761.9 L271.3 762.4 L271.5 763 L271.7 763.5 L271.9 764.1 L272.2 764.5 L272.4 765.1 L272.8 765.8 L273.2 766.6 L273.6 767.2 L274 768 L274.5 768.4 L274.9 769.2 L275.4 769.6 L275.9 770.3 L276.5 770.7 L277 771.4 L277.5 771.6 L278.1 772.4 L278.6 772.5 L279.2 773.3 L279.8 773.2 L280.3 774.1 L280.9 774.1 L281.5 774.8 L282 774.6 L282.6 775.6 L283.2 775.3 L283.9 776.5 L284.7 775.8 L285.4 776.9 L286.2 776.3 L287 777.3 L287.8 776.7 L288.5 778 L289.3 777 L290.1 778 L290.9 777 L291.6 778.4 L292.3 777 L292.9 778 L293.5 778 L294.1 778.1 L294.6 778.1 L295 778.2 L296.3 778.2 L296.4 777.9 L296.7 776.8 L296.9 776.4 L297.2 776 L297.4 775.6 L297.7 775.1 L298 774.7 L298.2 774 L298.5 773.4 L298.8 772.6 L299.1 771.7 L299.3 770.7 L299.6 769.5 L299.7 769 L299.8 768.4 L299.9 767.7 L300 766.9 L300.1 766.1 L300.2 765.3 L300.3 764.4 L300.3 763.4 L300.4 762.5 L300.5 761.5 L300.6 760.5 L300.7 759.5 L300.8 758.5 L300.9 757.5 L301 756.5 L301.1 755.6 L301.1 754.6 L301.2 753.8 L301.3 752.9 L301.4 752.2 L301.5 751.4 L301.6 750.8 L301.7 750.2 L301.8 749.8 L301.8 749.4 L301.9 749.1 L302 748.9 L302.1 748.9 L302.2 748.9 L302.3 749 L302.3 749.2 L302.4 749.5 L302.4 749.8 L302.5 750.2 L302.6 750.7 L302.6 751.2 L302.7 751.7 L302.7 752.3 L302.8 753 L302.9 753.7 L302.9 754.4 L303 755.2 L303 756 L303.1 756.8 L303.1 757.6 L303.2 758.5 L303.3 759.4 L303.3 760.3 L303.4 761.2 L303.4 762.1 L303.5 763 L303.6 764 L303.6 764.9 L303.7 765.8 L303.7 766.7 L303.8 767.6 L303.9 768.5 L303.9 769.4 L304 770.2 L304.1 771.1 L304.1 771.9 L304.2 772.6 L304.3 773.3 L304.3 774 L304.4 774.7 L304.5 775.3 L304.5 775.8 L304.6 776.4 L304.7 776.8 L305 778.4 L305.3 779.6 L305.5 780.5 L305.7 781 L306 781.5 L306.4 781.7 L306.9 782 L307.6 782.2 L308.4 782.7 L308.9 782.6 L309.4 783.5 L310 782.4 L310.6 784.1 L311.2 783 L311.9 784.4 L312.6 783.4 L313.3 784.8 L314.1 783.4 L314.8 785.3 L315.6 783.8 L316.4 785.4 L317.1 784.1 L317.9 785.7 L318.7 784.1 L319.4 785.9 L320.1 784.1 L320.8 786.4 L321.5 784.6 L322.3 786.6 L323 785.1 L323.8 787.1 L324.6 785 L325.3 787.2 L326.1 785.4 L326.8 787.5 L327.5 786 L328.3 787.7 L329 786.2 L329.7 788.2 L330.4 786.1 L331.1 788.4 L331.8 786.4 L332.5 788.3 L333.2 786 L333.9 787.8 L334.6 785.9 L335.3 787.4 L336 786 L336.6 787 L337.3 785.7 L338 786.5 L338.7 785.5 L339.3 785.7 L340 785 L340.6 784.9 L341.2 784.1 L341.8 783.8 L342.3 782.9 L342.9 782.3 L343.4 781.1 L343.6 780.8 L343.8 780.2 L344 779.9 L344.2 779.3 L344.4 778.9 L344.6 778.2 L344.8 777.8 L345 777.2 L345.2 776.6 L345.3 776 L345.5 775.4 L345.7 774.7 L345.8 774.1 L346 773.4 L346.2 772.8 L346.3 772.1 L346.5 771.4 L346.6 770.7 L346.8 770 L346.9 769.2 L347.1 768.5 L347.2 767.7 L347.4 767 L347.5 766.2 L347.7 765.5 L347.8 764.6 L347.9 763.9 L348 763.1 L348.2 762.3 L348.3 761.5 L348.4 760.7 L348.5 759.8 L348.6 759 L348.8 758.2 L348.9 757.4 L349 756.5 L349.1 755.7 L349.2 754.9 L349.3 754.3 L349.3 753.7 L349.4 753.1 L349.5 752.4 L349.6 751.8 L349.6 751.1 L349.7 750.5 L349.7 749.8 L349.8 749.2 L349.8 748.5 L349.9 747.8 L350 747.1 L350 746.4 L350.1 745.7 L350.1 745 L350.1 744.3 L350.2 743.6 L350.2 742.9 L350.3 742.2 L350.3 741.5 L350.3 740.8 L350.4 740 L350.4 739.3 L350.5 738.6 L350.5 737.9 L350.5 737.1 L350.6 736.4 L350.6 735.6 L350.6 734.9 L350.7 734.2 L350.7 733.4 L350.7 732.7 L350.7 732 L350.8 731.2 L350.8 730.5 L350.8 729.8 L350.9 729 L350.9 728.3 L350.9 727.6 L351 726.8 L351 726.1 L351 725.4 L351.1 724.7 L351.1 724 L351.1 723.3 L351.2 722.5 L351.2 721.8 L351.2 721.1 L351.3 720.5 L351.3 719.8 L351.4 719.1 L351.4 718.4 L351.4 717.7 L351.5 716.9 L351.5 716.1 L351.6 715.3 L351.6 714.4 L351.7 713.6 L351.7 712.7 L351.8 711.8 L351.8 710.9 L351.9 710 L351.9 709.1 L351.9 708.2 L352 707.2 L352 706.3 L352.1 705.4 L352.1 704.4 L352.2 703.5 L352.2 702.6 L352.3 701.6 L352.3 700.7 L352.4 699.8 L352.4 698.9 L352.5 698 L352.5 697.1 L352.5 696.2 L352.6 695.4 L352.6 694.6 L352.7 693.8 L352.7 693 L352.8 692.2 L352.8 691.5 L352.9 690.8 L352.9 690.1 L353 689.4 L353 688.8 L353.1 688.2 L353.1 687.7 L353.1 687.2 L353.2 686.7 L353.2 686.3 L353.3 685.9 L353.3 685.6 L353.4 685.3 L353.4 685 L353.5 684.9 L353.5 684.7 L353.6 684.6 L353.6 684.6 L353.6 684.6 L353.7 684.7 L353.7 684.9 L353.8 685 L353.8 685.3 L353.9 685.6 L353.9 685.9 L353.9 686.3 L354 686.7 L354 687.2 L354.1 687.7 L354.1 688.2 L354.2 688.8 L354.2 689.4 L354.2 690.1 L354.3 690.8 L354.3 691.5 L354.4 692.2 L354.4 693 L354.4 693.8 L354.5 694.6 L354.5 695.4 L354.6 696.2 L354.6 697.1 L354.6 698 L354.7 698.9 L354.7 699.8 L354.8 700.7 L354.8 701.6 L354.9 702.6 L354.9 703.5 L355 704.4 L355 705.4 L355 706.3 L355.1 707.2 L355.1 708.2 L355.2 709.1 L355.2 710 L355.3 710.9 L355.3 711.8 L355.4 712.7 L355.5 713.6 L355.5 714.4 L355.6 715.3 L355.6 716.1 L355.7 716.9 L355.7 717.7 L355.8 718.4 L355.9 719.1 L355.9 719.8 L356 720.5 L356 721.1 L356.1 721.9 L356.1 722.5 L356.2 723.3 L356.3 724 L356.3 724.7 L356.4 725.4 L356.4 726.1 L356.5 726.8 L356.6 727.6 L356.6 728.3 L356.7 729 L356.8 729.8 L356.8 730.5 L356.9 731.2 L357 732 L357 732.7 L357.1 733.4 L357.2 734.2 L357.2 734.9 L357.3 735.6 L357.4 736.4 L357.4 737.1 L357.5 737.9 L357.6 738.6 L357.6 739.3 L357.7 740 L357.8 740.8 L357.9 741.5 L357.9 742.2 L358 742.9 L358.1 743.6 L358.2 744.3 L358.2 745 L358.3 745.7 L358.4 746.4 L358.5 747.1 L358.6 747.8 L358.6 748.5 L358.7 749.2 L358.8 749.8 L358.9 750.5 L359 751.1 L359.1 751.8 L359.1 752.4 L359.2 753.1 L359.3 753.7 L359.4 754.3 L359.5 754.9 L359.6 755.7 L359.8 756.5 L359.9 757.4 L360 758.2 L360.1 759 L360.3 759.8 L360.4 760.6 L360.6 761.4 L360.7 762.2 L360.8 763 L361 763.8 L361.1 764.5 L361.3 765.3 L361.4 766.1 L361.6 766.9 L361.7 767.6 L361.9 768.4 L362 769 L362.2 769.8 L362.3 770.5 L362.5 771.2 L362.6 771.9 L362.8 772.6 L363 773.2 L363.1 773.9 L363.3 774.5 L363.4 775.2 L363.6 775.8 L363.8 776.4 L363.9 777 L364.1 777.6 L364.3 778.1 L364.4 778.8 L364.6 779.2 L364.8 779.8 L365 780.2 L365.1 780.8 L365.3 781.1 L365.7 782.3 L366.1 783.1 L366.5 784.1 L366.9 784.7 L367.3 785.6 L367.7 786 L368.1 786.8 L368.5 787 L369 787.8 L369.4 787.9 L369.9 788.7 L370.4 788.4 L370.9 789.5 L371.4 788.9 L372 790.1 L372.6 789.2 L373.2 790.7 L373.9 789.3 L374.6 791.1 L375.3 789.5 L376 791.7 L376.8 789.9 L377.6 792 L378.4 789.5 L379.2 792.4 L380 789 L380.8 791.9 L381.6 789 L382.4 791.9 L383.1 789.4 L383.9 791.5 L384.5 788.8 L385.2 791.2 L386 788.8 L386.7 790.3 L387.4 789.1 L388.1 790 L388.7 789.2 L389.4 789.6 L390 789 L390.6 789.1 L391.2 788.6 L391.8 788.3 L392.4 787.7 L392.9 787.2 L393.5 786.4 L394 785.5 L394.2 785.1 L394.4 784.7 L394.6 784.2 L394.8 783.7 L395 783.2 L395.2 782.7 L395.4 782.1 L395.6 781.6 L395.8 781 L396 780.4 L396.2 779.8 L396.4 779.2 L396.6 778.6 L396.7 777.9 L396.9 777.2 L397.1 776.6 L397.3 775.9 L397.4 775.1 L397.6 774.4 L397.8 773.7 L397.9 772.9 L398.1 772.2 L398.2 771.4 L398.4 770.6 L398.5 769.8 L398.7 769 L398.8 768.2 L399 767.3 L399.1 766.5 L399.3 765.7 L399.4 764.8 L399.5 763.9 L399.7 763.1 L399.8 762.2 L399.9 761.6 L400 761 L400 760.4 L400.1 759.8 L400.2 759.1 L400.3 758.5 L400.3 757.8 L400.4 757.1 L400.5 756.5 L400.6 755.8 L400.6 755.1 L400.7 754.3 L400.8 753.6 L400.8 752.9 L400.9 752.1 L401 751.4 L401 750.6 L401.1 749.9 L401.1 749.1 L401.2 748.4 L401.2 747.6 L401.3 746.8 L401.4 746.1 L401.4 745.3 L401.5 744.5 L401.5 743.7 L401.6 743 L401.6 742.2 L401.7 741.4 L401.7 740.7 L401.8 739.9 L401.8 739.1 L401.9 738.4 L401.9 737.6 L402 736.9 L402 736.1 L402.1 735.4 L402.1 734.7 L402.1 734 L402.2 733.3 L402.2 732.6 L402.3 731.9 L402.3 731.2 L402.4 730.5 L402.4 729.9 L402.4 729.2 L402.5 728.6 L402.5 728 L402.6 727.4 L402.6 726.8 L402.7 726.3 L402.7 725.7 L402.8 724.7 L402.8 723.6 L402.9 722.6 L403 721.5 L403 720.4 L403.1 719.4 L403.2 718.3 L403.2 717.2 L403.3 716.2 L403.3 715.1 L403.4 714.1 L403.4 713.2 L403.4 712.2 L403.5 711.3 L403.5 710.5 L403.6 709.7 L403.6 708.9 L403.7 708.2 L403.7 707.6 L403.8 707 L403.8 706.6 L403.9 706.2 L403.9 705.9 L404 705.6 L404 705.5 L404.1 705.5 L404.1 705.6 L404.2 705.8 L404.2 706 L404.3 706.2 L404.3 706.4 L404.4 706.7 L404.4 707 L404.4 707.4 L404.5 707.8 L404.5 708.2 L404.6 708.7 L404.6 709.2 L404.6 709.7 L404.7 710.2 L404.7 710.8 L404.8 711.4 L404.8 712 L404.8 712.7 L404.9 713.4 L404.9 714.1 L405 714.8 L405 715.5 L405.1 716.3 L405.1 717.1 L405.1 717.9 L405.2 718.7 L405.2 719.5 L405.3 720.3 L405.3 721.2 L405.4 722 L405.4 722.9 L405.5 723.7 L405.5 724.6 L405.6 725.5 L405.6 726.4 L405.7 727.3 L405.7 728.2 L405.7 729.1 L405.8 730 L405.8 730.9 L405.9 731.8 L405.9 732.6 L406 733.5 L406 734.4 L406.1 735.3 L406.1 736.1 L406.2 737 L406.2 737.8 L406.3 738.7 L406.3 739.5 L406.4 740.3 L406.4 740.9 L406.5 741.6 L406.5 742.3 L406.6 742.9 L406.6 743.6 L406.6 744.3 L406.7 745 L406.7 745.7 L406.8 746.5 L406.8 747.2 L406.9 747.9 L406.9 748.7 L406.9 749.4 L407 750.2 L407 751 L407.1 751.7 L407.1 752.5 L407.2 753.3 L407.2 754.1 L407.3 754.9 L407.3 755.7 L407.3 756.5 L407.4 757.3 L407.4 758.1 L407.5 758.9 L407.5 759.7 L407.6 760.5 L407.6 761.3 L407.7 762.1 L407.7 762.9 L407.8 763.6 L407.8 764.4 L407.8 765.2 L407.9 766 L407.9 766.8 L408 767.5 L408 768.3 L408.1 769.1 L408.1 769.8 L408.2 770.6 L408.2 771.3 L408.3 772 L408.3 772.8 L408.4 773.5 L408.4 774.2 L408.5 774.9 L408.5 775.6 L408.6 776.2 L408.6 776.9 L408.7 777.5 L408.7 778.2 L408.8 778.8 L408.8 779.4 L408.9 780 L408.9 780.5 L409 781.1 L409 781.6 L409.1 782.2 L409.1 782.7 L409.2 783.2 L409.2 783.6 L409.3 784.1 L409.5 785.6 L409.7 787 L409.9 788.2 L410 789.2 L410.2 790.1 L410.4 790.9 L410.6 791.6 L410.8 792.1 L411 792.7 L411.2 793.1 L411.4 793.5 L411.6 793.8 L411.9 794.2 L412.1 794.4 L412.4 794.9 L412.7 795 L413 795.7 L413.6 795.9 L414.2 796.8 L414.9 796.6 L415.6 797.5 L416.3 797 L417.1 797.8 L417.8 797.1 L418.6 797.9 L419.3 797.2 L420 797.9 L420.8 797.7 L421.6 798.7 L422.4 799.7 L423.2 800.7 L424 801.3 L424.7 801.4 L425.4 800.5 L426 798.5 L426.5 795 L426.5 794.6 L426.6 794.2 L426.6 793.8 L426.6 793.4 L426.7 793 L426.7 792.5 L426.7 792.1 L426.8 791.6 L426.8 791.1 L426.8 790.6 L426.8 790.1 L426.9 789.6 L426.9 789 L426.9 788.5 L426.9 787.9 L427 787.3 L427 786.7 L427 786.1 L427 785.5 L427.1 784.9 L427.1 784.2 L427.1 783.6 L427.1 782.9 L427.1 782.3 L427.2 781.6 L427.2 780.9 L427.2 780.2 L427.2 779.5 L427.2 778.8 L427.2 778.1 L427.3 777.4 L427.3 776.6 L427.3 775.9 L427.3 775.1 L427.3 774.4 L427.3 773.6 L427.3 772.8 L427.3 772.1 L427.4 771.3 L427.4 770.5 L427.4 769.7 L427.4 768.9 L427.4 768.1 L427.4 767.3 L427.4 766.5 L427.4 765.7 L427.4 764.9 L427.4 764.1 L427.4 763.2 L427.4 762.4 L427.5 761.6 L427.5 760.7 L427.5 759.9 L427.5 759.1 L427.5 758.2 L427.5 757.4 L427.5 756.6 L427.5 755.7 L427.5 754.9 L427.5 754.1 L427.5 753.2 L427.5 752.4 L427.5 751.6 L427.5 750.7 L427.5 749.9 L427.5 749.1 L427.5 748.2 L427.5 747.4 L427.5 746.6 L427.5 745.8 L427.5 745 L427.5 744.1 L427.5 743.3 L427.5 742.5 L427.6 741.7 L427.6 740.9 L427.6 740.1 L427.6 739.4 L427.6 738.6 L427.6 737.8 L427.6 737 L427.6 736.3 L427.6 735.5 L427.6 734.8 L427.6 734 L427.6 733.3 L427.6 732.5 L427.6 731.8 L427.6 731.1 L427.6 730.4 L427.6 729.7 L427.6 729 L427.6 728.4 L427.6 727.7 L427.6 727 L427.6 726.4 L427.6 725.7 L427.6 725.1 L427.6 724.5 L427.6 723.9 L427.7 723.3 L427.7 722.7 L427.7 722.2 L427.7 721.6 L427.7 721 L427.7 720.5 L427.7 720 L427.7 718.9 L427.7 717.8 L427.8 716.7 L427.8 715.6 L427.8 714.5 L427.8 713.4 L427.8 712.3 L427.8 711.3 L427.8 710.2 L427.9 709.2 L427.9 708.2 L427.9 707.2 L427.9 706.2 L427.9 705.2 L427.9 704.2 L427.9 703.3 L428 702.3 L428 701.4 L428 700.5 L428 699.6 L428 698.8 L428 697.9 L428 697.1 L428 696.3 L428 695.5 L428.1 694.8 L428.1 694 L428.1 693.3 L428.1 692.7 L428.1 692 L428.1 691.4 L428.1 690.8 L428.1 690.2 L428.1 689.7 L428.1 689.1 L428.2 688.7 L428.2 688.2 L428.2 687.8 L428.2 687.4 L428.2 687.1 L428.2 686.7 L428.2 686.5 L428.2 686.2 L428.2 686 L428.3 685.8 L428.3 685.7 L428.3 685.6 L428.3 685.5 L428.3 685.5 L428.3 685.5 L428.3 685.6 L428.3 685.7 L428.3 685.8 L428.4 686 L428.4 686.2 L428.4 686.5 L428.4 686.7 L428.4 687.1 L428.4 687.4 L428.4 687.8 L428.4 688.2 L428.4 688.7 L428.5 689.1 L428.5 689.7 L428.5 690.2 L428.5 690.8 L428.5 691.4 L428.5 692 L428.5 692.7 L428.5 693.3 L428.5 694 L428.5 694.8 L428.6 695.5 L428.6 696.3 L428.6 697.1 L428.6 697.9 L428.6 698.8 L428.6 699.6 L428.6 700.5 L428.6 701.4 L428.6 702.3 L428.7 703.3 L428.7 704.2 L428.7 705.2 L428.7 706.2 L428.7 707.2 L428.7 708.2 L428.7 709.2 L428.7 710.2 L428.8 711.3 L428.8 712.3 L428.8 713.4 L428.8 714.5 L428.8 715.6 L428.8 716.7 L428.9 717.8 L428.9 718.9 L428.9 720 L428.9 720.5 L428.9 721 L428.9 721.6 L428.9 722.2 L428.9 722.7 L428.9 723.3 L428.9 723.9 L428.9 724.5 L428.9 725.1 L428.9 725.7 L428.9 726.4 L428.9 727 L428.9 727.7 L428.9 728.4 L428.9 729 L428.9 729.7 L428.9 730.4 L428.9 731.1 L428.9 731.8 L428.9 732.6 L428.9 733.3 L428.9 734 L428.9 734.8 L428.9 735.5 L428.9 736.3 L428.9 737 L428.9 737.8 L428.9 738.6 L428.9 739.4 L428.9 740.1 L428.9 740.9 L428.9 741.7 L428.9 742.5 L428.8 743.3 L428.8 744.2 L428.8 745 L428.8 745.8 L428.8 746.6 L428.8 747.4 L428.8 748.3 L428.8 749.1 L428.8 749.9 L428.8 750.7 L428.8 751.6 L428.8 752.4 L428.8 753.2 L428.8 754.1 L428.8 754.9 L428.8 755.8 L428.8 756.6 L428.8 757.4 L428.8 758.3 L428.8 759.1 L428.7 759.9 L428.7 760.8 L428.7 761.6 L428.7 762.4 L428.8 763.3 L428.8 764.1 L428.8 764.9 L428.8 765.7 L428.8 766.5 L428.8 767.3 L428.8 768.1 L428.8 768.9 L428.8 769.7 L428.8 770.5 L428.8 771.3 L428.8 772.1 L428.8 772.9 L428.8 773.6 L428.9 774.4 L428.9 775.2 L428.9 775.9 L428.9 776.6 L428.9 777.4 L428.9 778.1 L429 778.8 L429 779.5 L429 780.2 L429 780.9 L429.1 781.6 L429.1 782.3 L429.1 783 L429.1 783.6 L429.2 784.3 L429.2 784.9 L429.2 785.5 L429.3 786.1 L429.3 786.7 L429.3 787.3 L429.4 787.9 L429.4 788.5 L429.5 789 L429.5 789.6 L429.6 790.1 L429.6 790.6 L429.7 791.1 L429.7 791.6 L429.8 792.1 L429.8 792.5 L429.9 793 L429.9 793.4 L430 793.9 L430.1 794.2 L430.1 794.6 L430.2 795 L430.6 796.9 L431.1 798.4 L431.7 799.6 L432.3 800.5 L433 801.2 L433.7 801.6 L434.5 801.9 L435.3 801.7 L436.1 802.1 L436.9 801 L437.8 802.1 L438.6 799.8 L439.4 801.3 L440.2 798.6 L441 800.2 L441.7 797.5 L442.4 799.2 L443 796.5 L443.6 797.9 L444.1 796.1 L444.6 797.4 L445 795.9 L445.4 796.4 L445.9 795.2 L446.3 795.7 L446.6 794.6 L447 794.6 L447.4 793.6 L447.7 793.5 L448.1 792.6 L448.4 792.2 L448.7 791.4 L449 790.8 L449.3 789.9 L449.6 789.2 L449.9 788.2 L450.1 787.4 L450.4 786.3 L450.7 785.3 L450.9 784.1 L451 783.6 L451.1 783.1 L451.2 782.6 L451.3 782 L451.4 781.4 L451.4 780.8 L451.5 780.2 L451.6 779.5 L451.7 778.9 L451.8 778.2 L451.8 777.5 L451.9 776.7 L452 776 L452 775.3 L452.1 774.5 L452.2 773.8 L452.2 773 L452.3 772.2 L452.3 771.4 L452.4 770.6 L452.5 769.8 L452.5 769 L452.6 768.2 L452.6 767.4 L452.7 766.5 L452.7 765.7 L452.8 764.9 L452.8 764.1 L452.9 763.3 L452.9 762.5 L452.9 761.7 L453 760.8 L453 760.1 L453.1 759.3 L453.1 758.5 L453.2 757.7 L453.2 757 L453.2 756.2 L453.3 755.5 L453.3 754.8 L453.4 754.1 L453.4 753.4 L453.4 752.7 L453.5 752 L453.5 751.4 L453.6 750.8 L453.6 750.2 L453.6 749.6 L453.7 749.1 L453.7 748.6 L453.8 748.1 L453.8 747.6 L453.9 746.2 L454.1 744.8 L454.2 743.6 L454.3 742.5 L454.4 741.5 L454.5 740.6 L454.6 739.8 L454.6 739.1 L454.7 738.5 L454.8 737.9 L454.9 737.5 L455 737.1 L455 736.9 L455.1 736.6 L455.2 736.6 L455.3 736.5 L455.4 736.6 L455.5 736.6 L455.6 736.9 L455.6 737.1 L455.7 737.5 L455.8 737.9 L455.9 738.5 L456 739.1 L456 739.8 L456.1 740.6 L456.2 741.5 L456.3 742.5 L456.4 743.6 L456.5 744.8 L456.7 746.2 L456.8 747.6 L456.8 748.1 L456.9 748.6 L456.9 749.1 L457 749.6 L457 750.2 L457.1 750.8 L457.1 751.4 L457.1 752 L457.2 752.7 L457.2 753.3 L457.3 754 L457.3 754.7 L457.4 755.4 L457.4 756.1 L457.4 756.9 L457.5 757.6 L457.5 758.4 L457.6 759.2 L457.6 759.9 L457.7 760.7 L457.7 761.5 L457.8 762.3 L457.8 763.1 L457.9 763.9 L457.9 764.7 L458 765.5 L458 766.4 L458.1 767.2 L458.1 768 L458.2 768.8 L458.3 769.6 L458.3 770.4 L458.4 771.2 L458.4 772 L458.5 772.8 L458.5 773.5 L458.6 774.3 L458.7 775.1 L458.7 775.8 L458.8 776.5 L458.9 777.3 L458.9 778 L459 778.7 L459.1 779.3 L459.2 780 L459.2 780.7 L459.3 781.3 L459.4 781.9 L459.5 782.5 L459.5 783 L459.6 783.6 L459.7 784.1 L459.9 785.2 L460.1 786.1 L460.2 787.1 L460.4 787.9 L460.6 788.9 L460.8 789.6 L460.9 790.4 L461.1 791 L461.3 791.8 L461.5 792.3 L461.7 793.1 L461.9 793.5 L462.1 794.3 L462.3 794.6 L462.6 795.5 L462.8 795.5 L463.1 796.5 L463.4 796.5 L463.7 797.7 L464 797.4 L464.4 798.9 L464.7 798.3 L465.1 800 L465.5 799.2 L465.9 801.3 L466.3 800.5 L466.8 802.3 L467.3 801.1 L467.8 803.6 L468.3 802.3 L468.8 805.1 L469.4 803.1 L469.9 806.4 L470.5 804.1 L471.1 807.3 L471.7 805.3 L472.3 808.1 L472.9 806.1 L473.5 809.6 L474.1 806.5 L474.8 810 L475.4 807 L476 811 L476.6 808 L477.2 811.8 L477.8 808.4 L478.4 812.7 L479 808.1 L479.6 813.8 L480.3 808.6 L481.1 814.7 L481.8 809.8 L482.6 816 L483.4 810.1 L484.2 816 L485 809.2 L485.8 817.7 L486.5 808.8 L487.3 815.8 L488.1 809.2 L488.9 818.4 L489.6 808 L490.3 816.9 L491.1 809.9 L491.7 816.6 L492.4 808.2 L493 816.3 L493.6 807.7 L494.2 816.4 L495.2 809.6 L496.2 815.3 L497.1 812.4 L497.9 814 L498.6 812.9 L499.2 813.6 L499.9 812.8 L500.4 812.9 L501 811.9 L501.5 811.3 L501.7 810.7 L501.9 810.4 L502 809.8 L502.2 809.4 L502.3 808.8 L502.5 808.3 L502.6 807.7 L502.7 807.1 L502.8 806.4 L502.9 805.8 L503 805.1 L503.1 804.4 L503.2 803.6 L503.3 802.9 L503.4 802.1 L503.5 801.4 L503.6 800.6 L503.6 799.8 L503.7 799 L503.8 798.1 L503.9 797.3 L504 796.5 L504 795.6 L504.1 794.8 L504.2 793.9 L504.3 793.1 L504.4 792.2 L504.5 791.6 L504.5 790.9 L504.6 790.2 L504.7 789.4 L504.7 788.6 L504.8 787.8 L504.8 786.9 L504.9 786.1 L505 785.2 L505 784.2 L505.1 783.3 L505.1 782.4 L505.2 781.4 L505.3 780.4 L505.3 779.5 L505.4 778.5 L505.4 777.6 L505.5 776.6 L505.5 775.7 L505.6 774.8 L505.7 773.9 L505.7 773 L505.8 772.2 L505.8 771.4 L505.9 770.6 L505.9 769.8 L506 769.1 L506 768.5 L506.1 767.9 L506.1 767.3 L506.2 766.8 L506.3 766.3 L506.3 765.9 L506.4 765.6 L506.4 765.4 L506.5 765.2 L506.5 765 L506.6 765 L506.7 765 L506.7 765.2 L506.8 765.4 L506.8 765.6 L506.9 765.9 L506.9 766.3 L507 766.8 L507.1 767.3 L507.1 767.9 L507.2 768.5 L507.2 769.1 L507.3 769.8 L507.3 770.6 L507.4 771.4 L507.4 772.2 L507.5 773 L507.5 773.9 L507.6 774.8 L507.7 775.7 L507.7 776.6 L507.8 777.6 L507.8 778.5 L507.9 779.5 L507.9 780.4 L508 781.4 L508.1 782.4 L508.1 783.3 L508.2 784.2 L508.2 785.2 L508.3 786.1 L508.4 786.9 L508.4 787.8 L508.5 788.6 L508.5 789.4 L508.6 790.2 L508.7 790.9 L508.7 791.6 L508.8 792.2 L508.9 793.1 L509 793.9 L509 794.8 L509.1 795.6 L509.2 796.5 L509.2 797.3 L509.3 798.1 L509.3 798.9 L509.4 799.7 L509.4 800.5 L509.5 801.3 L509.6 802.1 L509.6 802.9 L509.7 803.6 L509.8 804.3 L509.9 805 L509.9 805.7 L510.1 806.4 L510.2 807 L510.3 807.6 L510.5 808.2 L510.6 808.8 L510.8 809.3 L511 809.8 L511.2 810.4 L511.4 810.7 L511.7 811.3 L512.2 811.6 L512.7 812.5 L513.2 812.5 L513.8 813.6 L514.4 812.4 L515.1 814.7 L515.7 812.4 L516.5 815.3 L517.2 811.3 L517.9 816.8 L518.7 810.8 L519.5 818.3 L520.3 809.3 L521 817.5 L521.8 810.5 L522.6 818.3 L523.4 809 L524.1 818.9 L524.7 809.4 L525.4 819.7 L526.2 809.1 L526.9 818.4 L527.6 809.2 L528.4 819.1 L529.1 810.4 L529.9 817.7 L530.6 810.3 L531.4 819.4 L532.1 809.2 L532.9 818.1 L533.6 809.8 L534.4 817.4 L535.1 809.6 L535.9 818.4 L536.6 809 L537.3 819.5 L538 811 L538.7 819.6 L539.5 810.5 L540.3 819.6 L541 808.1 L541.8 817.3 L542.6 810.3 L543.4 816.9 L544.1 809.3 L544.9 817.6 L545.7 810.2 L546.4 816.3 L547.1 812.1 L547.8 814.8 L548.4 812.4 L549 813.4 L549.6 812.2 L550.2 812.5 L550.7 811.6 L551.1 811.3 L551.4 810.7 L551.6 810.3 L551.9 809.7 L552.1 809.2 L552.3 808.5 L552.4 807.9 L552.6 807.2 L552.7 806.5 L552.8 805.7 L552.9 804.9 L553 804.1 L553.1 803.3 L553.2 802.5 L553.2 801.7 L553.3 800.8 L553.3 800 L553.4 799.2 L553.4 798.4 L553.5 797.6 L553.5 796.8 L553.6 796.1 L553.6 795.3 L553.7 794.6 L553.7 794 L553.8 793.3 L553.9 792.7 L554 792.2 L554.2 791.1 L554.4 789.9 L554.6 788.8 L554.9 787.6 L555.1 786.5 L555.3 785.5 L555.5 784.6 L555.7 783.8 L555.9 783.3 L556.1 782.8 L556.3 782.7 L556.5 782.8 L556.7 783.2 L556.8 783.4 L556.9 783.8 L556.9 784.2 L557 784.6 L557.1 785.2 L557.1 785.7 L557.2 786.3 L557.2 787 L557.3 787.7 L557.4 788.5 L557.4 789.3 L557.5 790.1 L557.5 790.9 L557.6 791.8 L557.7 792.6 L557.7 793.5 L557.8 794.4 L557.9 795.4 L557.9 796.2 L558 797.2 L558.1 798 L558.1 798.9 L558.2 799.8 L558.3 800.7 L558.4 801.5 L558.5 802.3 L558.5 803.1 L558.6 803.8 L558.7 804.5 L558.8 805.2 L559 805.7 L559.1 806.3 L559.2 806.8 L559.5 808 L559.8 808.9 L560.2 809.8 L560.5 810.4 L560.9 811.4 L561.3 811.6 L561.7 812.6 L562.1 812.5 L562.6 813.5 L563.1 812.9 L563.7 814.5 L564.3 812.8 L565 815.6 L565.5 812 L566.1 815.9 L566.8 812.3 L567.5 817.9 L568.2 810.3 L568.9 817.4 L569.7 812.1 L570.5 816.1 L571.3 810.7 L572.1 816.6 L572.9 811.6 L573.7 815.6 L574.4 811.1 L575.2 813.9 L575.9 811 L576.6 813.8 L577.2 810.5 L577.8 812.6 L578.3 810.2 L578.7 811.4 L579.2 809.7 L579.6 810.4 L580 808.6 L580.4 809.1 L580.8 807.8 L581.2 807.9 L581.6 806.6 L581.9 806.8 L582.3 805.4 L582.6 805.4 L583 804.2 L583.3 803.9 L583.6 802.8 L583.9 802.4 L584.2 801.2 L584.5 800.9 L584.8 799.7 L585.1 799.3 L585.4 798 L585.6 797.9 L585.8 796.9 L585.9 796.9 L586.1 796 L586.3 795.9 L586.5 795.2 L586.6 795.1 L586.8 794.3 L587 794.2 L587.1 793.6 L587.3 793.3 L587.4 792.8 L587.6 792.4 L587.7 791.9 L587.9 791.5 L588 790.9 L588.1 790.4 L588.3 789.8 L588.4 789.3 L588.5 788.6 L588.7 788 L588.8 787.2 L588.9 786.5 L589.1 785.7 L589.2 784.8 L589.3 783.9 L589.4 782.9 L589.5 781.8 L589.7 780.7 L589.8 779.5 L589.9 778.2 L590 776.8 L590.1 775.4 L590.1 774.9 L590.2 774.5 L590.2 774 L590.2 773.5 L590.3 773 L590.3 772.5 L590.3 772 L590.4 771.5 L590.4 770.9 L590.4 770.4 L590.5 769.9 L590.5 769.3 L590.5 768.8 L590.5 768.2 L590.6 767.6 L590.6 767.1 L590.6 766.5 L590.7 765.9 L590.7 765.3 L590.7 764.7 L590.8 764.1 L590.8 763.5 L590.8 762.9 L590.8 762.2 L590.9 761.6 L590.9 761 L590.9 760.3 L591 759.7 L591 759 L591 758.3 L591 757.7 L591.1 757 L591.1 756.3 L591.1 755.7 L591.1 755 L591.2 754.3 L591.2 753.6 L591.2 752.9 L591.3 752.2 L591.3 751.5 L591.3 750.8 L591.3 750.1 L591.4 749.3 L591.4 748.6 L591.4 747.9 L591.4 747.2 L591.5 746.4 L591.5 745.7 L591.5 745 L591.5 744.2 L591.5 743.5 L591.6 742.7 L591.6 742 L591.6 741.2 L591.6 740.5 L591.7 739.7 L591.7 738.9 L591.7 738.2 L591.7 737.4 L591.8 736.6 L591.8 735.9 L591.8 735.1 L591.8 734.3 L591.8 733.5 L591.9 732.8 L591.9 732 L591.9 731.2 L591.9 730.4 L591.9 729.6 L592 728.8 L592 728.1 L592 727.3 L592 726.5 L592 725.7 L592.1 724.9 L592.1 724.1 L592.1 723.3 L592.1 722.5 L592.1 721.7 L592.2 721 L592.2 720.2 L592.2 719.4 L592.2 718.6 L592.2 717.8 L592.2 717 L592.3 716.2 L592.3 715.4 L592.3 714.6 L592.3 713.9 L592.3 713.1 L592.3 712.3 L592.4 711.5 L592.4 710.7 L592.4 710 L592.4 709.2 L592.4 708.4 L592.4 707.6 L592.5 706.9 L592.5 706.1 L592.5 705.3 L592.5 704.5 L592.5 703.8 L592.5 703 L592.6 702.3 L592.6 701.5 L592.6 700.8 L592.6 700 L592.6 699.3 L592.6 698.6 L592.6 698 L592.6 697.2 L592.7 696.5 L592.7 695.8 L592.7 695.1 L592.7 694.3 L592.7 693.5 L592.7 692.8 L592.7 692 L592.7 691.2 L592.7 690.4 L592.8 689.6 L592.8 688.8 L592.8 687.9 L592.8 687.1 L592.8 686.3 L592.8 685.4 L592.8 684.6 L592.8 683.7 L592.8 682.8 L592.8 682 L592.8 681.1 L592.8 680.2 L592.9 679.3 L592.9 678.4 L592.9 677.5 L592.9 676.6 L592.9 675.7 L592.9 674.8 L592.9 673.8 L592.9 672.9 L592.9 672 L592.9 671.1 L592.9 670.1 L592.9 669.2 L592.9 668.3 L592.9 667.3 L592.9 666.4 L592.9 665.5 L592.9 664.5 L592.9 663.6 L593 662.6 L593 661.7 L593 660.8 L593 659.8 L593 658.9 L593 658 L593 657 L593 656.1 L593 655.2 L593 654.3 L593 653.3 L593 652.4 L593 651.5 L593 650.6 L593 649.7 L593 648.8 L593 647.9 L593 647 L593 646.1 L593 645.3 L593 644.4 L593 643.5 L593 642.7 L593 641.8 L593 641 L593 640.2 L593 639.3 L593 638.5 L593 637.7 L593 636.9 L593 636.1 L593 635.3 L593.1 634.6 L593.1 633.8 L593.1 633 L593.1 632.3 L593.1 631.6 L593.1 630.9 L593.1 630.2 L593.1 629.5 L593.1 628.8 L593.1 628.1 L593.1 627.5 L593.1 626.8 L593.1 626.2 L593.1 625.6 L593.1 625 L593.1 624.4 L593.1 623.8 L593.1 623.2 L593.1 622.7 L593.1 622.2 L593.1 621.7 L593.1 621.2 L593.1 620.7 L593.1 620.2 L593.1 619.8 L593.1 619.4 L593.1 619 L593.1 618.6 L593.1 618.2 L593.1 617.8 L593.1 617.5 L593.1 617.2 L593.1 616.9 L593.1 616.6 L593.1 616.4 L593.2 616.1 L593.2 615.9 L593.2 615.7 L593.2 615.6 L593.2 615.4 L593.2 615.3 L593.2 615.2 L593.2 615.1 L593.2 615 L593.2 615 L593.2 615 L593.2 615 L593.2 615 L593.2 615.1 L593.2 615.2 L593.2 615.3 L593.2 615.4 L593.2 615.6 L593.2 615.7 L593.2 615.9 L593.3 616.2 L593.3 616.4 L593.3 616.7 L593.3 616.9 L593.3 617.2 L593.3 617.6 L593.3 617.9 L593.3 618.2 L593.3 618.6 L593.3 619 L593.3 619.4 L593.3 619.9 L593.3 620.3 L593.3 620.8 L593.3 621.3 L593.3 621.8 L593.3 622.3 L593.3 622.8 L593.3 623.4 L593.3 623.9 L593.3 624.5 L593.4 625.1 L593.4 625.7 L593.4 626.3 L593.4 627 L593.4 627.6 L593.4 628.3 L593.4 629 L593.4 629.6 L593.4 630.3 L593.4 631.1 L593.4 631.8 L593.4 632.5 L593.4 633.3 L593.4 634 L593.4 634.8 L593.4 635.6 L593.4 636.4 L593.4 637.2 L593.4 638 L593.4 638.8 L593.4 639.6 L593.4 640.4 L593.5 641.3 L593.5 642.1 L593.5 643 L593.5 643.8 L593.5 644.7 L593.5 645.6 L593.5 646.5 L593.5 647.4 L593.5 648.3 L593.5 649.2 L593.5 650.1 L593.5 651 L593.5 651.9 L593.5 652.8 L593.5 653.7 L593.5 654.6 L593.5 655.6 L593.5 656.5 L593.5 657.4 L593.5 658.4 L593.6 659.3 L593.6 660.2 L593.6 661.2 L593.6 662.1 L593.6 663 L593.6 664 L593.6 664.9 L593.6 665.9 L593.6 666.8 L593.6 667.7 L593.6 668.7 L593.6 669.6 L593.6 670.5 L593.6 671.5 L593.6 672.4 L593.6 673.3 L593.6 674.2 L593.7 675.1 L593.7 676 L593.7 677 L593.7 677.9 L593.7 678.8 L593.7 679.6 L593.7 680.5 L593.7 681.4 L593.7 682.3 L593.7 683.2 L593.7 684 L593.7 684.9 L593.7 685.7 L593.7 686.6 L593.8 687.4 L593.8 688.2 L593.8 689 L593.8 689.8 L593.8 690.6 L593.8 691.4 L593.8 692.2 L593.8 693 L593.8 693.7 L593.8 694.5 L593.8 695.2 L593.8 695.9 L593.9 696.6 L593.9 697.3 L593.9 698 L593.9 698.7 L593.9 699.4 L593.9 700 L593.9 700.8 L593.9 701.6 L593.9 702.3 L593.9 703.1 L594 703.9 L594 704.7 L594 705.5 L594 706.3 L594 707 L594 707.8 L594 708.6 L594 709.4 L594.1 710.2 L594.1 711 L594.1 711.8 L594.1 712.6 L594.1 713.4 L594.1 714.2 L594.1 715 L594.2 715.8 L594.2 716.6 L594.2 717.4 L594.2 718.2 L594.2 719 L594.2 719.8 L594.2 720.6 L594.3 721.3 L594.3 722.1 L594.3 722.9 L594.3 723.7 L594.3 724.5 L594.3 725.3 L594.3 726.1 L594.4 726.9 L594.4 727.7 L594.4 728.4 L594.4 729.2 L594.4 730 L594.4 730.8 L594.4 731.5 L594.5 732.3 L594.5 733.1 L594.5 733.9 L594.5 734.6 L594.5 735.4 L594.5 736.1 L594.6 736.9 L594.6 737.6 L594.6 738.4 L594.6 739.1 L594.6 739.9 L594.6 740.6 L594.7 741.4 L594.7 742.1 L594.7 742.8 L594.7 743.6 L594.7 744.3 L594.7 745 L594.8 745.7 L594.8 746.4 L594.8 747.1 L594.8 747.8 L594.8 748.5 L594.8 749.2 L594.9 749.9 L594.9 750.6 L594.9 751.2 L594.9 751.9 L594.9 752.6 L594.9 753.2 L595 753.9 L595 754.5 L595 755.2 L595 755.8 L595 756.5 L595.1 757.1 L595.1 757.7 L595.1 758.3 L595.1 758.9 L595.1 759.5 L595.1 760.1 L595.2 760.7 L595.2 761.3 L595.2 761.9 L595.2 762.4 L595.2 763 L595.3 763.5 L595.3 764.1 L595.3 764.6 L595.3 765.1 L595.3 765.7 L595.3 766.2 L595.4 766.7 L595.4 767.2 L595.4 767.7 L595.4 768.2 L595.4 768.6 L595.5 769.1 L595.5 769.6 L595.5 770 L595.6 771.6 L595.6 773.1 L595.7 774.5 L595.8 775.7 L595.8 776.8 L595.9 777.8 L596 778.7 L596.1 779.6 L596.1 780.3 L596.2 781 L596.3 781.6 L596.3 782.1 L596.4 782.6 L596.5 783.1 L596.6 783.5 L596.6 783.9 L596.7 784.3 L596.8 784.7 L596.9 785.1 L597 785.5 L597.1 785.9 L597.2 786.4 L597.3 786.9 L597.4 787.4 L597.6 788 L597.7 788.7 L597.8 789.4 L598 790.2 L598.1 791 L598.3 791.8 L598.5 792.6 L598.7 793.4 L598.8 794.3 L599 795.2 L599.2 796 L599.4 796.9 L599.6 797.8 L599.8 798.6 L600 799.4 L600.2 800.2 L600.4 801 L600.6 801.7 L600.8 802.5 L601 803.1 L601.2 803.8 L601.4 804.3 L601.6 804.9 L601.8 805.2 L601.9 805.8 L602.1 806 L602.2 806.4 L602.4 806.4 L602.6 806.7 L602.9 806.5 L603.1 806.3 L603.3 805.8 L603.5 805.3 L603.7 804.6 L603.9 803.8 L604.1 802.9 L604.2 802 L604.4 800.9 L604.6 800 L604.8 799 L604.9 798 L605.1 797.1 L605.3 796.3 L605.4 795.6 L605.6 794.9 L605.7 794 L605.9 793.1 L606 792.2 L606.2 791.2 L606.3 790.2 L606.5 789.2 L606.6 788.2 L606.8 787.3 L606.9 786.4 L607.1 785.6 L607.2 784.8 L607.4 784.2 L607.5 783.7 L607.7 783.3 L607.8 783 L608 783 L608.1 783.1 L608.2 783.3 L608.3 783.5 L608.4 783.9 L608.5 784.2 L608.5 784.7 L608.6 785.2 L608.7 785.8 L608.8 786.5 L608.8 787.2 L608.9 787.9 L609 788.7 L609.1 789.4 L609.2 790.3 L609.2 791.1 L609.3 792 L609.4 792.9 L609.5 793.8 L609.6 794.7 L609.7 795.6 L609.8 796.4 L609.9 797.4 L610 798.2 L610.1 799.1 L610.2 799.8 L610.3 800.7 L610.4 801.4 L610.6 802.1 L610.7 802.7 L610.8 803.4 L611 803.8 L611.3 804.9 L611.5 805.6 L611.8 806.6 L612.1 807.1 L612.3 808.3 L612.6 808.6 L612.9 809.8 L613.2 809.8 L613.6 811 L613.9 811 L614.3 812.2 L614.8 811.9 L615.2 813.4 L615.8 812.4 L616.3 814.5 L616.9 812.8 L617.6 815.5 L618.1 812.9 L618.7 816.9 L619.2 812.9 L619.9 818 L620.5 813.1 L621.2 818.4 L621.9 812.2 L622.6 819.1 L623.3 810.7 L624.1 821 L624.8 811.1 L625.6 821.3 L626.4 812.4 L627.2 819.4 L628 812.7 L628.8 822.2 L629.5 811.3 L630.3 822.6 L631.1 811.8 L631.8 820.6 L632.6 810.7 L633.3 822 L634 811.4 L634.7 820.8 L635.4 811.6 L636.2 820 L636.9 809.9 L637.7 822.2 L638.5 811.6 L639.2 819.9 L640 810.3 L640.8 821 L641.5 811.3 L642.3 820.4 L643 813.9 L643.7 820.1 L644.5 814.6 L645.2 818.9 L645.8 815 L646.5 817.1 L647.1 815.1 L647.7 816 L648.3 814.3 L648.9 814.9 L649.4 813.6 L649.9 813.6 L650.1 812.7 L650.4 812.8 L650.6 811.8 L650.8 811.8 L651.1 810.9 L651.3 810.7 L651.5 809.9 L651.6 809.6 L651.8 808.8 L652 808.4 L652.2 807.6 L652.3 807.1 L652.5 806.3 L652.6 805.8 L652.8 805 L652.9 804.4 L653.1 803.6 L653.2 802.9 L653.3 802.2 L653.4 801.5 L653.5 800.7 L653.7 799.9 L653.8 799.1 L653.9 798.4 L654 797.6 L654.1 796.8 L654.2 796 L654.3 795.2 L654.4 794.4 L654.5 793.6 L654.6 792.8 L654.7 792 L654.8 791.2 L654.9 790.4 L655 789.6 L655.1 788.8 L655.2 788 L655.3 787.2 L655.4 786.4 L655.5 785.7 L655.6 784.9 L655.7 784.2 L655.8 783.5 L655.9 782.8 L656 782 L656.1 781.3 L656.1 780.4 L656.2 779.6 L656.3 778.8 L656.4 777.9 L656.5 777 L656.5 776.1 L656.6 775.2 L656.7 774.3 L656.8 773.3 L656.8 772.4 L656.9 771.4 L657 770.5 L657.1 769.5 L657.1 768.6 L657.2 767.6 L657.3 766.7 L657.3 765.8 L657.4 764.9 L657.5 763.9 L657.5 763 L657.6 762.2 L657.7 761.3 L657.7 760.5 L657.8 759.6 L657.8 758.8 L657.9 758.1 L658 757.3 L658 756.6 L658.1 755.9 L658.2 755.3 L658.2 754.7 L658.3 754.1 L658.3 753.5 L658.4 753.1 L658.5 752.6 L658.5 752.2 L658.6 751.8 L658.7 751.5 L658.7 751.3 L658.8 751.1 L658.9 750.9 L658.9 750.8 L659 750.8 L659.1 750.8 L659.1 750.9 L659.2 751.1 L659.3 751.3 L659.3 751.5 L659.4 751.8 L659.5 752.2 L659.5 752.6 L659.6 753.1 L659.7 753.6 L659.7 754.1 L659.8 754.7 L659.8 755.3 L659.9 756 L660 756.7 L660 757.4 L660.1 758.1 L660.1 758.9 L660.2 759.7 L660.3 760.6 L660.3 761.4 L660.4 762.3 L660.5 763.2 L660.5 764.1 L660.6 765 L660.6 765.9 L660.7 766.8 L660.8 767.8 L660.8 768.7 L660.9 769.7 L661 770.6 L661 771.6 L661.1 772.5 L661.2 773.5 L661.2 774.4 L661.3 775.3 L661.4 776.2 L661.4 777.1 L661.5 778 L661.6 778.9 L661.7 779.7 L661.7 780.5 L661.8 781.3 L661.9 782.1 L662 782.9 L662 783.6 L662.1 784.3 L662.2 784.9 L662.3 785.7 L662.4 786.5 L662.5 787.3 L662.6 788.1 L662.7 788.9 L662.8 789.7 L662.9 790.6 L663.1 791.4 L663.2 792.2 L663.3 793 L663.4 793.8 L663.5 794.6 L663.6 795.4 L663.7 796.2 L663.9 797 L664 797.8 L664.1 798.5 L664.2 799.3 L664.3 800.1 L664.5 800.8 L664.6 801.5 L664.7 802.2 L664.8 803 L665 803.6 L665.1 804.3 L665.2 804.9 L665.4 805.6 L665.5 806.2 L665.6 806.9 L665.8 807.4 L665.9 808.1 L666.1 808.5 L666.2 809.2 L666.4 809.5 L666.5 810.2 L666.7 810.4 L666.8 811.2 L667 811.3 L667.6 812.8 L668.2 813.1 L668.9 814.2 L669.6 814.3 L670.3 815.3 L671 814.2 L671.8 816 L672.5 813.6 L673.1 817.1 L673.7 811.6 L674.1 820.5 L674.5 810.5" fill="none" stroke="#edb120" stroke-width="4.2" stroke-linejoin="round" stroke-linecap="round"/>
<line x1="264.2" y1="538" x2="264.2" y2="760" stroke="#edb120" stroke-width="4.4"/>
<line x1="428.3" y1="685" x2="428.3" y2="792" stroke="#edb120" stroke-width="3.8"/>
<line x1="593.2" y1="613" x2="593.2" y2="785" stroke="#edb120" stroke-width="3.8"/>
</g>
<line x1="245.2" y1="425.2" x2="245.2" y2="458.4" stroke="#000" stroke-width="2.2" stroke-dasharray="8.4 5.1"/>
<line x1="391.1" y1="425.2" x2="391.1" y2="460.6" stroke="#000" stroke-width="2.2" stroke-dasharray="8.4 5.1"/>
<line x1="536.8" y1="425.2" x2="536.8" y2="506.6" stroke="#000" stroke-width="2.2" stroke-dasharray="8.4 5.1"/>
<line x1="426.5" y1="477.9" x2="406.3" y2="510.4" stroke="#000" stroke-width="2.2"/>
<path d="M399.2 521.9L403.9 504.8L406.3 510.4L412.4 510.1Z" fill="#000"/>
<line x1="571.6" y1="531.9" x2="550.9" y2="563.7" stroke="#000" stroke-width="2.2"/>
<path d="M543.5 575L548.6 558L550.9 563.7L557 563.5Z" fill="#000"/>
<circle cx="221.5" cy="635.9" r="4.5" fill="none" stroke="#000" stroke-width="2"/>
<circle cx="369.4" cy="626.9" r="4.5" fill="none" stroke="#000" stroke-width="2"/>
<circle cx="425.3" cy="678.2" r="4.5" fill="none" stroke="#000" stroke-width="2"/>
<circle cx="485.4" cy="685" r="4.5" fill="none" stroke="#000" stroke-width="2"/>
<circle cx="665" cy="671.7" r="4.5" fill="none" stroke="#000" stroke-width="2"/>
<text font-size="35" fill="#000" transform="translate(1.04,29.00) scale(1.0928,1.0338)">(a)</text>
<text font-size="24.5" fill="#000" transform="translate(102.32,48.03) scale(1.0844,1.0841)">&#945;-GeTe</text>
<text font-size="24.5" fill="#000" transform="translate(306.32,48.44) scale(1.1025,1.0330)">Ge<tspan font-size="15" dy="8">2</tspan><tspan dy="-8">Sb</tspan><tspan font-size="15" dy="8">2</tspan><tspan dy="-8">Te</tspan><tspan font-size="15" dy="8">5</tspan></text>
<text font-size="24.5" fill="#000" transform="translate(551.11,48.07) scale(1.1092,1.0291)">Sb<tspan font-size="15" dy="8">2</tspan><tspan dy="-8">Te</tspan><tspan font-size="15" dy="8">3</tspan></text>
<text font-size="24" fill="#000" transform="translate(38.91,123.47) scale(1.1000,1.0000)">c</text>
<text font-size="24" fill="#000" transform="translate(28.79,138.30) scale(1.1000,1.0000)">b</text>
<text font-size="24" fill="#000" transform="translate(17.61,153.68) scale(1.1000,1.0000)">a</text>
<text font-size="24" fill="#000" transform="translate(38.91,168.07) scale(1.1000,1.0000)">c</text>
<text font-size="24" fill="#000" transform="translate(28.79,187.60) scale(1.1000,1.0000)">b</text>
<text font-size="24" fill="#000" transform="translate(17.61,202.68) scale(1.1000,1.0000)">a</text>
<text font-size="24" fill="#000" transform="translate(264.21,76.28) scale(1.1000,1.0000)">c</text>
<text font-size="24" fill="#000" transform="translate(254.39,91.30) scale(1.1000,1.0000)">b</text>
<text font-size="24" fill="#000" transform="translate(244.71,104.83) scale(1.1000,1.0000)">a</text>
<text font-size="24" fill="#000" transform="translate(266.16,116.53) scale(1.1000,1.0000)">c</text>
<text font-size="24" fill="#000" transform="translate(256.34,131.53) scale(1.1000,1.0000)">b</text>
<text font-size="24" fill="#000" transform="translate(266.16,161.88) scale(1.1000,1.0000)">c</text>
<text font-size="24" fill="#000" transform="translate(256.34,173.70) scale(1.1000,1.0000)">b</text>
<text font-size="24" fill="#000" transform="translate(244.71,187.22) scale(1.1000,1.0000)">a</text>
<text font-size="24" fill="#000" transform="translate(484.21,139.18) scale(1.1000,1.0000)">c</text>
<text font-size="24" fill="#000" transform="translate(474.39,153.80) scale(1.1000,1.0000)">b</text>
<text font-size="24" fill="#000" transform="translate(462.81,164.93) scale(1.1000,1.0000)">a</text>
<text font-size="24" fill="#000" transform="translate(484.21,188.43) scale(1.1000,1.0000)">c</text>
<text font-size="24" fill="#000" transform="translate(474.39,203.00) scale(1.1000,1.0000)">b</text>
<text font-size="24" fill="#000" transform="translate(462.81,216.57) scale(1.1000,1.0000)">a</text>
<text font-size="24.5" fill="#000" transform="translate(52.60,342.86) rotate(-90) scale(1.0850,1.1343)">&lt;111&gt;</text>
<text font-size="24.5" fill="#000" transform="translate(274.90,342.96) rotate(-90) scale(1.0850,1.0925)">&lt;111&gt;</text>
<text font-size="24.5" fill="#000" transform="translate(495.23,342.85) rotate(-90) scale(1.0836,1.0725)">&lt;001&gt;</text>
<text font-size="24.5" fill="#000" transform="translate(57.93,380.20) scale(1.0943,1.0412)">&lt;2-1-1&gt;</text>
<text font-size="24.5" fill="#000" transform="translate(280.54,380.10) scale(1.0883,1.0471)">&lt;2-1-1&gt;</text>
<text font-size="24.5" fill="#000" transform="translate(503.24,379.53) scale(1.0884,1.0667)">&lt;-210&gt;</text>
<text font-size="35" fill="#000" transform="translate(1.50,427.16) scale(1.0667,1.0400)">(b)</text>
<text font-size="24.5" fill="#000" transform="translate(212.93,422.32) scale(1.1109,1.0769)">(111)</text>
<text font-size="24.5" fill="#000" transform="translate(359.77,422.18) scale(1.0876,1.1033)">(222)</text>
<text font-size="24.5" fill="#000" transform="translate(507.19,422.18) scale(1.0765,1.1033)">(333)</text>
<text font-size="27" fill="#303030" transform="translate(170.64,891.45) scale(1.1000,1.0000)">1</text>
<text font-size="27" fill="#303030" transform="translate(255.25,891.58) scale(1.1000,1.0000)">2</text>
<text font-size="27" fill="#303030" transform="translate(336.64,891.45) scale(1.1000,1.0000)">3</text>
<text font-size="27" fill="#303030" transform="translate(420.34,891.45) scale(1.1000,1.0000)">4</text>
<text font-size="27" fill="#303030" transform="translate(501.55,891.33) scale(1.1000,1.0000)">5</text>
<text font-size="27" fill="#303030" transform="translate(584.36,891.45) scale(1.1000,1.0000)">6</text>
<text font-size="27" fill="#303030" transform="translate(665.16,891.45) scale(1.1000,1.0000)">7</text>
<text font-size="27" fill="#303030" transform="translate(53.06,598.23) scale(1.0719,1.0926)">10<tspan font-size="20" dy="-13">5</tspan></text>
<text font-size="27" fill="#303030" transform="translate(53.11,824.75) scale(1.0468,1.0092)">10<tspan font-size="20" dy="-13">0</tspan></text>
<text font-size="30.5" fill="#303030" transform="translate(38.62,784.81) rotate(-90) scale(1.0226,1.0372)">Intensity (arb. units)</text>
<text font-size="29" fill="#303030" transform="translate(338.18,943.29) scale(1.1455,1.1206)"><tspan font-style="italic">Q</tspan><tspan font-style="italic" font-size="21" dy="10">z</tspan><tspan dy="-10"> (&#197;</tspan><tspan font-size="19" dy="-12">-1</tspan><tspan dy="12">)</tspan></text>
<text font-size="26.5" fill="#0072bd" transform="translate(132.95,547.74) scale(1.1323,1.0453)"><tspan font-family="Liberation Serif" font-style="italic">&#945;</tspan>-GeTe</text>
<text font-size="26.5" fill="#d95319" transform="translate(131.77,652.94) scale(1.0673,1.0507)">GST</text>
<text font-size="26.5" fill="#edb120" transform="translate(131.47,792.75) scale(1.1429,1.0209)">Sb<tspan font-size="20" dy="14">2</tspan><tspan dy="-14">Te</tspan><tspan font-size="20" dy="14">3</tspan></text>
</svg></body></html>
